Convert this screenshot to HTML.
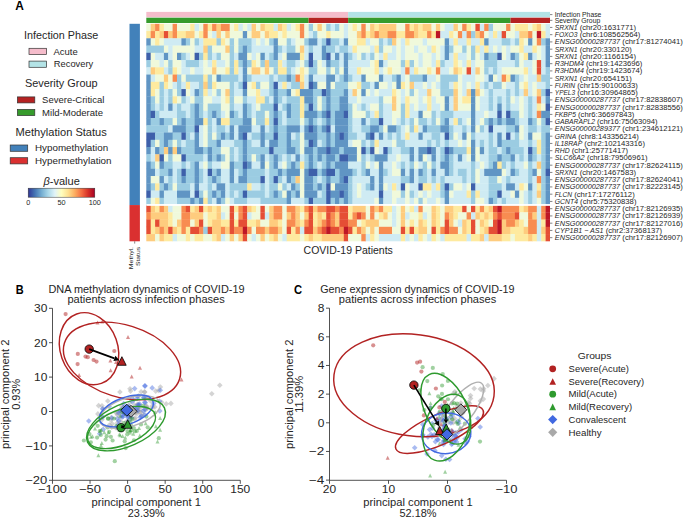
<!DOCTYPE html>
<html><head><meta charset="utf-8"><style>
html,body{margin:0;padding:0;background:#fff;}
svg{display:block;}
text{font-family:"Liberation Sans", sans-serif;}
</style></head><body>
<svg width="685" height="518" viewBox="0 0 685 518" font-family='"Liberation Sans", sans-serif'>
<rect width="685" height="518" fill="#fff"/>
<rect x="146.3" y="23.80" width="4.7" height="7.55" fill="#f0f9db"/>
<rect x="150.7" y="23.80" width="4.7" height="7.55" fill="#fecc7e"/>
<rect x="155.1" y="23.80" width="4.7" height="7.55" fill="#f88c51"/>
<rect x="159.5" y="23.80" width="4.7" height="7.55" fill="#feea9f"/>
<rect x="163.9" y="23.80" width="9.1" height="7.55" fill="#f0f9db"/>
<rect x="172.6" y="23.80" width="4.7" height="7.55" fill="#f88c51"/>
<rect x="177.0" y="23.80" width="13.5" height="7.55" fill="#f0f9db"/>
<rect x="190.2" y="23.80" width="4.7" height="7.55" fill="#feea9f"/>
<rect x="194.6" y="23.80" width="4.7" height="7.55" fill="#cfebf3"/>
<rect x="199.0" y="23.80" width="4.7" height="7.55" fill="#f0f9db"/>
<rect x="203.3" y="23.80" width="4.7" height="7.55" fill="#f88c51"/>
<rect x="207.7" y="23.80" width="4.7" height="7.55" fill="#feea9f"/>
<rect x="212.1" y="23.80" width="4.7" height="7.55" fill="#f88c51"/>
<rect x="216.5" y="23.80" width="4.7" height="7.55" fill="#fecc7e"/>
<rect x="220.9" y="23.80" width="9.1" height="7.55" fill="#f88c51"/>
<rect x="229.7" y="23.80" width="4.7" height="7.55" fill="#f0f9db"/>
<rect x="234.1" y="23.80" width="4.7" height="7.55" fill="#feea9f"/>
<rect x="238.4" y="23.80" width="4.7" height="7.55" fill="#cfebf3"/>
<rect x="242.8" y="23.80" width="4.7" height="7.55" fill="#f0f9db"/>
<rect x="247.2" y="23.80" width="4.7" height="7.55" fill="#cfebf3"/>
<rect x="251.6" y="23.80" width="4.7" height="7.55" fill="#fecc7e"/>
<rect x="256.0" y="23.80" width="4.7" height="7.55" fill="#f0f9db"/>
<rect x="260.4" y="23.80" width="4.7" height="7.55" fill="#fecc7e"/>
<rect x="264.8" y="23.80" width="9.1" height="7.55" fill="#feea9f"/>
<rect x="273.6" y="23.80" width="4.7" height="7.55" fill="#cfebf3"/>
<rect x="277.9" y="23.80" width="4.7" height="7.55" fill="#fecc7e"/>
<rect x="282.3" y="23.80" width="4.7" height="7.55" fill="#feea9f"/>
<rect x="286.7" y="23.80" width="4.7" height="7.55" fill="#cfebf3"/>
<rect x="291.1" y="23.80" width="4.7" height="7.55" fill="#f0f9db"/>
<rect x="295.5" y="23.80" width="4.7" height="7.55" fill="#feea9f"/>
<rect x="299.9" y="23.80" width="4.7" height="7.55" fill="#f88c51"/>
<rect x="304.3" y="23.80" width="4.7" height="7.55" fill="#f0f9db"/>
<rect x="308.7" y="23.80" width="4.7" height="7.55" fill="#9bcce2"/>
<rect x="313.0" y="23.80" width="4.7" height="7.55" fill="#f0f9db"/>
<rect x="317.4" y="23.80" width="4.7" height="7.55" fill="#fecc7e"/>
<rect x="321.8" y="23.80" width="4.7" height="7.55" fill="#f0f9db"/>
<rect x="326.2" y="23.80" width="4.7" height="7.55" fill="#9bcce2"/>
<rect x="330.6" y="23.80" width="4.7" height="7.55" fill="#cfebf3"/>
<rect x="335.0" y="23.80" width="4.7" height="7.55" fill="#9bcce2"/>
<rect x="339.4" y="23.80" width="4.7" height="7.55" fill="#f0f9db"/>
<rect x="343.8" y="23.80" width="4.7" height="7.55" fill="#cfebf3"/>
<rect x="348.1" y="23.80" width="4.7" height="7.55" fill="#f0f9db"/>
<rect x="352.5" y="23.80" width="4.7" height="7.55" fill="#feea9f"/>
<rect x="356.9" y="23.80" width="4.7" height="7.55" fill="#f0f9db"/>
<rect x="361.3" y="23.80" width="4.7" height="7.55" fill="#f88c51"/>
<rect x="365.7" y="23.80" width="4.7" height="7.55" fill="#f0f9db"/>
<rect x="370.1" y="23.80" width="4.7" height="7.55" fill="#fecc7e"/>
<rect x="374.5" y="23.80" width="4.7" height="7.55" fill="#feea9f"/>
<rect x="378.9" y="23.80" width="17.9" height="7.55" fill="#fecc7e"/>
<rect x="396.4" y="23.80" width="9.1" height="7.55" fill="#f0f9db"/>
<rect x="405.2" y="23.80" width="4.7" height="7.55" fill="#f88c51"/>
<rect x="409.6" y="23.80" width="4.7" height="7.55" fill="#feea9f"/>
<rect x="414.0" y="23.80" width="4.7" height="7.55" fill="#fecc7e"/>
<rect x="418.4" y="23.80" width="4.7" height="7.55" fill="#feea9f"/>
<rect x="422.7" y="23.80" width="9.1" height="7.55" fill="#fecc7e"/>
<rect x="431.5" y="23.80" width="4.7" height="7.55" fill="#f0f9db"/>
<rect x="435.9" y="23.80" width="4.7" height="7.55" fill="#fecc7e"/>
<rect x="440.3" y="23.80" width="4.7" height="7.55" fill="#f0f9db"/>
<rect x="444.7" y="23.80" width="9.1" height="7.55" fill="#cfebf3"/>
<rect x="453.5" y="23.80" width="4.7" height="7.55" fill="#fecc7e"/>
<rect x="457.9" y="23.80" width="4.7" height="7.55" fill="#f0f9db"/>
<rect x="462.2" y="23.80" width="4.7" height="7.55" fill="#f88c51"/>
<rect x="466.6" y="23.80" width="4.7" height="7.55" fill="#feea9f"/>
<rect x="471.0" y="23.80" width="4.7" height="7.55" fill="#f0f9db"/>
<rect x="475.4" y="23.80" width="4.7" height="7.55" fill="#e54e35"/>
<rect x="479.8" y="23.80" width="4.7" height="7.55" fill="#cfebf3"/>
<rect x="484.2" y="23.80" width="4.7" height="7.55" fill="#f88c51"/>
<rect x="488.6" y="23.80" width="4.7" height="7.55" fill="#9bcce2"/>
<rect x="493.0" y="23.80" width="13.5" height="7.55" fill="#f0f9db"/>
<rect x="506.1" y="23.80" width="4.7" height="7.55" fill="#f88c51"/>
<rect x="510.5" y="23.80" width="4.7" height="7.55" fill="#f0f9db"/>
<rect x="514.9" y="23.80" width="13.5" height="7.55" fill="#feea9f"/>
<rect x="528.1" y="23.80" width="4.7" height="7.55" fill="#f0f9db"/>
<rect x="532.4" y="23.80" width="4.7" height="7.55" fill="#feea9f"/>
<rect x="536.8" y="23.80" width="4.7" height="7.55" fill="#fecc7e"/>
<rect x="541.2" y="23.80" width="4.7" height="7.55" fill="#f0f9db"/>
<rect x="545.6" y="23.80" width="4.4" height="7.55" fill="#cfebf3"/>
<rect x="146.3" y="31.05" width="4.7" height="7.55" fill="#feea9f"/>
<rect x="150.7" y="31.05" width="4.7" height="7.55" fill="#f88c51"/>
<rect x="155.1" y="31.05" width="4.7" height="7.55" fill="#feea9f"/>
<rect x="159.5" y="31.05" width="4.7" height="7.55" fill="#fecc7e"/>
<rect x="163.9" y="31.05" width="4.7" height="7.55" fill="#e54e35"/>
<rect x="168.2" y="31.05" width="4.7" height="7.55" fill="#fecc7e"/>
<rect x="172.6" y="31.05" width="4.7" height="7.55" fill="#f88c51"/>
<rect x="177.0" y="31.05" width="9.1" height="7.55" fill="#feea9f"/>
<rect x="185.8" y="31.05" width="9.1" height="7.55" fill="#fecc7e"/>
<rect x="194.6" y="31.05" width="4.7" height="7.55" fill="#f0f9db"/>
<rect x="199.0" y="31.05" width="4.7" height="7.55" fill="#feea9f"/>
<rect x="203.3" y="31.05" width="4.7" height="7.55" fill="#f88c51"/>
<rect x="207.7" y="31.05" width="4.7" height="7.55" fill="#f0f9db"/>
<rect x="212.1" y="31.05" width="4.7" height="7.55" fill="#cfebf3"/>
<rect x="216.5" y="31.05" width="4.7" height="7.55" fill="#fecc7e"/>
<rect x="220.9" y="31.05" width="4.7" height="7.55" fill="#f0f9db"/>
<rect x="225.3" y="31.05" width="4.7" height="7.55" fill="#fecc7e"/>
<rect x="229.7" y="31.05" width="13.5" height="7.55" fill="#f0f9db"/>
<rect x="242.8" y="31.05" width="4.7" height="7.55" fill="#6095c4"/>
<rect x="247.2" y="31.05" width="4.7" height="7.55" fill="#f0f9db"/>
<rect x="251.6" y="31.05" width="9.1" height="7.55" fill="#fecc7e"/>
<rect x="260.4" y="31.05" width="4.7" height="7.55" fill="#f0f9db"/>
<rect x="264.8" y="31.05" width="4.7" height="7.55" fill="#fecc7e"/>
<rect x="269.2" y="31.05" width="9.1" height="7.55" fill="#feea9f"/>
<rect x="277.9" y="31.05" width="4.7" height="7.55" fill="#f0f9db"/>
<rect x="282.3" y="31.05" width="4.7" height="7.55" fill="#feea9f"/>
<rect x="286.7" y="31.05" width="13.5" height="7.55" fill="#f0f9db"/>
<rect x="299.9" y="31.05" width="4.7" height="7.55" fill="#f88c51"/>
<rect x="304.3" y="31.05" width="4.7" height="7.55" fill="#f0f9db"/>
<rect x="308.7" y="31.05" width="4.7" height="7.55" fill="#cfebf3"/>
<rect x="313.0" y="31.05" width="4.7" height="7.55" fill="#9bcce2"/>
<rect x="317.4" y="31.05" width="9.1" height="7.55" fill="#f0f9db"/>
<rect x="326.2" y="31.05" width="4.7" height="7.55" fill="#feea9f"/>
<rect x="330.6" y="31.05" width="13.5" height="7.55" fill="#f0f9db"/>
<rect x="343.8" y="31.05" width="4.7" height="7.55" fill="#cfebf3"/>
<rect x="348.1" y="31.05" width="9.1" height="7.55" fill="#f0f9db"/>
<rect x="356.9" y="31.05" width="4.7" height="7.55" fill="#fecc7e"/>
<rect x="361.3" y="31.05" width="4.7" height="7.55" fill="#f88c51"/>
<rect x="365.7" y="31.05" width="4.7" height="7.55" fill="#feea9f"/>
<rect x="370.1" y="31.05" width="4.7" height="7.55" fill="#fecc7e"/>
<rect x="374.5" y="31.05" width="4.7" height="7.55" fill="#f88c51"/>
<rect x="378.9" y="31.05" width="9.1" height="7.55" fill="#fecc7e"/>
<rect x="387.6" y="31.05" width="9.1" height="7.55" fill="#f88c51"/>
<rect x="396.4" y="31.05" width="9.1" height="7.55" fill="#feea9f"/>
<rect x="405.2" y="31.05" width="9.1" height="7.55" fill="#f88c51"/>
<rect x="414.0" y="31.05" width="4.7" height="7.55" fill="#fecc7e"/>
<rect x="418.4" y="31.05" width="9.1" height="7.55" fill="#feea9f"/>
<rect x="427.1" y="31.05" width="4.7" height="7.55" fill="#f88c51"/>
<rect x="431.5" y="31.05" width="4.7" height="7.55" fill="#feea9f"/>
<rect x="435.9" y="31.05" width="4.7" height="7.55" fill="#bd1726"/>
<rect x="440.3" y="31.05" width="9.1" height="7.55" fill="#cfebf3"/>
<rect x="449.1" y="31.05" width="4.7" height="7.55" fill="#feea9f"/>
<rect x="453.5" y="31.05" width="4.7" height="7.55" fill="#f0f9db"/>
<rect x="457.9" y="31.05" width="4.7" height="7.55" fill="#f88c51"/>
<rect x="462.2" y="31.05" width="4.7" height="7.55" fill="#cfebf3"/>
<rect x="466.6" y="31.05" width="4.7" height="7.55" fill="#f88c51"/>
<rect x="471.0" y="31.05" width="4.7" height="7.55" fill="#9bcce2"/>
<rect x="475.4" y="31.05" width="4.7" height="7.55" fill="#fecc7e"/>
<rect x="479.8" y="31.05" width="4.7" height="7.55" fill="#f88c51"/>
<rect x="484.2" y="31.05" width="4.7" height="7.55" fill="#f0f9db"/>
<rect x="488.6" y="31.05" width="4.7" height="7.55" fill="#cfebf3"/>
<rect x="493.0" y="31.05" width="4.7" height="7.55" fill="#feea9f"/>
<rect x="497.3" y="31.05" width="4.7" height="7.55" fill="#cfebf3"/>
<rect x="501.7" y="31.05" width="4.7" height="7.55" fill="#e54e35"/>
<rect x="506.1" y="31.05" width="9.1" height="7.55" fill="#f0f9db"/>
<rect x="514.9" y="31.05" width="4.7" height="7.55" fill="#cfebf3"/>
<rect x="519.3" y="31.05" width="9.1" height="7.55" fill="#fecc7e"/>
<rect x="528.1" y="31.05" width="4.7" height="7.55" fill="#f88c51"/>
<rect x="532.4" y="31.05" width="4.7" height="7.55" fill="#f0f9db"/>
<rect x="536.8" y="31.05" width="4.7" height="7.55" fill="#bd1726"/>
<rect x="541.2" y="31.05" width="4.7" height="7.55" fill="#feea9f"/>
<rect x="545.6" y="31.05" width="4.4" height="7.55" fill="#cfebf3"/>
<rect x="146.3" y="38.30" width="4.7" height="7.55" fill="#6095c4"/>
<rect x="150.7" y="38.30" width="4.7" height="7.55" fill="#f0f9db"/>
<rect x="155.1" y="38.30" width="4.7" height="7.55" fill="#feea9f"/>
<rect x="159.5" y="38.30" width="4.7" height="7.55" fill="#f0f9db"/>
<rect x="163.9" y="38.30" width="17.9" height="7.55" fill="#cfebf3"/>
<rect x="181.4" y="38.30" width="4.7" height="7.55" fill="#6095c4"/>
<rect x="185.8" y="38.30" width="4.7" height="7.55" fill="#9bcce2"/>
<rect x="190.2" y="38.30" width="4.7" height="7.55" fill="#f0f9db"/>
<rect x="194.6" y="38.30" width="4.7" height="7.55" fill="#9bcce2"/>
<rect x="199.0" y="38.30" width="4.7" height="7.55" fill="#cfebf3"/>
<rect x="203.3" y="38.30" width="13.5" height="7.55" fill="#feea9f"/>
<rect x="216.5" y="38.30" width="4.7" height="7.55" fill="#9bcce2"/>
<rect x="220.9" y="38.30" width="4.7" height="7.55" fill="#feea9f"/>
<rect x="225.3" y="38.30" width="4.7" height="7.55" fill="#f0f9db"/>
<rect x="229.7" y="38.30" width="4.7" height="7.55" fill="#9bcce2"/>
<rect x="234.1" y="38.30" width="4.7" height="7.55" fill="#f0f9db"/>
<rect x="238.4" y="38.30" width="13.5" height="7.55" fill="#9bcce2"/>
<rect x="251.6" y="38.30" width="4.7" height="7.55" fill="#cfebf3"/>
<rect x="256.0" y="38.30" width="4.7" height="7.55" fill="#f0f9db"/>
<rect x="260.4" y="38.30" width="4.7" height="7.55" fill="#cfebf3"/>
<rect x="264.8" y="38.30" width="4.7" height="7.55" fill="#f0f9db"/>
<rect x="269.2" y="38.30" width="4.7" height="7.55" fill="#9bcce2"/>
<rect x="273.6" y="38.30" width="4.7" height="7.55" fill="#6095c4"/>
<rect x="277.9" y="38.30" width="9.1" height="7.55" fill="#f0f9db"/>
<rect x="286.7" y="38.30" width="4.7" height="7.55" fill="#9bcce2"/>
<rect x="291.1" y="38.30" width="4.7" height="7.55" fill="#cfebf3"/>
<rect x="295.5" y="38.30" width="9.1" height="7.55" fill="#f0f9db"/>
<rect x="304.3" y="38.30" width="4.7" height="7.55" fill="#9bcce2"/>
<rect x="308.7" y="38.30" width="9.1" height="7.55" fill="#6095c4"/>
<rect x="317.4" y="38.30" width="4.7" height="7.55" fill="#cfebf3"/>
<rect x="321.8" y="38.30" width="4.7" height="7.55" fill="#9bcce2"/>
<rect x="326.2" y="38.30" width="4.7" height="7.55" fill="#3e60aa"/>
<rect x="330.6" y="38.30" width="9.1" height="7.55" fill="#9bcce2"/>
<rect x="339.4" y="38.30" width="4.7" height="7.55" fill="#cfebf3"/>
<rect x="343.8" y="38.30" width="4.7" height="7.55" fill="#6095c4"/>
<rect x="348.1" y="38.30" width="9.1" height="7.55" fill="#f0f9db"/>
<rect x="356.9" y="38.30" width="9.1" height="7.55" fill="#feea9f"/>
<rect x="365.7" y="38.30" width="4.7" height="7.55" fill="#cfebf3"/>
<rect x="370.1" y="38.30" width="9.1" height="7.55" fill="#f0f9db"/>
<rect x="378.9" y="38.30" width="4.7" height="7.55" fill="#9bcce2"/>
<rect x="383.3" y="38.30" width="4.7" height="7.55" fill="#cfebf3"/>
<rect x="387.6" y="38.30" width="4.7" height="7.55" fill="#9bcce2"/>
<rect x="392.0" y="38.30" width="4.7" height="7.55" fill="#fecc7e"/>
<rect x="396.4" y="38.30" width="4.7" height="7.55" fill="#f0f9db"/>
<rect x="400.8" y="38.30" width="4.7" height="7.55" fill="#cfebf3"/>
<rect x="405.2" y="38.30" width="4.7" height="7.55" fill="#feea9f"/>
<rect x="409.6" y="38.30" width="13.5" height="7.55" fill="#f0f9db"/>
<rect x="422.7" y="38.30" width="4.7" height="7.55" fill="#cfebf3"/>
<rect x="427.1" y="38.30" width="17.9" height="7.55" fill="#f0f9db"/>
<rect x="444.7" y="38.30" width="4.7" height="7.55" fill="#6095c4"/>
<rect x="449.1" y="38.30" width="4.7" height="7.55" fill="#cfebf3"/>
<rect x="453.5" y="38.30" width="4.7" height="7.55" fill="#feea9f"/>
<rect x="457.9" y="38.30" width="9.1" height="7.55" fill="#cfebf3"/>
<rect x="466.6" y="38.30" width="4.7" height="7.55" fill="#feea9f"/>
<rect x="471.0" y="38.30" width="9.1" height="7.55" fill="#cfebf3"/>
<rect x="479.8" y="38.30" width="4.7" height="7.55" fill="#feea9f"/>
<rect x="484.2" y="38.30" width="4.7" height="7.55" fill="#6095c4"/>
<rect x="488.6" y="38.30" width="13.5" height="7.55" fill="#cfebf3"/>
<rect x="501.7" y="38.30" width="9.1" height="7.55" fill="#9bcce2"/>
<rect x="510.5" y="38.30" width="4.7" height="7.55" fill="#cfebf3"/>
<rect x="514.9" y="38.30" width="4.7" height="7.55" fill="#9bcce2"/>
<rect x="519.3" y="38.30" width="4.7" height="7.55" fill="#feea9f"/>
<rect x="523.7" y="38.30" width="4.7" height="7.55" fill="#f0f9db"/>
<rect x="528.1" y="38.30" width="4.7" height="7.55" fill="#6095c4"/>
<rect x="532.4" y="38.30" width="4.7" height="7.55" fill="#f0f9db"/>
<rect x="536.8" y="38.30" width="4.7" height="7.55" fill="#f88c51"/>
<rect x="541.2" y="38.30" width="4.7" height="7.55" fill="#9bcce2"/>
<rect x="545.6" y="38.30" width="4.4" height="7.55" fill="#6095c4"/>
<rect x="146.3" y="45.55" width="17.9" height="7.55" fill="#9bcce2"/>
<rect x="163.9" y="45.55" width="4.7" height="7.55" fill="#f0f9db"/>
<rect x="168.2" y="45.55" width="4.7" height="7.55" fill="#cfebf3"/>
<rect x="172.6" y="45.55" width="22.2" height="7.55" fill="#f0f9db"/>
<rect x="194.6" y="45.55" width="9.1" height="7.55" fill="#cfebf3"/>
<rect x="203.3" y="45.55" width="4.7" height="7.55" fill="#fecc7e"/>
<rect x="207.7" y="45.55" width="4.7" height="7.55" fill="#9bcce2"/>
<rect x="212.1" y="45.55" width="13.5" height="7.55" fill="#f0f9db"/>
<rect x="225.3" y="45.55" width="4.7" height="7.55" fill="#fecc7e"/>
<rect x="229.7" y="45.55" width="4.7" height="7.55" fill="#9bcce2"/>
<rect x="234.1" y="45.55" width="4.7" height="7.55" fill="#f0f9db"/>
<rect x="238.4" y="45.55" width="4.7" height="7.55" fill="#9bcce2"/>
<rect x="242.8" y="45.55" width="4.7" height="7.55" fill="#6095c4"/>
<rect x="247.2" y="45.55" width="4.7" height="7.55" fill="#9bcce2"/>
<rect x="251.6" y="45.55" width="22.2" height="7.55" fill="#cfebf3"/>
<rect x="273.6" y="45.55" width="4.7" height="7.55" fill="#6095c4"/>
<rect x="277.9" y="45.55" width="4.7" height="7.55" fill="#9bcce2"/>
<rect x="282.3" y="45.55" width="4.7" height="7.55" fill="#cfebf3"/>
<rect x="286.7" y="45.55" width="9.1" height="7.55" fill="#9bcce2"/>
<rect x="295.5" y="45.55" width="4.7" height="7.55" fill="#f0f9db"/>
<rect x="299.9" y="45.55" width="4.7" height="7.55" fill="#fecc7e"/>
<rect x="304.3" y="45.55" width="4.7" height="7.55" fill="#cfebf3"/>
<rect x="308.7" y="45.55" width="4.7" height="7.55" fill="#9bcce2"/>
<rect x="313.0" y="45.55" width="9.1" height="7.55" fill="#cfebf3"/>
<rect x="321.8" y="45.55" width="4.7" height="7.55" fill="#6095c4"/>
<rect x="326.2" y="45.55" width="9.1" height="7.55" fill="#9bcce2"/>
<rect x="335.0" y="45.55" width="4.7" height="7.55" fill="#cfebf3"/>
<rect x="339.4" y="45.55" width="9.1" height="7.55" fill="#9bcce2"/>
<rect x="348.1" y="45.55" width="4.7" height="7.55" fill="#cfebf3"/>
<rect x="352.5" y="45.55" width="4.7" height="7.55" fill="#feea9f"/>
<rect x="356.9" y="45.55" width="13.5" height="7.55" fill="#f0f9db"/>
<rect x="370.1" y="45.55" width="4.7" height="7.55" fill="#cfebf3"/>
<rect x="374.5" y="45.55" width="4.7" height="7.55" fill="#feea9f"/>
<rect x="378.9" y="45.55" width="4.7" height="7.55" fill="#9bcce2"/>
<rect x="383.3" y="45.55" width="9.1" height="7.55" fill="#f0f9db"/>
<rect x="392.0" y="45.55" width="4.7" height="7.55" fill="#cfebf3"/>
<rect x="396.4" y="45.55" width="4.7" height="7.55" fill="#f0f9db"/>
<rect x="400.8" y="45.55" width="4.7" height="7.55" fill="#cfebf3"/>
<rect x="405.2" y="45.55" width="9.1" height="7.55" fill="#f0f9db"/>
<rect x="414.0" y="45.55" width="4.7" height="7.55" fill="#cfebf3"/>
<rect x="418.4" y="45.55" width="9.1" height="7.55" fill="#f0f9db"/>
<rect x="427.1" y="45.55" width="4.7" height="7.55" fill="#cfebf3"/>
<rect x="431.5" y="45.55" width="4.7" height="7.55" fill="#feea9f"/>
<rect x="435.9" y="45.55" width="4.7" height="7.55" fill="#f0f9db"/>
<rect x="440.3" y="45.55" width="4.7" height="7.55" fill="#cfebf3"/>
<rect x="444.7" y="45.55" width="4.7" height="7.55" fill="#6095c4"/>
<rect x="449.1" y="45.55" width="4.7" height="7.55" fill="#9bcce2"/>
<rect x="453.5" y="45.55" width="9.1" height="7.55" fill="#f0f9db"/>
<rect x="462.2" y="45.55" width="4.7" height="7.55" fill="#9bcce2"/>
<rect x="466.6" y="45.55" width="4.7" height="7.55" fill="#f0f9db"/>
<rect x="471.0" y="45.55" width="4.7" height="7.55" fill="#9bcce2"/>
<rect x="475.4" y="45.55" width="4.7" height="7.55" fill="#feea9f"/>
<rect x="479.8" y="45.55" width="4.7" height="7.55" fill="#cfebf3"/>
<rect x="484.2" y="45.55" width="4.7" height="7.55" fill="#feea9f"/>
<rect x="488.6" y="45.55" width="4.7" height="7.55" fill="#cfebf3"/>
<rect x="493.0" y="45.55" width="4.7" height="7.55" fill="#f0f9db"/>
<rect x="497.3" y="45.55" width="4.7" height="7.55" fill="#cfebf3"/>
<rect x="501.7" y="45.55" width="4.7" height="7.55" fill="#f0f9db"/>
<rect x="506.1" y="45.55" width="4.7" height="7.55" fill="#cfebf3"/>
<rect x="510.5" y="45.55" width="9.1" height="7.55" fill="#f0f9db"/>
<rect x="519.3" y="45.55" width="4.7" height="7.55" fill="#feea9f"/>
<rect x="523.7" y="45.55" width="9.1" height="7.55" fill="#cfebf3"/>
<rect x="532.4" y="45.55" width="4.7" height="7.55" fill="#feea9f"/>
<rect x="536.8" y="45.55" width="4.7" height="7.55" fill="#f0f9db"/>
<rect x="541.2" y="45.55" width="4.7" height="7.55" fill="#cfebf3"/>
<rect x="545.6" y="45.55" width="4.4" height="7.55" fill="#6095c4"/>
<rect x="146.3" y="52.80" width="4.7" height="7.55" fill="#3e60aa"/>
<rect x="150.7" y="52.80" width="4.7" height="7.55" fill="#f0f9db"/>
<rect x="155.1" y="52.80" width="9.1" height="7.55" fill="#cfebf3"/>
<rect x="163.9" y="52.80" width="4.7" height="7.55" fill="#6095c4"/>
<rect x="168.2" y="52.80" width="4.7" height="7.55" fill="#cfebf3"/>
<rect x="172.6" y="52.80" width="4.7" height="7.55" fill="#f0f9db"/>
<rect x="177.0" y="52.80" width="4.7" height="7.55" fill="#6095c4"/>
<rect x="181.4" y="52.80" width="4.7" height="7.55" fill="#9bcce2"/>
<rect x="185.8" y="52.80" width="4.7" height="7.55" fill="#cfebf3"/>
<rect x="190.2" y="52.80" width="4.7" height="7.55" fill="#f0f9db"/>
<rect x="194.6" y="52.80" width="4.7" height="7.55" fill="#3e60aa"/>
<rect x="199.0" y="52.80" width="4.7" height="7.55" fill="#9bcce2"/>
<rect x="203.3" y="52.80" width="4.7" height="7.55" fill="#feea9f"/>
<rect x="207.7" y="52.80" width="4.7" height="7.55" fill="#9bcce2"/>
<rect x="212.1" y="52.80" width="4.7" height="7.55" fill="#cfebf3"/>
<rect x="216.5" y="52.80" width="4.7" height="7.55" fill="#9bcce2"/>
<rect x="220.9" y="52.80" width="9.1" height="7.55" fill="#f0f9db"/>
<rect x="229.7" y="52.80" width="4.7" height="7.55" fill="#9bcce2"/>
<rect x="234.1" y="52.80" width="4.7" height="7.55" fill="#cfebf3"/>
<rect x="238.4" y="52.80" width="9.1" height="7.55" fill="#6095c4"/>
<rect x="247.2" y="52.80" width="4.7" height="7.55" fill="#f0f9db"/>
<rect x="251.6" y="52.80" width="4.7" height="7.55" fill="#cfebf3"/>
<rect x="256.0" y="52.80" width="4.7" height="7.55" fill="#f0f9db"/>
<rect x="260.4" y="52.80" width="4.7" height="7.55" fill="#6095c4"/>
<rect x="264.8" y="52.80" width="4.7" height="7.55" fill="#cfebf3"/>
<rect x="269.2" y="52.80" width="4.7" height="7.55" fill="#9bcce2"/>
<rect x="273.6" y="52.80" width="4.7" height="7.55" fill="#6095c4"/>
<rect x="277.9" y="52.80" width="4.7" height="7.55" fill="#cfebf3"/>
<rect x="282.3" y="52.80" width="4.7" height="7.55" fill="#f0f9db"/>
<rect x="286.7" y="52.80" width="13.5" height="7.55" fill="#6095c4"/>
<rect x="299.9" y="52.80" width="4.7" height="7.55" fill="#feea9f"/>
<rect x="304.3" y="52.80" width="4.7" height="7.55" fill="#cfebf3"/>
<rect x="308.7" y="52.80" width="4.7" height="7.55" fill="#3e60aa"/>
<rect x="313.0" y="52.80" width="9.1" height="7.55" fill="#cfebf3"/>
<rect x="321.8" y="52.80" width="4.7" height="7.55" fill="#6095c4"/>
<rect x="326.2" y="52.80" width="4.7" height="7.55" fill="#3e60aa"/>
<rect x="330.6" y="52.80" width="4.7" height="7.55" fill="#cfebf3"/>
<rect x="335.0" y="52.80" width="4.7" height="7.55" fill="#6095c4"/>
<rect x="339.4" y="52.80" width="4.7" height="7.55" fill="#cfebf3"/>
<rect x="343.8" y="52.80" width="4.7" height="7.55" fill="#6095c4"/>
<rect x="348.1" y="52.80" width="4.7" height="7.55" fill="#9bcce2"/>
<rect x="352.5" y="52.80" width="4.7" height="7.55" fill="#cfebf3"/>
<rect x="356.9" y="52.80" width="4.7" height="7.55" fill="#f0f9db"/>
<rect x="361.3" y="52.80" width="4.7" height="7.55" fill="#9bcce2"/>
<rect x="365.7" y="52.80" width="4.7" height="7.55" fill="#cfebf3"/>
<rect x="370.1" y="52.80" width="4.7" height="7.55" fill="#9bcce2"/>
<rect x="374.5" y="52.80" width="4.7" height="7.55" fill="#f0f9db"/>
<rect x="378.9" y="52.80" width="4.7" height="7.55" fill="#cfebf3"/>
<rect x="383.3" y="52.80" width="4.7" height="7.55" fill="#feea9f"/>
<rect x="387.6" y="52.80" width="9.1" height="7.55" fill="#cfebf3"/>
<rect x="396.4" y="52.80" width="4.7" height="7.55" fill="#f0f9db"/>
<rect x="400.8" y="52.80" width="4.7" height="7.55" fill="#cfebf3"/>
<rect x="405.2" y="52.80" width="13.5" height="7.55" fill="#f0f9db"/>
<rect x="418.4" y="52.80" width="4.7" height="7.55" fill="#cfebf3"/>
<rect x="422.7" y="52.80" width="9.1" height="7.55" fill="#f0f9db"/>
<rect x="431.5" y="52.80" width="4.7" height="7.55" fill="#cfebf3"/>
<rect x="435.9" y="52.80" width="4.7" height="7.55" fill="#f0f9db"/>
<rect x="440.3" y="52.80" width="4.7" height="7.55" fill="#cfebf3"/>
<rect x="444.7" y="52.80" width="4.7" height="7.55" fill="#6095c4"/>
<rect x="449.1" y="52.80" width="4.7" height="7.55" fill="#cfebf3"/>
<rect x="453.5" y="52.80" width="4.7" height="7.55" fill="#feea9f"/>
<rect x="457.9" y="52.80" width="9.1" height="7.55" fill="#cfebf3"/>
<rect x="466.6" y="52.80" width="4.7" height="7.55" fill="#f0f9db"/>
<rect x="471.0" y="52.80" width="4.7" height="7.55" fill="#9bcce2"/>
<rect x="475.4" y="52.80" width="4.7" height="7.55" fill="#f0f9db"/>
<rect x="479.8" y="52.80" width="4.7" height="7.55" fill="#cfebf3"/>
<rect x="484.2" y="52.80" width="4.7" height="7.55" fill="#6095c4"/>
<rect x="488.6" y="52.80" width="9.1" height="7.55" fill="#9bcce2"/>
<rect x="497.3" y="52.80" width="4.7" height="7.55" fill="#3e60aa"/>
<rect x="501.7" y="52.80" width="4.7" height="7.55" fill="#f0f9db"/>
<rect x="506.1" y="52.80" width="4.7" height="7.55" fill="#cfebf3"/>
<rect x="510.5" y="52.80" width="4.7" height="7.55" fill="#6095c4"/>
<rect x="514.9" y="52.80" width="4.7" height="7.55" fill="#9bcce2"/>
<rect x="519.3" y="52.80" width="4.7" height="7.55" fill="#f0f9db"/>
<rect x="523.7" y="52.80" width="4.7" height="7.55" fill="#feea9f"/>
<rect x="528.1" y="52.80" width="4.7" height="7.55" fill="#6095c4"/>
<rect x="532.4" y="52.80" width="4.7" height="7.55" fill="#cfebf3"/>
<rect x="536.8" y="52.80" width="4.7" height="7.55" fill="#f0f9db"/>
<rect x="541.2" y="52.80" width="4.7" height="7.55" fill="#cfebf3"/>
<rect x="545.6" y="52.80" width="4.4" height="7.55" fill="#6095c4"/>
<rect x="146.3" y="60.05" width="4.7" height="7.55" fill="#9bcce2"/>
<rect x="150.7" y="60.05" width="9.1" height="7.55" fill="#f0f9db"/>
<rect x="159.5" y="60.05" width="4.7" height="7.55" fill="#cfebf3"/>
<rect x="163.9" y="60.05" width="4.7" height="7.55" fill="#f0f9db"/>
<rect x="168.2" y="60.05" width="4.7" height="7.55" fill="#9bcce2"/>
<rect x="172.6" y="60.05" width="9.1" height="7.55" fill="#f0f9db"/>
<rect x="181.4" y="60.05" width="4.7" height="7.55" fill="#cfebf3"/>
<rect x="185.8" y="60.05" width="13.5" height="7.55" fill="#9bcce2"/>
<rect x="199.0" y="60.05" width="4.7" height="7.55" fill="#cfebf3"/>
<rect x="203.3" y="60.05" width="4.7" height="7.55" fill="#f0f9db"/>
<rect x="207.7" y="60.05" width="4.7" height="7.55" fill="#cfebf3"/>
<rect x="212.1" y="60.05" width="4.7" height="7.55" fill="#feea9f"/>
<rect x="216.5" y="60.05" width="9.1" height="7.55" fill="#cfebf3"/>
<rect x="225.3" y="60.05" width="4.7" height="7.55" fill="#f0f9db"/>
<rect x="229.7" y="60.05" width="4.7" height="7.55" fill="#9bcce2"/>
<rect x="234.1" y="60.05" width="4.7" height="7.55" fill="#feea9f"/>
<rect x="238.4" y="60.05" width="4.7" height="7.55" fill="#9bcce2"/>
<rect x="242.8" y="60.05" width="4.7" height="7.55" fill="#6095c4"/>
<rect x="247.2" y="60.05" width="4.7" height="7.55" fill="#9bcce2"/>
<rect x="251.6" y="60.05" width="4.7" height="7.55" fill="#feea9f"/>
<rect x="256.0" y="60.05" width="4.7" height="7.55" fill="#f0f9db"/>
<rect x="260.4" y="60.05" width="4.7" height="7.55" fill="#9bcce2"/>
<rect x="264.8" y="60.05" width="4.7" height="7.55" fill="#fecc7e"/>
<rect x="269.2" y="60.05" width="9.1" height="7.55" fill="#9bcce2"/>
<rect x="277.9" y="60.05" width="4.7" height="7.55" fill="#feea9f"/>
<rect x="282.3" y="60.05" width="4.7" height="7.55" fill="#cfebf3"/>
<rect x="286.7" y="60.05" width="9.1" height="7.55" fill="#9bcce2"/>
<rect x="295.5" y="60.05" width="4.7" height="7.55" fill="#cfebf3"/>
<rect x="299.9" y="60.05" width="4.7" height="7.55" fill="#f0f9db"/>
<rect x="304.3" y="60.05" width="4.7" height="7.55" fill="#9bcce2"/>
<rect x="308.7" y="60.05" width="4.7" height="7.55" fill="#3e60aa"/>
<rect x="313.0" y="60.05" width="4.7" height="7.55" fill="#9bcce2"/>
<rect x="317.4" y="60.05" width="4.7" height="7.55" fill="#f0f9db"/>
<rect x="321.8" y="60.05" width="4.7" height="7.55" fill="#cfebf3"/>
<rect x="326.2" y="60.05" width="4.7" height="7.55" fill="#6095c4"/>
<rect x="330.6" y="60.05" width="9.1" height="7.55" fill="#9bcce2"/>
<rect x="339.4" y="60.05" width="4.7" height="7.55" fill="#cfebf3"/>
<rect x="343.8" y="60.05" width="4.7" height="7.55" fill="#6095c4"/>
<rect x="348.1" y="60.05" width="22.2" height="7.55" fill="#cfebf3"/>
<rect x="370.1" y="60.05" width="4.7" height="7.55" fill="#f0f9db"/>
<rect x="374.5" y="60.05" width="4.7" height="7.55" fill="#feea9f"/>
<rect x="378.9" y="60.05" width="4.7" height="7.55" fill="#6095c4"/>
<rect x="383.3" y="60.05" width="4.7" height="7.55" fill="#cfebf3"/>
<rect x="387.6" y="60.05" width="13.5" height="7.55" fill="#f0f9db"/>
<rect x="400.8" y="60.05" width="4.7" height="7.55" fill="#9bcce2"/>
<rect x="405.2" y="60.05" width="4.7" height="7.55" fill="#feea9f"/>
<rect x="409.6" y="60.05" width="4.7" height="7.55" fill="#9bcce2"/>
<rect x="414.0" y="60.05" width="4.7" height="7.55" fill="#f0f9db"/>
<rect x="418.4" y="60.05" width="4.7" height="7.55" fill="#cfebf3"/>
<rect x="422.7" y="60.05" width="9.1" height="7.55" fill="#f0f9db"/>
<rect x="431.5" y="60.05" width="4.7" height="7.55" fill="#cfebf3"/>
<rect x="435.9" y="60.05" width="4.7" height="7.55" fill="#feea9f"/>
<rect x="440.3" y="60.05" width="4.7" height="7.55" fill="#9bcce2"/>
<rect x="444.7" y="60.05" width="9.1" height="7.55" fill="#cfebf3"/>
<rect x="453.5" y="60.05" width="4.7" height="7.55" fill="#feea9f"/>
<rect x="457.9" y="60.05" width="4.7" height="7.55" fill="#f0f9db"/>
<rect x="462.2" y="60.05" width="4.7" height="7.55" fill="#cfebf3"/>
<rect x="466.6" y="60.05" width="4.7" height="7.55" fill="#feea9f"/>
<rect x="471.0" y="60.05" width="4.7" height="7.55" fill="#cfebf3"/>
<rect x="475.4" y="60.05" width="9.1" height="7.55" fill="#f0f9db"/>
<rect x="484.2" y="60.05" width="13.5" height="7.55" fill="#9bcce2"/>
<rect x="497.3" y="60.05" width="17.9" height="7.55" fill="#cfebf3"/>
<rect x="514.9" y="60.05" width="4.7" height="7.55" fill="#9bcce2"/>
<rect x="519.3" y="60.05" width="4.7" height="7.55" fill="#f0f9db"/>
<rect x="523.7" y="60.05" width="9.1" height="7.55" fill="#cfebf3"/>
<rect x="532.4" y="60.05" width="4.7" height="7.55" fill="#f0f9db"/>
<rect x="536.8" y="60.05" width="4.7" height="7.55" fill="#e54e35"/>
<rect x="541.2" y="60.05" width="4.7" height="7.55" fill="#cfebf3"/>
<rect x="545.6" y="60.05" width="4.4" height="7.55" fill="#6095c4"/>
<rect x="146.3" y="67.30" width="4.7" height="7.55" fill="#cfebf3"/>
<rect x="150.7" y="67.30" width="4.7" height="7.55" fill="#fecc7e"/>
<rect x="155.1" y="67.30" width="9.1" height="7.55" fill="#feea9f"/>
<rect x="163.9" y="67.30" width="4.7" height="7.55" fill="#cfebf3"/>
<rect x="168.2" y="67.30" width="4.7" height="7.55" fill="#9bcce2"/>
<rect x="172.6" y="67.30" width="4.7" height="7.55" fill="#feea9f"/>
<rect x="177.0" y="67.30" width="4.7" height="7.55" fill="#f0f9db"/>
<rect x="181.4" y="67.30" width="9.1" height="7.55" fill="#cfebf3"/>
<rect x="190.2" y="67.30" width="4.7" height="7.55" fill="#f0f9db"/>
<rect x="194.6" y="67.30" width="9.1" height="7.55" fill="#cfebf3"/>
<rect x="203.3" y="67.30" width="9.1" height="7.55" fill="#f0f9db"/>
<rect x="212.1" y="67.30" width="4.7" height="7.55" fill="#fecc7e"/>
<rect x="216.5" y="67.30" width="9.1" height="7.55" fill="#f0f9db"/>
<rect x="225.3" y="67.30" width="4.7" height="7.55" fill="#feea9f"/>
<rect x="229.7" y="67.30" width="4.7" height="7.55" fill="#9bcce2"/>
<rect x="234.1" y="67.30" width="4.7" height="7.55" fill="#feea9f"/>
<rect x="238.4" y="67.30" width="4.7" height="7.55" fill="#cfebf3"/>
<rect x="242.8" y="67.30" width="4.7" height="7.55" fill="#6095c4"/>
<rect x="247.2" y="67.30" width="4.7" height="7.55" fill="#f0f9db"/>
<rect x="251.6" y="67.30" width="9.1" height="7.55" fill="#fecc7e"/>
<rect x="260.4" y="67.30" width="4.7" height="7.55" fill="#f0f9db"/>
<rect x="264.8" y="67.30" width="4.7" height="7.55" fill="#fecc7e"/>
<rect x="269.2" y="67.30" width="4.7" height="7.55" fill="#f0f9db"/>
<rect x="273.6" y="67.30" width="4.7" height="7.55" fill="#9bcce2"/>
<rect x="277.9" y="67.30" width="9.1" height="7.55" fill="#feea9f"/>
<rect x="286.7" y="67.30" width="4.7" height="7.55" fill="#9bcce2"/>
<rect x="291.1" y="67.30" width="4.7" height="7.55" fill="#cfebf3"/>
<rect x="295.5" y="67.30" width="4.7" height="7.55" fill="#f0f9db"/>
<rect x="299.9" y="67.30" width="4.7" height="7.55" fill="#feea9f"/>
<rect x="304.3" y="67.30" width="4.7" height="7.55" fill="#f0f9db"/>
<rect x="308.7" y="67.30" width="9.1" height="7.55" fill="#9bcce2"/>
<rect x="317.4" y="67.30" width="9.1" height="7.55" fill="#f0f9db"/>
<rect x="326.2" y="67.30" width="4.7" height="7.55" fill="#9bcce2"/>
<rect x="330.6" y="67.30" width="4.7" height="7.55" fill="#f0f9db"/>
<rect x="335.0" y="67.30" width="4.7" height="7.55" fill="#9bcce2"/>
<rect x="339.4" y="67.30" width="4.7" height="7.55" fill="#f0f9db"/>
<rect x="343.8" y="67.30" width="4.7" height="7.55" fill="#6095c4"/>
<rect x="348.1" y="67.30" width="9.1" height="7.55" fill="#cfebf3"/>
<rect x="356.9" y="67.30" width="4.7" height="7.55" fill="#feea9f"/>
<rect x="361.3" y="67.30" width="13.5" height="7.55" fill="#f0f9db"/>
<rect x="374.5" y="67.30" width="4.7" height="7.55" fill="#feea9f"/>
<rect x="378.9" y="67.30" width="4.7" height="7.55" fill="#cfebf3"/>
<rect x="383.3" y="67.30" width="4.7" height="7.55" fill="#f0f9db"/>
<rect x="387.6" y="67.30" width="4.7" height="7.55" fill="#feea9f"/>
<rect x="392.0" y="67.30" width="9.1" height="7.55" fill="#f0f9db"/>
<rect x="400.8" y="67.30" width="4.7" height="7.55" fill="#cfebf3"/>
<rect x="405.2" y="67.30" width="4.7" height="7.55" fill="#f88c51"/>
<rect x="409.6" y="67.30" width="4.7" height="7.55" fill="#cfebf3"/>
<rect x="414.0" y="67.30" width="4.7" height="7.55" fill="#feea9f"/>
<rect x="418.4" y="67.30" width="9.1" height="7.55" fill="#f0f9db"/>
<rect x="427.1" y="67.30" width="4.7" height="7.55" fill="#feea9f"/>
<rect x="431.5" y="67.30" width="4.7" height="7.55" fill="#f0f9db"/>
<rect x="435.9" y="67.30" width="4.7" height="7.55" fill="#f88c51"/>
<rect x="440.3" y="67.30" width="9.1" height="7.55" fill="#cfebf3"/>
<rect x="449.1" y="67.30" width="4.7" height="7.55" fill="#f0f9db"/>
<rect x="453.5" y="67.30" width="4.7" height="7.55" fill="#fecc7e"/>
<rect x="457.9" y="67.30" width="4.7" height="7.55" fill="#feea9f"/>
<rect x="462.2" y="67.30" width="4.7" height="7.55" fill="#f0f9db"/>
<rect x="466.6" y="67.30" width="4.7" height="7.55" fill="#e54e35"/>
<rect x="471.0" y="67.30" width="4.7" height="7.55" fill="#cfebf3"/>
<rect x="475.4" y="67.30" width="4.7" height="7.55" fill="#fecc7e"/>
<rect x="479.8" y="67.30" width="4.7" height="7.55" fill="#f0f9db"/>
<rect x="484.2" y="67.30" width="4.7" height="7.55" fill="#9bcce2"/>
<rect x="488.6" y="67.30" width="4.7" height="7.55" fill="#cfebf3"/>
<rect x="493.0" y="67.30" width="4.7" height="7.55" fill="#9bcce2"/>
<rect x="497.3" y="67.30" width="4.7" height="7.55" fill="#cfebf3"/>
<rect x="501.7" y="67.30" width="22.2" height="7.55" fill="#f0f9db"/>
<rect x="523.7" y="67.30" width="4.7" height="7.55" fill="#feea9f"/>
<rect x="528.1" y="67.30" width="4.7" height="7.55" fill="#cfebf3"/>
<rect x="532.4" y="67.30" width="4.7" height="7.55" fill="#f0f9db"/>
<rect x="536.8" y="67.30" width="4.7" height="7.55" fill="#e54e35"/>
<rect x="541.2" y="67.30" width="4.7" height="7.55" fill="#cfebf3"/>
<rect x="545.6" y="67.30" width="4.4" height="7.55" fill="#9bcce2"/>
<rect x="146.3" y="74.55" width="4.7" height="7.55" fill="#6095c4"/>
<rect x="150.7" y="74.55" width="4.7" height="7.55" fill="#cfebf3"/>
<rect x="155.1" y="74.55" width="9.1" height="7.55" fill="#f0f9db"/>
<rect x="163.9" y="74.55" width="4.7" height="7.55" fill="#fecc7e"/>
<rect x="168.2" y="74.55" width="4.7" height="7.55" fill="#f0f9db"/>
<rect x="172.6" y="74.55" width="4.7" height="7.55" fill="#f88c51"/>
<rect x="177.0" y="74.55" width="4.7" height="7.55" fill="#9bcce2"/>
<rect x="181.4" y="74.55" width="4.7" height="7.55" fill="#f0f9db"/>
<rect x="185.8" y="74.55" width="17.9" height="7.55" fill="#9bcce2"/>
<rect x="203.3" y="74.55" width="4.7" height="7.55" fill="#feea9f"/>
<rect x="207.7" y="74.55" width="4.7" height="7.55" fill="#9bcce2"/>
<rect x="212.1" y="74.55" width="4.7" height="7.55" fill="#f0f9db"/>
<rect x="216.5" y="74.55" width="4.7" height="7.55" fill="#6095c4"/>
<rect x="220.9" y="74.55" width="17.9" height="7.55" fill="#9bcce2"/>
<rect x="238.4" y="74.55" width="4.7" height="7.55" fill="#cfebf3"/>
<rect x="242.8" y="74.55" width="4.7" height="7.55" fill="#6095c4"/>
<rect x="247.2" y="74.55" width="4.7" height="7.55" fill="#9bcce2"/>
<rect x="251.6" y="74.55" width="17.9" height="7.55" fill="#cfebf3"/>
<rect x="269.2" y="74.55" width="4.7" height="7.55" fill="#9bcce2"/>
<rect x="273.6" y="74.55" width="4.7" height="7.55" fill="#cfebf3"/>
<rect x="277.9" y="74.55" width="9.1" height="7.55" fill="#9bcce2"/>
<rect x="286.7" y="74.55" width="4.7" height="7.55" fill="#6095c4"/>
<rect x="291.1" y="74.55" width="4.7" height="7.55" fill="#9bcce2"/>
<rect x="295.5" y="74.55" width="4.7" height="7.55" fill="#f88c51"/>
<rect x="299.9" y="74.55" width="4.7" height="7.55" fill="#feea9f"/>
<rect x="304.3" y="74.55" width="4.7" height="7.55" fill="#cfebf3"/>
<rect x="308.7" y="74.55" width="4.7" height="7.55" fill="#6095c4"/>
<rect x="313.0" y="74.55" width="13.5" height="7.55" fill="#cfebf3"/>
<rect x="326.2" y="74.55" width="9.1" height="7.55" fill="#6095c4"/>
<rect x="335.0" y="74.55" width="4.7" height="7.55" fill="#cfebf3"/>
<rect x="339.4" y="74.55" width="4.7" height="7.55" fill="#9bcce2"/>
<rect x="343.8" y="74.55" width="4.7" height="7.55" fill="#6095c4"/>
<rect x="348.1" y="74.55" width="4.7" height="7.55" fill="#9bcce2"/>
<rect x="352.5" y="74.55" width="9.1" height="7.55" fill="#cfebf3"/>
<rect x="361.3" y="74.55" width="4.7" height="7.55" fill="#6095c4"/>
<rect x="365.7" y="74.55" width="13.5" height="7.55" fill="#f0f9db"/>
<rect x="378.9" y="74.55" width="4.7" height="7.55" fill="#6095c4"/>
<rect x="383.3" y="74.55" width="9.1" height="7.55" fill="#cfebf3"/>
<rect x="392.0" y="74.55" width="4.7" height="7.55" fill="#9bcce2"/>
<rect x="396.4" y="74.55" width="4.7" height="7.55" fill="#6095c4"/>
<rect x="400.8" y="74.55" width="4.7" height="7.55" fill="#cfebf3"/>
<rect x="405.2" y="74.55" width="4.7" height="7.55" fill="#f0f9db"/>
<rect x="409.6" y="74.55" width="13.5" height="7.55" fill="#9bcce2"/>
<rect x="422.7" y="74.55" width="4.7" height="7.55" fill="#6095c4"/>
<rect x="427.1" y="74.55" width="9.1" height="7.55" fill="#cfebf3"/>
<rect x="435.9" y="74.55" width="4.7" height="7.55" fill="#f0f9db"/>
<rect x="440.3" y="74.55" width="17.9" height="7.55" fill="#9bcce2"/>
<rect x="457.9" y="74.55" width="4.7" height="7.55" fill="#f0f9db"/>
<rect x="462.2" y="74.55" width="13.5" height="7.55" fill="#cfebf3"/>
<rect x="475.4" y="74.55" width="9.1" height="7.55" fill="#f0f9db"/>
<rect x="484.2" y="74.55" width="4.7" height="7.55" fill="#cfebf3"/>
<rect x="488.6" y="74.55" width="4.7" height="7.55" fill="#6095c4"/>
<rect x="493.0" y="74.55" width="4.7" height="7.55" fill="#f0f9db"/>
<rect x="497.3" y="74.55" width="4.7" height="7.55" fill="#cfebf3"/>
<rect x="501.7" y="74.55" width="4.7" height="7.55" fill="#f88c51"/>
<rect x="506.1" y="74.55" width="4.7" height="7.55" fill="#feea9f"/>
<rect x="510.5" y="74.55" width="4.7" height="7.55" fill="#6095c4"/>
<rect x="514.9" y="74.55" width="4.7" height="7.55" fill="#9bcce2"/>
<rect x="519.3" y="74.55" width="4.7" height="7.55" fill="#cfebf3"/>
<rect x="523.7" y="74.55" width="4.7" height="7.55" fill="#f0f9db"/>
<rect x="528.1" y="74.55" width="9.1" height="7.55" fill="#cfebf3"/>
<rect x="536.8" y="74.55" width="4.7" height="7.55" fill="#fecc7e"/>
<rect x="541.2" y="74.55" width="8.8" height="7.55" fill="#9bcce2"/>
<rect x="146.3" y="81.80" width="4.7" height="7.55" fill="#6095c4"/>
<rect x="150.7" y="81.80" width="9.1" height="7.55" fill="#feea9f"/>
<rect x="159.5" y="81.80" width="4.7" height="7.55" fill="#9bcce2"/>
<rect x="163.9" y="81.80" width="4.7" height="7.55" fill="#feea9f"/>
<rect x="168.2" y="81.80" width="4.7" height="7.55" fill="#f0f9db"/>
<rect x="172.6" y="81.80" width="4.7" height="7.55" fill="#cfebf3"/>
<rect x="177.0" y="81.80" width="4.7" height="7.55" fill="#9bcce2"/>
<rect x="181.4" y="81.80" width="4.7" height="7.55" fill="#cfebf3"/>
<rect x="185.8" y="81.80" width="4.7" height="7.55" fill="#feea9f"/>
<rect x="190.2" y="81.80" width="9.1" height="7.55" fill="#cfebf3"/>
<rect x="199.0" y="81.80" width="4.7" height="7.55" fill="#9bcce2"/>
<rect x="203.3" y="81.80" width="4.7" height="7.55" fill="#fecc7e"/>
<rect x="207.7" y="81.80" width="4.7" height="7.55" fill="#9bcce2"/>
<rect x="212.1" y="81.80" width="4.7" height="7.55" fill="#feea9f"/>
<rect x="216.5" y="81.80" width="13.5" height="7.55" fill="#f0f9db"/>
<rect x="229.7" y="81.80" width="4.7" height="7.55" fill="#9bcce2"/>
<rect x="234.1" y="81.80" width="4.7" height="7.55" fill="#cfebf3"/>
<rect x="238.4" y="81.80" width="4.7" height="7.55" fill="#9bcce2"/>
<rect x="242.8" y="81.80" width="4.7" height="7.55" fill="#3e60aa"/>
<rect x="247.2" y="81.80" width="4.7" height="7.55" fill="#f0f9db"/>
<rect x="251.6" y="81.80" width="4.7" height="7.55" fill="#feea9f"/>
<rect x="256.0" y="81.80" width="4.7" height="7.55" fill="#9bcce2"/>
<rect x="260.4" y="81.80" width="9.1" height="7.55" fill="#f0f9db"/>
<rect x="269.2" y="81.80" width="4.7" height="7.55" fill="#9bcce2"/>
<rect x="273.6" y="81.80" width="4.7" height="7.55" fill="#3e60aa"/>
<rect x="277.9" y="81.80" width="4.7" height="7.55" fill="#cfebf3"/>
<rect x="282.3" y="81.80" width="4.7" height="7.55" fill="#feea9f"/>
<rect x="286.7" y="81.80" width="4.7" height="7.55" fill="#cfebf3"/>
<rect x="291.1" y="81.80" width="9.1" height="7.55" fill="#9bcce2"/>
<rect x="299.9" y="81.80" width="4.7" height="7.55" fill="#fecc7e"/>
<rect x="304.3" y="81.80" width="4.7" height="7.55" fill="#cfebf3"/>
<rect x="308.7" y="81.80" width="4.7" height="7.55" fill="#3e60aa"/>
<rect x="313.0" y="81.80" width="4.7" height="7.55" fill="#6095c4"/>
<rect x="317.4" y="81.80" width="9.1" height="7.55" fill="#f0f9db"/>
<rect x="326.2" y="81.80" width="4.7" height="7.55" fill="#6095c4"/>
<rect x="330.6" y="81.80" width="4.7" height="7.55" fill="#f0f9db"/>
<rect x="335.0" y="81.80" width="13.5" height="7.55" fill="#9bcce2"/>
<rect x="348.1" y="81.80" width="9.1" height="7.55" fill="#f0f9db"/>
<rect x="356.9" y="81.80" width="4.7" height="7.55" fill="#feea9f"/>
<rect x="361.3" y="81.80" width="9.1" height="7.55" fill="#9bcce2"/>
<rect x="370.1" y="81.80" width="4.7" height="7.55" fill="#cfebf3"/>
<rect x="374.5" y="81.80" width="4.7" height="7.55" fill="#6095c4"/>
<rect x="378.9" y="81.80" width="9.1" height="7.55" fill="#f0f9db"/>
<rect x="387.6" y="81.80" width="4.7" height="7.55" fill="#cfebf3"/>
<rect x="392.0" y="81.80" width="4.7" height="7.55" fill="#f0f9db"/>
<rect x="396.4" y="81.80" width="4.7" height="7.55" fill="#6095c4"/>
<rect x="400.8" y="81.80" width="4.7" height="7.55" fill="#feea9f"/>
<rect x="405.2" y="81.80" width="4.7" height="7.55" fill="#f0f9db"/>
<rect x="409.6" y="81.80" width="4.7" height="7.55" fill="#fecc7e"/>
<rect x="414.0" y="81.80" width="9.1" height="7.55" fill="#cfebf3"/>
<rect x="422.7" y="81.80" width="4.7" height="7.55" fill="#f0f9db"/>
<rect x="427.1" y="81.80" width="4.7" height="7.55" fill="#cfebf3"/>
<rect x="431.5" y="81.80" width="4.7" height="7.55" fill="#f0f9db"/>
<rect x="435.9" y="81.80" width="4.7" height="7.55" fill="#cfebf3"/>
<rect x="440.3" y="81.80" width="9.1" height="7.55" fill="#9bcce2"/>
<rect x="449.1" y="81.80" width="4.7" height="7.55" fill="#cfebf3"/>
<rect x="453.5" y="81.80" width="4.7" height="7.55" fill="#feea9f"/>
<rect x="457.9" y="81.80" width="4.7" height="7.55" fill="#f0f9db"/>
<rect x="462.2" y="81.80" width="4.7" height="7.55" fill="#cfebf3"/>
<rect x="466.6" y="81.80" width="4.7" height="7.55" fill="#f0f9db"/>
<rect x="471.0" y="81.80" width="4.7" height="7.55" fill="#cfebf3"/>
<rect x="475.4" y="81.80" width="4.7" height="7.55" fill="#feea9f"/>
<rect x="479.8" y="81.80" width="4.7" height="7.55" fill="#cfebf3"/>
<rect x="484.2" y="81.80" width="4.7" height="7.55" fill="#9bcce2"/>
<rect x="488.6" y="81.80" width="4.7" height="7.55" fill="#cfebf3"/>
<rect x="493.0" y="81.80" width="9.1" height="7.55" fill="#9bcce2"/>
<rect x="501.7" y="81.80" width="4.7" height="7.55" fill="#f0f9db"/>
<rect x="506.1" y="81.80" width="9.1" height="7.55" fill="#cfebf3"/>
<rect x="514.9" y="81.80" width="4.7" height="7.55" fill="#9bcce2"/>
<rect x="519.3" y="81.80" width="4.7" height="7.55" fill="#f0f9db"/>
<rect x="523.7" y="81.80" width="4.7" height="7.55" fill="#feea9f"/>
<rect x="528.1" y="81.80" width="4.7" height="7.55" fill="#cfebf3"/>
<rect x="532.4" y="81.80" width="4.7" height="7.55" fill="#f0f9db"/>
<rect x="536.8" y="81.80" width="9.1" height="7.55" fill="#cfebf3"/>
<rect x="545.6" y="81.80" width="4.4" height="7.55" fill="#9bcce2"/>
<rect x="146.3" y="89.05" width="4.7" height="7.55" fill="#6095c4"/>
<rect x="150.7" y="89.05" width="4.7" height="7.55" fill="#feea9f"/>
<rect x="155.1" y="89.05" width="4.7" height="7.55" fill="#f0f9db"/>
<rect x="159.5" y="89.05" width="4.7" height="7.55" fill="#9bcce2"/>
<rect x="163.9" y="89.05" width="4.7" height="7.55" fill="#cfebf3"/>
<rect x="168.2" y="89.05" width="4.7" height="7.55" fill="#9bcce2"/>
<rect x="172.6" y="89.05" width="4.7" height="7.55" fill="#f0f9db"/>
<rect x="177.0" y="89.05" width="4.7" height="7.55" fill="#9bcce2"/>
<rect x="181.4" y="89.05" width="4.7" height="7.55" fill="#3e60aa"/>
<rect x="185.8" y="89.05" width="4.7" height="7.55" fill="#f0f9db"/>
<rect x="190.2" y="89.05" width="4.7" height="7.55" fill="#cfebf3"/>
<rect x="194.6" y="89.05" width="4.7" height="7.55" fill="#6095c4"/>
<rect x="199.0" y="89.05" width="4.7" height="7.55" fill="#9bcce2"/>
<rect x="203.3" y="89.05" width="4.7" height="7.55" fill="#feea9f"/>
<rect x="207.7" y="89.05" width="4.7" height="7.55" fill="#cfebf3"/>
<rect x="212.1" y="89.05" width="4.7" height="7.55" fill="#f0f9db"/>
<rect x="216.5" y="89.05" width="4.7" height="7.55" fill="#9bcce2"/>
<rect x="220.9" y="89.05" width="4.7" height="7.55" fill="#f0f9db"/>
<rect x="225.3" y="89.05" width="4.7" height="7.55" fill="#fecc7e"/>
<rect x="229.7" y="89.05" width="4.7" height="7.55" fill="#9bcce2"/>
<rect x="234.1" y="89.05" width="9.1" height="7.55" fill="#cfebf3"/>
<rect x="242.8" y="89.05" width="4.7" height="7.55" fill="#6095c4"/>
<rect x="247.2" y="89.05" width="9.1" height="7.55" fill="#f0f9db"/>
<rect x="256.0" y="89.05" width="4.7" height="7.55" fill="#feea9f"/>
<rect x="260.4" y="89.05" width="9.1" height="7.55" fill="#cfebf3"/>
<rect x="269.2" y="89.05" width="4.7" height="7.55" fill="#9bcce2"/>
<rect x="273.6" y="89.05" width="4.7" height="7.55" fill="#6095c4"/>
<rect x="277.9" y="89.05" width="9.1" height="7.55" fill="#9bcce2"/>
<rect x="286.7" y="89.05" width="4.7" height="7.55" fill="#6095c4"/>
<rect x="291.1" y="89.05" width="4.7" height="7.55" fill="#f0f9db"/>
<rect x="295.5" y="89.05" width="4.7" height="7.55" fill="#feea9f"/>
<rect x="299.9" y="89.05" width="13.5" height="7.55" fill="#6095c4"/>
<rect x="313.0" y="89.05" width="9.1" height="7.55" fill="#9bcce2"/>
<rect x="321.8" y="89.05" width="4.7" height="7.55" fill="#3e60aa"/>
<rect x="326.2" y="89.05" width="4.7" height="7.55" fill="#6095c4"/>
<rect x="330.6" y="89.05" width="13.5" height="7.55" fill="#9bcce2"/>
<rect x="343.8" y="89.05" width="4.7" height="7.55" fill="#6095c4"/>
<rect x="348.1" y="89.05" width="4.7" height="7.55" fill="#cfebf3"/>
<rect x="352.5" y="89.05" width="4.7" height="7.55" fill="#fecc7e"/>
<rect x="356.9" y="89.05" width="4.7" height="7.55" fill="#f0f9db"/>
<rect x="361.3" y="89.05" width="4.7" height="7.55" fill="#6095c4"/>
<rect x="365.7" y="89.05" width="4.7" height="7.55" fill="#f0f9db"/>
<rect x="370.1" y="89.05" width="4.7" height="7.55" fill="#cfebf3"/>
<rect x="374.5" y="89.05" width="4.7" height="7.55" fill="#f0f9db"/>
<rect x="378.9" y="89.05" width="13.5" height="7.55" fill="#cfebf3"/>
<rect x="392.0" y="89.05" width="4.7" height="7.55" fill="#feea9f"/>
<rect x="396.4" y="89.05" width="4.7" height="7.55" fill="#f0f9db"/>
<rect x="400.8" y="89.05" width="4.7" height="7.55" fill="#cfebf3"/>
<rect x="405.2" y="89.05" width="4.7" height="7.55" fill="#f0f9db"/>
<rect x="409.6" y="89.05" width="4.7" height="7.55" fill="#9bcce2"/>
<rect x="414.0" y="89.05" width="4.7" height="7.55" fill="#f0f9db"/>
<rect x="418.4" y="89.05" width="9.1" height="7.55" fill="#cfebf3"/>
<rect x="427.1" y="89.05" width="4.7" height="7.55" fill="#fecc7e"/>
<rect x="431.5" y="89.05" width="9.1" height="7.55" fill="#f0f9db"/>
<rect x="440.3" y="89.05" width="13.5" height="7.55" fill="#9bcce2"/>
<rect x="453.5" y="89.05" width="4.7" height="7.55" fill="#fecc7e"/>
<rect x="457.9" y="89.05" width="4.7" height="7.55" fill="#f0f9db"/>
<rect x="462.2" y="89.05" width="4.7" height="7.55" fill="#cfebf3"/>
<rect x="466.6" y="89.05" width="4.7" height="7.55" fill="#fecc7e"/>
<rect x="471.0" y="89.05" width="4.7" height="7.55" fill="#6095c4"/>
<rect x="475.4" y="89.05" width="4.7" height="7.55" fill="#fecc7e"/>
<rect x="479.8" y="89.05" width="4.7" height="7.55" fill="#f0f9db"/>
<rect x="484.2" y="89.05" width="4.7" height="7.55" fill="#cfebf3"/>
<rect x="488.6" y="89.05" width="4.7" height="7.55" fill="#9bcce2"/>
<rect x="493.0" y="89.05" width="13.5" height="7.55" fill="#cfebf3"/>
<rect x="506.1" y="89.05" width="4.7" height="7.55" fill="#9bcce2"/>
<rect x="510.5" y="89.05" width="4.7" height="7.55" fill="#cfebf3"/>
<rect x="514.9" y="89.05" width="4.7" height="7.55" fill="#9bcce2"/>
<rect x="519.3" y="89.05" width="4.7" height="7.55" fill="#cfebf3"/>
<rect x="523.7" y="89.05" width="4.7" height="7.55" fill="#fecc7e"/>
<rect x="528.1" y="89.05" width="4.7" height="7.55" fill="#cfebf3"/>
<rect x="532.4" y="89.05" width="4.7" height="7.55" fill="#f0f9db"/>
<rect x="536.8" y="89.05" width="4.7" height="7.55" fill="#fecc7e"/>
<rect x="541.2" y="89.05" width="4.7" height="7.55" fill="#9bcce2"/>
<rect x="545.6" y="89.05" width="4.4" height="7.55" fill="#3e60aa"/>
<rect x="146.3" y="96.30" width="4.7" height="7.55" fill="#6095c4"/>
<rect x="150.7" y="96.30" width="4.7" height="7.55" fill="#9bcce2"/>
<rect x="155.1" y="96.30" width="4.7" height="7.55" fill="#f0f9db"/>
<rect x="159.5" y="96.30" width="4.7" height="7.55" fill="#9bcce2"/>
<rect x="163.9" y="96.30" width="4.7" height="7.55" fill="#cfebf3"/>
<rect x="168.2" y="96.30" width="4.7" height="7.55" fill="#9bcce2"/>
<rect x="172.6" y="96.30" width="4.7" height="7.55" fill="#feea9f"/>
<rect x="177.0" y="96.30" width="4.7" height="7.55" fill="#f0f9db"/>
<rect x="181.4" y="96.30" width="4.7" height="7.55" fill="#9bcce2"/>
<rect x="185.8" y="96.30" width="4.7" height="7.55" fill="#cfebf3"/>
<rect x="190.2" y="96.30" width="4.7" height="7.55" fill="#f0f9db"/>
<rect x="194.6" y="96.30" width="9.1" height="7.55" fill="#9bcce2"/>
<rect x="203.3" y="96.30" width="9.1" height="7.55" fill="#f0f9db"/>
<rect x="212.1" y="96.30" width="9.1" height="7.55" fill="#cfebf3"/>
<rect x="220.9" y="96.30" width="4.7" height="7.55" fill="#f0f9db"/>
<rect x="225.3" y="96.30" width="4.7" height="7.55" fill="#feea9f"/>
<rect x="229.7" y="96.30" width="4.7" height="7.55" fill="#9bcce2"/>
<rect x="234.1" y="96.30" width="9.1" height="7.55" fill="#f0f9db"/>
<rect x="242.8" y="96.30" width="4.7" height="7.55" fill="#9bcce2"/>
<rect x="247.2" y="96.30" width="9.1" height="7.55" fill="#cfebf3"/>
<rect x="256.0" y="96.30" width="9.1" height="7.55" fill="#feea9f"/>
<rect x="264.8" y="96.30" width="4.7" height="7.55" fill="#9bcce2"/>
<rect x="269.2" y="96.30" width="4.7" height="7.55" fill="#cfebf3"/>
<rect x="273.6" y="96.30" width="4.7" height="7.55" fill="#6095c4"/>
<rect x="277.9" y="96.30" width="4.7" height="7.55" fill="#9bcce2"/>
<rect x="282.3" y="96.30" width="4.7" height="7.55" fill="#cfebf3"/>
<rect x="286.7" y="96.30" width="13.5" height="7.55" fill="#9bcce2"/>
<rect x="299.9" y="96.30" width="4.7" height="7.55" fill="#feea9f"/>
<rect x="304.3" y="96.30" width="9.1" height="7.55" fill="#6095c4"/>
<rect x="313.0" y="96.30" width="4.7" height="7.55" fill="#9bcce2"/>
<rect x="317.4" y="96.30" width="4.7" height="7.55" fill="#f0f9db"/>
<rect x="321.8" y="96.30" width="4.7" height="7.55" fill="#9bcce2"/>
<rect x="326.2" y="96.30" width="4.7" height="7.55" fill="#6095c4"/>
<rect x="330.6" y="96.30" width="9.1" height="7.55" fill="#9bcce2"/>
<rect x="339.4" y="96.30" width="9.1" height="7.55" fill="#6095c4"/>
<rect x="348.1" y="96.30" width="9.1" height="7.55" fill="#cfebf3"/>
<rect x="356.9" y="96.30" width="4.7" height="7.55" fill="#f0f9db"/>
<rect x="361.3" y="96.30" width="17.9" height="7.55" fill="#cfebf3"/>
<rect x="378.9" y="96.30" width="4.7" height="7.55" fill="#9bcce2"/>
<rect x="383.3" y="96.30" width="9.1" height="7.55" fill="#f0f9db"/>
<rect x="392.0" y="96.30" width="4.7" height="7.55" fill="#fecc7e"/>
<rect x="396.4" y="96.30" width="4.7" height="7.55" fill="#f0f9db"/>
<rect x="400.8" y="96.30" width="4.7" height="7.55" fill="#cfebf3"/>
<rect x="405.2" y="96.30" width="4.7" height="7.55" fill="#feea9f"/>
<rect x="409.6" y="96.30" width="9.1" height="7.55" fill="#f0f9db"/>
<rect x="418.4" y="96.30" width="4.7" height="7.55" fill="#cfebf3"/>
<rect x="422.7" y="96.30" width="4.7" height="7.55" fill="#f0f9db"/>
<rect x="427.1" y="96.30" width="4.7" height="7.55" fill="#feea9f"/>
<rect x="431.5" y="96.30" width="4.7" height="7.55" fill="#cfebf3"/>
<rect x="435.9" y="96.30" width="9.1" height="7.55" fill="#f0f9db"/>
<rect x="444.7" y="96.30" width="4.7" height="7.55" fill="#6095c4"/>
<rect x="449.1" y="96.30" width="4.7" height="7.55" fill="#cfebf3"/>
<rect x="453.5" y="96.30" width="4.7" height="7.55" fill="#fecc7e"/>
<rect x="457.9" y="96.30" width="4.7" height="7.55" fill="#f0f9db"/>
<rect x="462.2" y="96.30" width="9.1" height="7.55" fill="#feea9f"/>
<rect x="471.0" y="96.30" width="4.7" height="7.55" fill="#6095c4"/>
<rect x="475.4" y="96.30" width="4.7" height="7.55" fill="#f0f9db"/>
<rect x="479.8" y="96.30" width="9.1" height="7.55" fill="#cfebf3"/>
<rect x="488.6" y="96.30" width="4.7" height="7.55" fill="#9bcce2"/>
<rect x="493.0" y="96.30" width="4.7" height="7.55" fill="#cfebf3"/>
<rect x="497.3" y="96.30" width="4.7" height="7.55" fill="#9bcce2"/>
<rect x="501.7" y="96.30" width="4.7" height="7.55" fill="#cfebf3"/>
<rect x="506.1" y="96.30" width="4.7" height="7.55" fill="#9bcce2"/>
<rect x="510.5" y="96.30" width="4.7" height="7.55" fill="#f0f9db"/>
<rect x="514.9" y="96.30" width="4.7" height="7.55" fill="#cfebf3"/>
<rect x="519.3" y="96.30" width="4.7" height="7.55" fill="#f0f9db"/>
<rect x="523.7" y="96.30" width="4.7" height="7.55" fill="#cfebf3"/>
<rect x="528.1" y="96.30" width="4.7" height="7.55" fill="#9bcce2"/>
<rect x="532.4" y="96.30" width="4.7" height="7.55" fill="#cfebf3"/>
<rect x="536.8" y="96.30" width="4.7" height="7.55" fill="#f88c51"/>
<rect x="541.2" y="96.30" width="4.7" height="7.55" fill="#cfebf3"/>
<rect x="545.6" y="96.30" width="4.4" height="7.55" fill="#6095c4"/>
<rect x="146.3" y="103.55" width="4.7" height="7.55" fill="#6095c4"/>
<rect x="150.7" y="103.55" width="4.7" height="7.55" fill="#9bcce2"/>
<rect x="155.1" y="103.55" width="4.7" height="7.55" fill="#cfebf3"/>
<rect x="159.5" y="103.55" width="4.7" height="7.55" fill="#9bcce2"/>
<rect x="163.9" y="103.55" width="4.7" height="7.55" fill="#cfebf3"/>
<rect x="168.2" y="103.55" width="4.7" height="7.55" fill="#6095c4"/>
<rect x="172.6" y="103.55" width="4.7" height="7.55" fill="#cfebf3"/>
<rect x="177.0" y="103.55" width="4.7" height="7.55" fill="#9bcce2"/>
<rect x="181.4" y="103.55" width="9.1" height="7.55" fill="#cfebf3"/>
<rect x="190.2" y="103.55" width="4.7" height="7.55" fill="#9bcce2"/>
<rect x="194.6" y="103.55" width="4.7" height="7.55" fill="#6095c4"/>
<rect x="199.0" y="103.55" width="4.7" height="7.55" fill="#9bcce2"/>
<rect x="203.3" y="103.55" width="4.7" height="7.55" fill="#f0f9db"/>
<rect x="207.7" y="103.55" width="13.5" height="7.55" fill="#9bcce2"/>
<rect x="220.9" y="103.55" width="9.1" height="7.55" fill="#f0f9db"/>
<rect x="229.7" y="103.55" width="4.7" height="7.55" fill="#9bcce2"/>
<rect x="234.1" y="103.55" width="9.1" height="7.55" fill="#cfebf3"/>
<rect x="242.8" y="103.55" width="4.7" height="7.55" fill="#6095c4"/>
<rect x="247.2" y="103.55" width="4.7" height="7.55" fill="#9bcce2"/>
<rect x="251.6" y="103.55" width="4.7" height="7.55" fill="#cfebf3"/>
<rect x="256.0" y="103.55" width="4.7" height="7.55" fill="#f0f9db"/>
<rect x="260.4" y="103.55" width="13.5" height="7.55" fill="#9bcce2"/>
<rect x="273.6" y="103.55" width="4.7" height="7.55" fill="#3e60aa"/>
<rect x="277.9" y="103.55" width="4.7" height="7.55" fill="#cfebf3"/>
<rect x="282.3" y="103.55" width="4.7" height="7.55" fill="#9bcce2"/>
<rect x="286.7" y="103.55" width="4.7" height="7.55" fill="#6095c4"/>
<rect x="291.1" y="103.55" width="9.1" height="7.55" fill="#9bcce2"/>
<rect x="299.9" y="103.55" width="4.7" height="7.55" fill="#feea9f"/>
<rect x="304.3" y="103.55" width="4.7" height="7.55" fill="#9bcce2"/>
<rect x="308.7" y="103.55" width="4.7" height="7.55" fill="#3e60aa"/>
<rect x="313.0" y="103.55" width="4.7" height="7.55" fill="#9bcce2"/>
<rect x="317.4" y="103.55" width="4.7" height="7.55" fill="#f0f9db"/>
<rect x="321.8" y="103.55" width="4.7" height="7.55" fill="#9bcce2"/>
<rect x="326.2" y="103.55" width="4.7" height="7.55" fill="#6095c4"/>
<rect x="330.6" y="103.55" width="9.1" height="7.55" fill="#9bcce2"/>
<rect x="339.4" y="103.55" width="9.1" height="7.55" fill="#6095c4"/>
<rect x="348.1" y="103.55" width="4.7" height="7.55" fill="#9bcce2"/>
<rect x="352.5" y="103.55" width="4.7" height="7.55" fill="#f0f9db"/>
<rect x="356.9" y="103.55" width="4.7" height="7.55" fill="#cfebf3"/>
<rect x="361.3" y="103.55" width="4.7" height="7.55" fill="#9bcce2"/>
<rect x="365.7" y="103.55" width="4.7" height="7.55" fill="#cfebf3"/>
<rect x="370.1" y="103.55" width="9.1" height="7.55" fill="#f0f9db"/>
<rect x="378.9" y="103.55" width="4.7" height="7.55" fill="#9bcce2"/>
<rect x="383.3" y="103.55" width="9.1" height="7.55" fill="#cfebf3"/>
<rect x="392.0" y="103.55" width="4.7" height="7.55" fill="#fecc7e"/>
<rect x="396.4" y="103.55" width="4.7" height="7.55" fill="#f0f9db"/>
<rect x="400.8" y="103.55" width="4.7" height="7.55" fill="#9bcce2"/>
<rect x="405.2" y="103.55" width="4.7" height="7.55" fill="#feea9f"/>
<rect x="409.6" y="103.55" width="4.7" height="7.55" fill="#cfebf3"/>
<rect x="414.0" y="103.55" width="4.7" height="7.55" fill="#f0f9db"/>
<rect x="418.4" y="103.55" width="9.1" height="7.55" fill="#cfebf3"/>
<rect x="427.1" y="103.55" width="4.7" height="7.55" fill="#feea9f"/>
<rect x="431.5" y="103.55" width="9.1" height="7.55" fill="#cfebf3"/>
<rect x="440.3" y="103.55" width="4.7" height="7.55" fill="#f0f9db"/>
<rect x="444.7" y="103.55" width="4.7" height="7.55" fill="#6095c4"/>
<rect x="449.1" y="103.55" width="4.7" height="7.55" fill="#cfebf3"/>
<rect x="453.5" y="103.55" width="4.7" height="7.55" fill="#fecc7e"/>
<rect x="457.9" y="103.55" width="13.5" height="7.55" fill="#f0f9db"/>
<rect x="471.0" y="103.55" width="4.7" height="7.55" fill="#6095c4"/>
<rect x="475.4" y="103.55" width="4.7" height="7.55" fill="#f0f9db"/>
<rect x="479.8" y="103.55" width="9.1" height="7.55" fill="#cfebf3"/>
<rect x="488.6" y="103.55" width="4.7" height="7.55" fill="#9bcce2"/>
<rect x="493.0" y="103.55" width="4.7" height="7.55" fill="#cfebf3"/>
<rect x="497.3" y="103.55" width="4.7" height="7.55" fill="#6095c4"/>
<rect x="501.7" y="103.55" width="4.7" height="7.55" fill="#cfebf3"/>
<rect x="506.1" y="103.55" width="4.7" height="7.55" fill="#9bcce2"/>
<rect x="510.5" y="103.55" width="9.1" height="7.55" fill="#cfebf3"/>
<rect x="519.3" y="103.55" width="4.7" height="7.55" fill="#f0f9db"/>
<rect x="523.7" y="103.55" width="4.7" height="7.55" fill="#cfebf3"/>
<rect x="528.1" y="103.55" width="4.7" height="7.55" fill="#9bcce2"/>
<rect x="532.4" y="103.55" width="4.7" height="7.55" fill="#cfebf3"/>
<rect x="536.8" y="103.55" width="4.7" height="7.55" fill="#feea9f"/>
<rect x="541.2" y="103.55" width="4.7" height="7.55" fill="#f0f9db"/>
<rect x="545.6" y="103.55" width="4.4" height="7.55" fill="#3e60aa"/>
<rect x="146.3" y="110.80" width="4.7" height="7.55" fill="#6095c4"/>
<rect x="150.7" y="110.80" width="4.7" height="7.55" fill="#3e60aa"/>
<rect x="155.1" y="110.80" width="4.7" height="7.55" fill="#9bcce2"/>
<rect x="159.5" y="110.80" width="17.9" height="7.55" fill="#cfebf3"/>
<rect x="177.0" y="110.80" width="9.1" height="7.55" fill="#9bcce2"/>
<rect x="185.8" y="110.80" width="4.7" height="7.55" fill="#cfebf3"/>
<rect x="190.2" y="110.80" width="4.7" height="7.55" fill="#9bcce2"/>
<rect x="194.6" y="110.80" width="4.7" height="7.55" fill="#6095c4"/>
<rect x="199.0" y="110.80" width="4.7" height="7.55" fill="#9bcce2"/>
<rect x="203.3" y="110.80" width="4.7" height="7.55" fill="#cfebf3"/>
<rect x="207.7" y="110.80" width="4.7" height="7.55" fill="#9bcce2"/>
<rect x="212.1" y="110.80" width="4.7" height="7.55" fill="#6095c4"/>
<rect x="216.5" y="110.80" width="4.7" height="7.55" fill="#9bcce2"/>
<rect x="220.9" y="110.80" width="4.7" height="7.55" fill="#cfebf3"/>
<rect x="225.3" y="110.80" width="4.7" height="7.55" fill="#f0f9db"/>
<rect x="229.7" y="110.80" width="4.7" height="7.55" fill="#6095c4"/>
<rect x="234.1" y="110.80" width="4.7" height="7.55" fill="#9bcce2"/>
<rect x="238.4" y="110.80" width="4.7" height="7.55" fill="#cfebf3"/>
<rect x="242.8" y="110.80" width="4.7" height="7.55" fill="#6095c4"/>
<rect x="247.2" y="110.80" width="4.7" height="7.55" fill="#9bcce2"/>
<rect x="251.6" y="110.80" width="4.7" height="7.55" fill="#cfebf3"/>
<rect x="256.0" y="110.80" width="9.1" height="7.55" fill="#9bcce2"/>
<rect x="264.8" y="110.80" width="4.7" height="7.55" fill="#f0f9db"/>
<rect x="269.2" y="110.80" width="4.7" height="7.55" fill="#9bcce2"/>
<rect x="273.6" y="110.80" width="4.7" height="7.55" fill="#6095c4"/>
<rect x="277.9" y="110.80" width="4.7" height="7.55" fill="#9bcce2"/>
<rect x="282.3" y="110.80" width="4.7" height="7.55" fill="#cfebf3"/>
<rect x="286.7" y="110.80" width="4.7" height="7.55" fill="#6095c4"/>
<rect x="291.1" y="110.80" width="9.1" height="7.55" fill="#9bcce2"/>
<rect x="299.9" y="110.80" width="4.7" height="7.55" fill="#feea9f"/>
<rect x="304.3" y="110.80" width="13.5" height="7.55" fill="#6095c4"/>
<rect x="317.4" y="110.80" width="4.7" height="7.55" fill="#9bcce2"/>
<rect x="321.8" y="110.80" width="4.7" height="7.55" fill="#6095c4"/>
<rect x="326.2" y="110.80" width="4.7" height="7.55" fill="#3e60aa"/>
<rect x="330.6" y="110.80" width="4.7" height="7.55" fill="#9bcce2"/>
<rect x="335.0" y="110.80" width="9.1" height="7.55" fill="#6095c4"/>
<rect x="343.8" y="110.80" width="4.7" height="7.55" fill="#3e60aa"/>
<rect x="348.1" y="110.80" width="4.7" height="7.55" fill="#9bcce2"/>
<rect x="352.5" y="110.80" width="13.5" height="7.55" fill="#f0f9db"/>
<rect x="365.7" y="110.80" width="4.7" height="7.55" fill="#9bcce2"/>
<rect x="370.1" y="110.80" width="4.7" height="7.55" fill="#cfebf3"/>
<rect x="374.5" y="110.80" width="4.7" height="7.55" fill="#feea9f"/>
<rect x="378.9" y="110.80" width="4.7" height="7.55" fill="#9bcce2"/>
<rect x="383.3" y="110.80" width="9.1" height="7.55" fill="#cfebf3"/>
<rect x="392.0" y="110.80" width="9.1" height="7.55" fill="#f0f9db"/>
<rect x="400.8" y="110.80" width="4.7" height="7.55" fill="#9bcce2"/>
<rect x="405.2" y="110.80" width="4.7" height="7.55" fill="#feea9f"/>
<rect x="409.6" y="110.80" width="9.1" height="7.55" fill="#cfebf3"/>
<rect x="418.4" y="110.80" width="4.7" height="7.55" fill="#6095c4"/>
<rect x="422.7" y="110.80" width="9.1" height="7.55" fill="#f0f9db"/>
<rect x="431.5" y="110.80" width="4.7" height="7.55" fill="#9bcce2"/>
<rect x="435.9" y="110.80" width="4.7" height="7.55" fill="#cfebf3"/>
<rect x="440.3" y="110.80" width="13.5" height="7.55" fill="#9bcce2"/>
<rect x="453.5" y="110.80" width="17.9" height="7.55" fill="#cfebf3"/>
<rect x="471.0" y="110.80" width="4.7" height="7.55" fill="#6095c4"/>
<rect x="475.4" y="110.80" width="9.1" height="7.55" fill="#cfebf3"/>
<rect x="484.2" y="110.80" width="4.7" height="7.55" fill="#f0f9db"/>
<rect x="488.6" y="110.80" width="9.1" height="7.55" fill="#cfebf3"/>
<rect x="497.3" y="110.80" width="4.7" height="7.55" fill="#3e60aa"/>
<rect x="501.7" y="110.80" width="4.7" height="7.55" fill="#cfebf3"/>
<rect x="506.1" y="110.80" width="4.7" height="7.55" fill="#3e60aa"/>
<rect x="510.5" y="110.80" width="9.1" height="7.55" fill="#9bcce2"/>
<rect x="519.3" y="110.80" width="4.7" height="7.55" fill="#f0f9db"/>
<rect x="523.7" y="110.80" width="4.7" height="7.55" fill="#cfebf3"/>
<rect x="528.1" y="110.80" width="4.7" height="7.55" fill="#9bcce2"/>
<rect x="532.4" y="110.80" width="4.7" height="7.55" fill="#cfebf3"/>
<rect x="536.8" y="110.80" width="4.7" height="7.55" fill="#f88c51"/>
<rect x="541.2" y="110.80" width="8.8" height="7.55" fill="#6095c4"/>
<rect x="146.3" y="118.05" width="4.7" height="7.55" fill="#6095c4"/>
<rect x="150.7" y="118.05" width="9.1" height="7.55" fill="#9bcce2"/>
<rect x="159.5" y="118.05" width="4.7" height="7.55" fill="#6095c4"/>
<rect x="163.9" y="118.05" width="9.1" height="7.55" fill="#9bcce2"/>
<rect x="172.6" y="118.05" width="4.7" height="7.55" fill="#f0f9db"/>
<rect x="177.0" y="118.05" width="4.7" height="7.55" fill="#9bcce2"/>
<rect x="181.4" y="118.05" width="4.7" height="7.55" fill="#6095c4"/>
<rect x="185.8" y="118.05" width="9.1" height="7.55" fill="#9bcce2"/>
<rect x="194.6" y="118.05" width="9.1" height="7.55" fill="#6095c4"/>
<rect x="203.3" y="118.05" width="4.7" height="7.55" fill="#feea9f"/>
<rect x="207.7" y="118.05" width="4.7" height="7.55" fill="#9bcce2"/>
<rect x="212.1" y="118.05" width="4.7" height="7.55" fill="#cfebf3"/>
<rect x="216.5" y="118.05" width="4.7" height="7.55" fill="#6095c4"/>
<rect x="220.9" y="118.05" width="9.1" height="7.55" fill="#feea9f"/>
<rect x="229.7" y="118.05" width="13.5" height="7.55" fill="#9bcce2"/>
<rect x="242.8" y="118.05" width="9.1" height="7.55" fill="#6095c4"/>
<rect x="251.6" y="118.05" width="4.7" height="7.55" fill="#f0f9db"/>
<rect x="256.0" y="118.05" width="9.1" height="7.55" fill="#9bcce2"/>
<rect x="264.8" y="118.05" width="4.7" height="7.55" fill="#feea9f"/>
<rect x="269.2" y="118.05" width="4.7" height="7.55" fill="#9bcce2"/>
<rect x="273.6" y="118.05" width="4.7" height="7.55" fill="#3e60aa"/>
<rect x="277.9" y="118.05" width="4.7" height="7.55" fill="#9bcce2"/>
<rect x="282.3" y="118.05" width="4.7" height="7.55" fill="#cfebf3"/>
<rect x="286.7" y="118.05" width="13.5" height="7.55" fill="#9bcce2"/>
<rect x="299.9" y="118.05" width="4.7" height="7.55" fill="#f0f9db"/>
<rect x="304.3" y="118.05" width="4.7" height="7.55" fill="#9bcce2"/>
<rect x="308.7" y="118.05" width="4.7" height="7.55" fill="#6095c4"/>
<rect x="313.0" y="118.05" width="4.7" height="7.55" fill="#9bcce2"/>
<rect x="317.4" y="118.05" width="4.7" height="7.55" fill="#cfebf3"/>
<rect x="321.8" y="118.05" width="4.7" height="7.55" fill="#9bcce2"/>
<rect x="326.2" y="118.05" width="4.7" height="7.55" fill="#6095c4"/>
<rect x="330.6" y="118.05" width="4.7" height="7.55" fill="#9bcce2"/>
<rect x="335.0" y="118.05" width="13.5" height="7.55" fill="#6095c4"/>
<rect x="348.1" y="118.05" width="4.7" height="7.55" fill="#9bcce2"/>
<rect x="352.5" y="118.05" width="9.1" height="7.55" fill="#cfebf3"/>
<rect x="361.3" y="118.05" width="4.7" height="7.55" fill="#6095c4"/>
<rect x="365.7" y="118.05" width="4.7" height="7.55" fill="#cfebf3"/>
<rect x="370.1" y="118.05" width="9.1" height="7.55" fill="#9bcce2"/>
<rect x="378.9" y="118.05" width="4.7" height="7.55" fill="#3e60aa"/>
<rect x="383.3" y="118.05" width="9.1" height="7.55" fill="#cfebf3"/>
<rect x="392.0" y="118.05" width="4.7" height="7.55" fill="#f0f9db"/>
<rect x="396.4" y="118.05" width="4.7" height="7.55" fill="#cfebf3"/>
<rect x="400.8" y="118.05" width="4.7" height="7.55" fill="#9bcce2"/>
<rect x="405.2" y="118.05" width="4.7" height="7.55" fill="#cfebf3"/>
<rect x="409.6" y="118.05" width="4.7" height="7.55" fill="#9bcce2"/>
<rect x="414.0" y="118.05" width="4.7" height="7.55" fill="#f0f9db"/>
<rect x="418.4" y="118.05" width="9.1" height="7.55" fill="#9bcce2"/>
<rect x="427.1" y="118.05" width="4.7" height="7.55" fill="#cfebf3"/>
<rect x="431.5" y="118.05" width="4.7" height="7.55" fill="#9bcce2"/>
<rect x="435.9" y="118.05" width="4.7" height="7.55" fill="#f0f9db"/>
<rect x="440.3" y="118.05" width="4.7" height="7.55" fill="#9bcce2"/>
<rect x="444.7" y="118.05" width="4.7" height="7.55" fill="#6095c4"/>
<rect x="449.1" y="118.05" width="4.7" height="7.55" fill="#cfebf3"/>
<rect x="453.5" y="118.05" width="4.7" height="7.55" fill="#feea9f"/>
<rect x="457.9" y="118.05" width="4.7" height="7.55" fill="#9bcce2"/>
<rect x="462.2" y="118.05" width="4.7" height="7.55" fill="#cfebf3"/>
<rect x="466.6" y="118.05" width="4.7" height="7.55" fill="#f0f9db"/>
<rect x="471.0" y="118.05" width="4.7" height="7.55" fill="#6095c4"/>
<rect x="475.4" y="118.05" width="4.7" height="7.55" fill="#cfebf3"/>
<rect x="479.8" y="118.05" width="4.7" height="7.55" fill="#f0f9db"/>
<rect x="484.2" y="118.05" width="4.7" height="7.55" fill="#9bcce2"/>
<rect x="488.6" y="118.05" width="4.7" height="7.55" fill="#6095c4"/>
<rect x="493.0" y="118.05" width="4.7" height="7.55" fill="#9bcce2"/>
<rect x="497.3" y="118.05" width="4.7" height="7.55" fill="#6095c4"/>
<rect x="501.7" y="118.05" width="4.7" height="7.55" fill="#9bcce2"/>
<rect x="506.1" y="118.05" width="9.1" height="7.55" fill="#6095c4"/>
<rect x="514.9" y="118.05" width="4.7" height="7.55" fill="#9bcce2"/>
<rect x="519.3" y="118.05" width="9.1" height="7.55" fill="#cfebf3"/>
<rect x="528.1" y="118.05" width="4.7" height="7.55" fill="#6095c4"/>
<rect x="532.4" y="118.05" width="4.7" height="7.55" fill="#9bcce2"/>
<rect x="536.8" y="118.05" width="4.7" height="7.55" fill="#f0f9db"/>
<rect x="541.2" y="118.05" width="4.7" height="7.55" fill="#9bcce2"/>
<rect x="545.6" y="118.05" width="4.4" height="7.55" fill="#3e60aa"/>
<rect x="146.3" y="125.30" width="22.2" height="7.55" fill="#9bcce2"/>
<rect x="168.2" y="125.30" width="4.7" height="7.55" fill="#cfebf3"/>
<rect x="172.6" y="125.30" width="13.5" height="7.55" fill="#6095c4"/>
<rect x="185.8" y="125.30" width="9.1" height="7.55" fill="#9bcce2"/>
<rect x="194.6" y="125.30" width="4.7" height="7.55" fill="#3e60aa"/>
<rect x="199.0" y="125.30" width="4.7" height="7.55" fill="#cfebf3"/>
<rect x="203.3" y="125.30" width="4.7" height="7.55" fill="#f0f9db"/>
<rect x="207.7" y="125.30" width="4.7" height="7.55" fill="#9bcce2"/>
<rect x="212.1" y="125.30" width="4.7" height="7.55" fill="#cfebf3"/>
<rect x="216.5" y="125.30" width="9.1" height="7.55" fill="#9bcce2"/>
<rect x="225.3" y="125.30" width="4.7" height="7.55" fill="#cfebf3"/>
<rect x="229.7" y="125.30" width="4.7" height="7.55" fill="#6095c4"/>
<rect x="234.1" y="125.30" width="4.7" height="7.55" fill="#cfebf3"/>
<rect x="238.4" y="125.30" width="13.5" height="7.55" fill="#6095c4"/>
<rect x="251.6" y="125.30" width="9.1" height="7.55" fill="#cfebf3"/>
<rect x="260.4" y="125.30" width="4.7" height="7.55" fill="#6095c4"/>
<rect x="264.8" y="125.30" width="4.7" height="7.55" fill="#cfebf3"/>
<rect x="269.2" y="125.30" width="4.7" height="7.55" fill="#9bcce2"/>
<rect x="273.6" y="125.30" width="4.7" height="7.55" fill="#6095c4"/>
<rect x="277.9" y="125.30" width="9.1" height="7.55" fill="#9bcce2"/>
<rect x="286.7" y="125.30" width="13.5" height="7.55" fill="#6095c4"/>
<rect x="299.9" y="125.30" width="4.7" height="7.55" fill="#cfebf3"/>
<rect x="304.3" y="125.30" width="4.7" height="7.55" fill="#6095c4"/>
<rect x="308.7" y="125.30" width="4.7" height="7.55" fill="#3e60aa"/>
<rect x="313.0" y="125.30" width="4.7" height="7.55" fill="#6095c4"/>
<rect x="317.4" y="125.30" width="4.7" height="7.55" fill="#9bcce2"/>
<rect x="321.8" y="125.30" width="4.7" height="7.55" fill="#6095c4"/>
<rect x="326.2" y="125.30" width="4.7" height="7.55" fill="#3e60aa"/>
<rect x="330.6" y="125.30" width="4.7" height="7.55" fill="#cfebf3"/>
<rect x="335.0" y="125.30" width="13.5" height="7.55" fill="#6095c4"/>
<rect x="348.1" y="125.30" width="4.7" height="7.55" fill="#9bcce2"/>
<rect x="352.5" y="125.30" width="9.1" height="7.55" fill="#cfebf3"/>
<rect x="361.3" y="125.30" width="9.1" height="7.55" fill="#9bcce2"/>
<rect x="370.1" y="125.30" width="9.1" height="7.55" fill="#6095c4"/>
<rect x="378.9" y="125.30" width="4.7" height="7.55" fill="#9bcce2"/>
<rect x="383.3" y="125.30" width="4.7" height="7.55" fill="#f0f9db"/>
<rect x="387.6" y="125.30" width="9.1" height="7.55" fill="#6095c4"/>
<rect x="396.4" y="125.30" width="4.7" height="7.55" fill="#9bcce2"/>
<rect x="400.8" y="125.30" width="4.7" height="7.55" fill="#cfebf3"/>
<rect x="405.2" y="125.30" width="4.7" height="7.55" fill="#f0f9db"/>
<rect x="409.6" y="125.30" width="4.7" height="7.55" fill="#9bcce2"/>
<rect x="414.0" y="125.30" width="4.7" height="7.55" fill="#feea9f"/>
<rect x="418.4" y="125.30" width="4.7" height="7.55" fill="#cfebf3"/>
<rect x="422.7" y="125.30" width="4.7" height="7.55" fill="#6095c4"/>
<rect x="427.1" y="125.30" width="13.5" height="7.55" fill="#9bcce2"/>
<rect x="440.3" y="125.30" width="9.1" height="7.55" fill="#6095c4"/>
<rect x="449.1" y="125.30" width="4.7" height="7.55" fill="#9bcce2"/>
<rect x="453.5" y="125.30" width="9.1" height="7.55" fill="#cfebf3"/>
<rect x="462.2" y="125.30" width="4.7" height="7.55" fill="#9bcce2"/>
<rect x="466.6" y="125.30" width="4.7" height="7.55" fill="#cfebf3"/>
<rect x="471.0" y="125.30" width="4.7" height="7.55" fill="#6095c4"/>
<rect x="475.4" y="125.30" width="4.7" height="7.55" fill="#f0f9db"/>
<rect x="479.8" y="125.30" width="4.7" height="7.55" fill="#9bcce2"/>
<rect x="484.2" y="125.30" width="4.7" height="7.55" fill="#cfebf3"/>
<rect x="488.6" y="125.30" width="4.7" height="7.55" fill="#3e60aa"/>
<rect x="493.0" y="125.30" width="13.5" height="7.55" fill="#cfebf3"/>
<rect x="506.1" y="125.30" width="9.1" height="7.55" fill="#9bcce2"/>
<rect x="514.9" y="125.30" width="4.7" height="7.55" fill="#6095c4"/>
<rect x="519.3" y="125.30" width="4.7" height="7.55" fill="#f0f9db"/>
<rect x="523.7" y="125.30" width="4.7" height="7.55" fill="#cfebf3"/>
<rect x="528.1" y="125.30" width="9.1" height="7.55" fill="#9bcce2"/>
<rect x="536.8" y="125.30" width="4.7" height="7.55" fill="#cfebf3"/>
<rect x="541.2" y="125.30" width="8.8" height="7.55" fill="#9bcce2"/>
<rect x="146.3" y="132.55" width="9.1" height="7.55" fill="#3e60aa"/>
<rect x="155.1" y="132.55" width="9.1" height="7.55" fill="#9bcce2"/>
<rect x="163.9" y="132.55" width="9.1" height="7.55" fill="#6095c4"/>
<rect x="172.6" y="132.55" width="9.1" height="7.55" fill="#9bcce2"/>
<rect x="181.4" y="132.55" width="4.7" height="7.55" fill="#3e60aa"/>
<rect x="185.8" y="132.55" width="4.7" height="7.55" fill="#9bcce2"/>
<rect x="190.2" y="132.55" width="4.7" height="7.55" fill="#cfebf3"/>
<rect x="194.6" y="132.55" width="4.7" height="7.55" fill="#6095c4"/>
<rect x="199.0" y="132.55" width="4.7" height="7.55" fill="#cfebf3"/>
<rect x="203.3" y="132.55" width="4.7" height="7.55" fill="#f0f9db"/>
<rect x="207.7" y="132.55" width="4.7" height="7.55" fill="#9bcce2"/>
<rect x="212.1" y="132.55" width="4.7" height="7.55" fill="#f0f9db"/>
<rect x="216.5" y="132.55" width="4.7" height="7.55" fill="#9bcce2"/>
<rect x="220.9" y="132.55" width="4.7" height="7.55" fill="#6095c4"/>
<rect x="225.3" y="132.55" width="4.7" height="7.55" fill="#9bcce2"/>
<rect x="229.7" y="132.55" width="4.7" height="7.55" fill="#6095c4"/>
<rect x="234.1" y="132.55" width="4.7" height="7.55" fill="#cfebf3"/>
<rect x="238.4" y="132.55" width="4.7" height="7.55" fill="#6095c4"/>
<rect x="242.8" y="132.55" width="4.7" height="7.55" fill="#3e60aa"/>
<rect x="247.2" y="132.55" width="4.7" height="7.55" fill="#cfebf3"/>
<rect x="251.6" y="132.55" width="9.1" height="7.55" fill="#9bcce2"/>
<rect x="260.4" y="132.55" width="4.7" height="7.55" fill="#6095c4"/>
<rect x="264.8" y="132.55" width="9.1" height="7.55" fill="#9bcce2"/>
<rect x="273.6" y="132.55" width="4.7" height="7.55" fill="#3e60aa"/>
<rect x="277.9" y="132.55" width="9.1" height="7.55" fill="#9bcce2"/>
<rect x="286.7" y="132.55" width="4.7" height="7.55" fill="#6095c4"/>
<rect x="291.1" y="132.55" width="4.7" height="7.55" fill="#cfebf3"/>
<rect x="295.5" y="132.55" width="4.7" height="7.55" fill="#9bcce2"/>
<rect x="299.9" y="132.55" width="4.7" height="7.55" fill="#f0f9db"/>
<rect x="304.3" y="132.55" width="13.5" height="7.55" fill="#6095c4"/>
<rect x="317.4" y="132.55" width="9.1" height="7.55" fill="#9bcce2"/>
<rect x="326.2" y="132.55" width="4.7" height="7.55" fill="#6095c4"/>
<rect x="330.6" y="132.55" width="4.7" height="7.55" fill="#9bcce2"/>
<rect x="335.0" y="132.55" width="4.7" height="7.55" fill="#6095c4"/>
<rect x="339.4" y="132.55" width="4.7" height="7.55" fill="#3e60aa"/>
<rect x="343.8" y="132.55" width="4.7" height="7.55" fill="#6095c4"/>
<rect x="348.1" y="132.55" width="9.1" height="7.55" fill="#9bcce2"/>
<rect x="356.9" y="132.55" width="9.1" height="7.55" fill="#cfebf3"/>
<rect x="365.7" y="132.55" width="4.7" height="7.55" fill="#6095c4"/>
<rect x="370.1" y="132.55" width="4.7" height="7.55" fill="#3e60aa"/>
<rect x="374.5" y="132.55" width="4.7" height="7.55" fill="#cfebf3"/>
<rect x="378.9" y="132.55" width="4.7" height="7.55" fill="#6095c4"/>
<rect x="383.3" y="132.55" width="4.7" height="7.55" fill="#cfebf3"/>
<rect x="387.6" y="132.55" width="4.7" height="7.55" fill="#9bcce2"/>
<rect x="392.0" y="132.55" width="4.7" height="7.55" fill="#cfebf3"/>
<rect x="396.4" y="132.55" width="4.7" height="7.55" fill="#9bcce2"/>
<rect x="400.8" y="132.55" width="4.7" height="7.55" fill="#cfebf3"/>
<rect x="405.2" y="132.55" width="4.7" height="7.55" fill="#feea9f"/>
<rect x="409.6" y="132.55" width="9.1" height="7.55" fill="#cfebf3"/>
<rect x="418.4" y="132.55" width="4.7" height="7.55" fill="#6095c4"/>
<rect x="422.7" y="132.55" width="9.1" height="7.55" fill="#cfebf3"/>
<rect x="431.5" y="132.55" width="9.1" height="7.55" fill="#9bcce2"/>
<rect x="440.3" y="132.55" width="4.7" height="7.55" fill="#cfebf3"/>
<rect x="444.7" y="132.55" width="4.7" height="7.55" fill="#3e60aa"/>
<rect x="449.1" y="132.55" width="4.7" height="7.55" fill="#9bcce2"/>
<rect x="453.5" y="132.55" width="4.7" height="7.55" fill="#f0f9db"/>
<rect x="457.9" y="132.55" width="4.7" height="7.55" fill="#cfebf3"/>
<rect x="462.2" y="132.55" width="4.7" height="7.55" fill="#6095c4"/>
<rect x="466.6" y="132.55" width="4.7" height="7.55" fill="#f0f9db"/>
<rect x="471.0" y="132.55" width="4.7" height="7.55" fill="#9bcce2"/>
<rect x="475.4" y="132.55" width="13.5" height="7.55" fill="#cfebf3"/>
<rect x="488.6" y="132.55" width="4.7" height="7.55" fill="#9bcce2"/>
<rect x="493.0" y="132.55" width="4.7" height="7.55" fill="#cfebf3"/>
<rect x="497.3" y="132.55" width="4.7" height="7.55" fill="#6095c4"/>
<rect x="501.7" y="132.55" width="4.7" height="7.55" fill="#cfebf3"/>
<rect x="506.1" y="132.55" width="4.7" height="7.55" fill="#3e60aa"/>
<rect x="510.5" y="132.55" width="4.7" height="7.55" fill="#cfebf3"/>
<rect x="514.9" y="132.55" width="4.7" height="7.55" fill="#9bcce2"/>
<rect x="519.3" y="132.55" width="4.7" height="7.55" fill="#f0f9db"/>
<rect x="523.7" y="132.55" width="4.7" height="7.55" fill="#cfebf3"/>
<rect x="528.1" y="132.55" width="4.7" height="7.55" fill="#6095c4"/>
<rect x="532.4" y="132.55" width="9.1" height="7.55" fill="#f0f9db"/>
<rect x="541.2" y="132.55" width="4.7" height="7.55" fill="#9bcce2"/>
<rect x="545.6" y="132.55" width="4.4" height="7.55" fill="#6095c4"/>
<rect x="146.3" y="139.80" width="4.7" height="7.55" fill="#3e60aa"/>
<rect x="150.7" y="139.80" width="4.7" height="7.55" fill="#9bcce2"/>
<rect x="155.1" y="139.80" width="4.7" height="7.55" fill="#f0f9db"/>
<rect x="159.5" y="139.80" width="4.7" height="7.55" fill="#9bcce2"/>
<rect x="163.9" y="139.80" width="4.7" height="7.55" fill="#6095c4"/>
<rect x="168.2" y="139.80" width="4.7" height="7.55" fill="#9bcce2"/>
<rect x="172.6" y="139.80" width="4.7" height="7.55" fill="#f0f9db"/>
<rect x="177.0" y="139.80" width="4.7" height="7.55" fill="#9bcce2"/>
<rect x="181.4" y="139.80" width="4.7" height="7.55" fill="#cfebf3"/>
<rect x="185.8" y="139.80" width="9.1" height="7.55" fill="#9bcce2"/>
<rect x="194.6" y="139.80" width="4.7" height="7.55" fill="#6095c4"/>
<rect x="199.0" y="139.80" width="4.7" height="7.55" fill="#cfebf3"/>
<rect x="203.3" y="139.80" width="4.7" height="7.55" fill="#f0f9db"/>
<rect x="207.7" y="139.80" width="9.1" height="7.55" fill="#9bcce2"/>
<rect x="216.5" y="139.80" width="4.7" height="7.55" fill="#6095c4"/>
<rect x="220.9" y="139.80" width="13.5" height="7.55" fill="#cfebf3"/>
<rect x="234.1" y="139.80" width="9.1" height="7.55" fill="#9bcce2"/>
<rect x="242.8" y="139.80" width="4.7" height="7.55" fill="#6095c4"/>
<rect x="247.2" y="139.80" width="4.7" height="7.55" fill="#9bcce2"/>
<rect x="251.6" y="139.80" width="9.1" height="7.55" fill="#cfebf3"/>
<rect x="260.4" y="139.80" width="4.7" height="7.55" fill="#6095c4"/>
<rect x="264.8" y="139.80" width="4.7" height="7.55" fill="#cfebf3"/>
<rect x="269.2" y="139.80" width="9.1" height="7.55" fill="#6095c4"/>
<rect x="277.9" y="139.80" width="9.1" height="7.55" fill="#9bcce2"/>
<rect x="286.7" y="139.80" width="4.7" height="7.55" fill="#6095c4"/>
<rect x="291.1" y="139.80" width="9.1" height="7.55" fill="#9bcce2"/>
<rect x="299.9" y="139.80" width="4.7" height="7.55" fill="#f0f9db"/>
<rect x="304.3" y="139.80" width="4.7" height="7.55" fill="#9bcce2"/>
<rect x="308.7" y="139.80" width="4.7" height="7.55" fill="#3e60aa"/>
<rect x="313.0" y="139.80" width="4.7" height="7.55" fill="#6095c4"/>
<rect x="317.4" y="139.80" width="4.7" height="7.55" fill="#cfebf3"/>
<rect x="321.8" y="139.80" width="4.7" height="7.55" fill="#9bcce2"/>
<rect x="326.2" y="139.80" width="4.7" height="7.55" fill="#6095c4"/>
<rect x="330.6" y="139.80" width="4.7" height="7.55" fill="#9bcce2"/>
<rect x="335.0" y="139.80" width="13.5" height="7.55" fill="#6095c4"/>
<rect x="348.1" y="139.80" width="4.7" height="7.55" fill="#cfebf3"/>
<rect x="352.5" y="139.80" width="9.1" height="7.55" fill="#f0f9db"/>
<rect x="361.3" y="139.80" width="4.7" height="7.55" fill="#9bcce2"/>
<rect x="365.7" y="139.80" width="4.7" height="7.55" fill="#cfebf3"/>
<rect x="370.1" y="139.80" width="4.7" height="7.55" fill="#9bcce2"/>
<rect x="374.5" y="139.80" width="4.7" height="7.55" fill="#feea9f"/>
<rect x="378.9" y="139.80" width="13.5" height="7.55" fill="#cfebf3"/>
<rect x="392.0" y="139.80" width="4.7" height="7.55" fill="#f0f9db"/>
<rect x="396.4" y="139.80" width="9.1" height="7.55" fill="#9bcce2"/>
<rect x="405.2" y="139.80" width="22.2" height="7.55" fill="#cfebf3"/>
<rect x="427.1" y="139.80" width="4.7" height="7.55" fill="#9bcce2"/>
<rect x="431.5" y="139.80" width="4.7" height="7.55" fill="#cfebf3"/>
<rect x="435.9" y="139.80" width="4.7" height="7.55" fill="#9bcce2"/>
<rect x="440.3" y="139.80" width="4.7" height="7.55" fill="#cfebf3"/>
<rect x="444.7" y="139.80" width="4.7" height="7.55" fill="#9bcce2"/>
<rect x="449.1" y="139.80" width="9.1" height="7.55" fill="#cfebf3"/>
<rect x="457.9" y="139.80" width="4.7" height="7.55" fill="#f0f9db"/>
<rect x="462.2" y="139.80" width="4.7" height="7.55" fill="#cfebf3"/>
<rect x="466.6" y="139.80" width="4.7" height="7.55" fill="#f0f9db"/>
<rect x="471.0" y="139.80" width="4.7" height="7.55" fill="#6095c4"/>
<rect x="475.4" y="139.80" width="4.7" height="7.55" fill="#cfebf3"/>
<rect x="479.8" y="139.80" width="4.7" height="7.55" fill="#9bcce2"/>
<rect x="484.2" y="139.80" width="4.7" height="7.55" fill="#cfebf3"/>
<rect x="488.6" y="139.80" width="4.7" height="7.55" fill="#9bcce2"/>
<rect x="493.0" y="139.80" width="4.7" height="7.55" fill="#cfebf3"/>
<rect x="497.3" y="139.80" width="4.7" height="7.55" fill="#6095c4"/>
<rect x="501.7" y="139.80" width="17.9" height="7.55" fill="#9bcce2"/>
<rect x="519.3" y="139.80" width="9.1" height="7.55" fill="#cfebf3"/>
<rect x="528.1" y="139.80" width="4.7" height="7.55" fill="#9bcce2"/>
<rect x="532.4" y="139.80" width="4.7" height="7.55" fill="#cfebf3"/>
<rect x="536.8" y="139.80" width="4.7" height="7.55" fill="#feea9f"/>
<rect x="541.2" y="139.80" width="4.7" height="7.55" fill="#9bcce2"/>
<rect x="545.6" y="139.80" width="4.4" height="7.55" fill="#6095c4"/>
<rect x="146.3" y="147.05" width="4.7" height="7.55" fill="#6095c4"/>
<rect x="150.7" y="147.05" width="4.7" height="7.55" fill="#cfebf3"/>
<rect x="155.1" y="147.05" width="4.7" height="7.55" fill="#6095c4"/>
<rect x="159.5" y="147.05" width="4.7" height="7.55" fill="#9bcce2"/>
<rect x="163.9" y="147.05" width="4.7" height="7.55" fill="#fecc7e"/>
<rect x="168.2" y="147.05" width="4.7" height="7.55" fill="#6095c4"/>
<rect x="172.6" y="147.05" width="4.7" height="7.55" fill="#fecc7e"/>
<rect x="177.0" y="147.05" width="4.7" height="7.55" fill="#6095c4"/>
<rect x="181.4" y="147.05" width="13.5" height="7.55" fill="#9bcce2"/>
<rect x="194.6" y="147.05" width="9.1" height="7.55" fill="#6095c4"/>
<rect x="203.3" y="147.05" width="4.7" height="7.55" fill="#9bcce2"/>
<rect x="207.7" y="147.05" width="4.7" height="7.55" fill="#6095c4"/>
<rect x="212.1" y="147.05" width="9.1" height="7.55" fill="#9bcce2"/>
<rect x="220.9" y="147.05" width="9.1" height="7.55" fill="#f0f9db"/>
<rect x="229.7" y="147.05" width="4.7" height="7.55" fill="#9bcce2"/>
<rect x="234.1" y="147.05" width="4.7" height="7.55" fill="#cfebf3"/>
<rect x="238.4" y="147.05" width="4.7" height="7.55" fill="#9bcce2"/>
<rect x="242.8" y="147.05" width="4.7" height="7.55" fill="#6095c4"/>
<rect x="247.2" y="147.05" width="22.2" height="7.55" fill="#9bcce2"/>
<rect x="269.2" y="147.05" width="4.7" height="7.55" fill="#3e60aa"/>
<rect x="273.6" y="147.05" width="13.5" height="7.55" fill="#9bcce2"/>
<rect x="286.7" y="147.05" width="9.1" height="7.55" fill="#6095c4"/>
<rect x="295.5" y="147.05" width="4.7" height="7.55" fill="#9bcce2"/>
<rect x="299.9" y="147.05" width="4.7" height="7.55" fill="#f0f9db"/>
<rect x="304.3" y="147.05" width="9.1" height="7.55" fill="#6095c4"/>
<rect x="313.0" y="147.05" width="4.7" height="7.55" fill="#9bcce2"/>
<rect x="317.4" y="147.05" width="9.1" height="7.55" fill="#6095c4"/>
<rect x="326.2" y="147.05" width="4.7" height="7.55" fill="#3e60aa"/>
<rect x="330.6" y="147.05" width="9.1" height="7.55" fill="#6095c4"/>
<rect x="339.4" y="147.05" width="4.7" height="7.55" fill="#9bcce2"/>
<rect x="343.8" y="147.05" width="13.5" height="7.55" fill="#6095c4"/>
<rect x="356.9" y="147.05" width="4.7" height="7.55" fill="#f0f9db"/>
<rect x="361.3" y="147.05" width="4.7" height="7.55" fill="#3e60aa"/>
<rect x="365.7" y="147.05" width="4.7" height="7.55" fill="#9bcce2"/>
<rect x="370.1" y="147.05" width="4.7" height="7.55" fill="#3e60aa"/>
<rect x="374.5" y="147.05" width="4.7" height="7.55" fill="#f0f9db"/>
<rect x="378.9" y="147.05" width="4.7" height="7.55" fill="#cfebf3"/>
<rect x="383.3" y="147.05" width="4.7" height="7.55" fill="#3e60aa"/>
<rect x="387.6" y="147.05" width="4.7" height="7.55" fill="#9bcce2"/>
<rect x="392.0" y="147.05" width="9.1" height="7.55" fill="#cfebf3"/>
<rect x="400.8" y="147.05" width="9.1" height="7.55" fill="#9bcce2"/>
<rect x="409.6" y="147.05" width="4.7" height="7.55" fill="#6095c4"/>
<rect x="414.0" y="147.05" width="4.7" height="7.55" fill="#cfebf3"/>
<rect x="418.4" y="147.05" width="9.1" height="7.55" fill="#6095c4"/>
<rect x="427.1" y="147.05" width="4.7" height="7.55" fill="#3e60aa"/>
<rect x="431.5" y="147.05" width="4.7" height="7.55" fill="#6095c4"/>
<rect x="435.9" y="147.05" width="4.7" height="7.55" fill="#cfebf3"/>
<rect x="440.3" y="147.05" width="4.7" height="7.55" fill="#9bcce2"/>
<rect x="444.7" y="147.05" width="4.7" height="7.55" fill="#3e60aa"/>
<rect x="449.1" y="147.05" width="4.7" height="7.55" fill="#6095c4"/>
<rect x="453.5" y="147.05" width="13.5" height="7.55" fill="#9bcce2"/>
<rect x="466.6" y="147.05" width="4.7" height="7.55" fill="#feea9f"/>
<rect x="471.0" y="147.05" width="4.7" height="7.55" fill="#6095c4"/>
<rect x="475.4" y="147.05" width="4.7" height="7.55" fill="#f0f9db"/>
<rect x="479.8" y="147.05" width="4.7" height="7.55" fill="#6095c4"/>
<rect x="484.2" y="147.05" width="4.7" height="7.55" fill="#cfebf3"/>
<rect x="488.6" y="147.05" width="9.1" height="7.55" fill="#9bcce2"/>
<rect x="497.3" y="147.05" width="4.7" height="7.55" fill="#cfebf3"/>
<rect x="501.7" y="147.05" width="4.7" height="7.55" fill="#9bcce2"/>
<rect x="506.1" y="147.05" width="4.7" height="7.55" fill="#6095c4"/>
<rect x="510.5" y="147.05" width="13.5" height="7.55" fill="#9bcce2"/>
<rect x="523.7" y="147.05" width="4.7" height="7.55" fill="#cfebf3"/>
<rect x="528.1" y="147.05" width="4.7" height="7.55" fill="#3e60aa"/>
<rect x="532.4" y="147.05" width="4.7" height="7.55" fill="#9bcce2"/>
<rect x="536.8" y="147.05" width="4.7" height="7.55" fill="#feea9f"/>
<rect x="541.2" y="147.05" width="4.7" height="7.55" fill="#9bcce2"/>
<rect x="545.6" y="147.05" width="4.4" height="7.55" fill="#6095c4"/>
<rect x="146.3" y="154.30" width="4.7" height="7.55" fill="#9bcce2"/>
<rect x="150.7" y="154.30" width="4.7" height="7.55" fill="#cfebf3"/>
<rect x="155.1" y="154.30" width="4.7" height="7.55" fill="#fecc7e"/>
<rect x="159.5" y="154.30" width="4.7" height="7.55" fill="#3e60aa"/>
<rect x="163.9" y="154.30" width="4.7" height="7.55" fill="#f0f9db"/>
<rect x="168.2" y="154.30" width="4.7" height="7.55" fill="#9bcce2"/>
<rect x="172.6" y="154.30" width="9.1" height="7.55" fill="#f0f9db"/>
<rect x="181.4" y="154.30" width="4.7" height="7.55" fill="#3e60aa"/>
<rect x="185.8" y="154.30" width="17.9" height="7.55" fill="#9bcce2"/>
<rect x="203.3" y="154.30" width="4.7" height="7.55" fill="#cfebf3"/>
<rect x="207.7" y="154.30" width="4.7" height="7.55" fill="#6095c4"/>
<rect x="212.1" y="154.30" width="4.7" height="7.55" fill="#9bcce2"/>
<rect x="216.5" y="154.30" width="4.7" height="7.55" fill="#6095c4"/>
<rect x="220.9" y="154.30" width="4.7" height="7.55" fill="#9bcce2"/>
<rect x="225.3" y="154.30" width="4.7" height="7.55" fill="#f0f9db"/>
<rect x="229.7" y="154.30" width="4.7" height="7.55" fill="#9bcce2"/>
<rect x="234.1" y="154.30" width="4.7" height="7.55" fill="#cfebf3"/>
<rect x="238.4" y="154.30" width="4.7" height="7.55" fill="#9bcce2"/>
<rect x="242.8" y="154.30" width="4.7" height="7.55" fill="#6095c4"/>
<rect x="247.2" y="154.30" width="4.7" height="7.55" fill="#9bcce2"/>
<rect x="251.6" y="154.30" width="4.7" height="7.55" fill="#f0f9db"/>
<rect x="256.0" y="154.30" width="4.7" height="7.55" fill="#9bcce2"/>
<rect x="260.4" y="154.30" width="4.7" height="7.55" fill="#6095c4"/>
<rect x="264.8" y="154.30" width="4.7" height="7.55" fill="#cfebf3"/>
<rect x="269.2" y="154.30" width="4.7" height="7.55" fill="#9bcce2"/>
<rect x="273.6" y="154.30" width="4.7" height="7.55" fill="#6095c4"/>
<rect x="277.9" y="154.30" width="4.7" height="7.55" fill="#9bcce2"/>
<rect x="282.3" y="154.30" width="4.7" height="7.55" fill="#cfebf3"/>
<rect x="286.7" y="154.30" width="4.7" height="7.55" fill="#9bcce2"/>
<rect x="291.1" y="154.30" width="4.7" height="7.55" fill="#cfebf3"/>
<rect x="295.5" y="154.30" width="4.7" height="7.55" fill="#6095c4"/>
<rect x="299.9" y="154.30" width="4.7" height="7.55" fill="#cfebf3"/>
<rect x="304.3" y="154.30" width="4.7" height="7.55" fill="#9bcce2"/>
<rect x="308.7" y="154.30" width="4.7" height="7.55" fill="#6095c4"/>
<rect x="313.0" y="154.30" width="4.7" height="7.55" fill="#9bcce2"/>
<rect x="317.4" y="154.30" width="4.7" height="7.55" fill="#6095c4"/>
<rect x="321.8" y="154.30" width="4.7" height="7.55" fill="#9bcce2"/>
<rect x="326.2" y="154.30" width="9.1" height="7.55" fill="#6095c4"/>
<rect x="335.0" y="154.30" width="4.7" height="7.55" fill="#9bcce2"/>
<rect x="339.4" y="154.30" width="9.1" height="7.55" fill="#3e60aa"/>
<rect x="348.1" y="154.30" width="9.1" height="7.55" fill="#6095c4"/>
<rect x="356.9" y="154.30" width="4.7" height="7.55" fill="#f0f9db"/>
<rect x="361.3" y="154.30" width="4.7" height="7.55" fill="#9bcce2"/>
<rect x="365.7" y="154.30" width="4.7" height="7.55" fill="#cfebf3"/>
<rect x="370.1" y="154.30" width="4.7" height="7.55" fill="#9bcce2"/>
<rect x="374.5" y="154.30" width="13.5" height="7.55" fill="#6095c4"/>
<rect x="387.6" y="154.30" width="9.1" height="7.55" fill="#cfebf3"/>
<rect x="396.4" y="154.30" width="4.7" height="7.55" fill="#f0f9db"/>
<rect x="400.8" y="154.30" width="9.1" height="7.55" fill="#cfebf3"/>
<rect x="409.6" y="154.30" width="4.7" height="7.55" fill="#6095c4"/>
<rect x="414.0" y="154.30" width="4.7" height="7.55" fill="#cfebf3"/>
<rect x="418.4" y="154.30" width="4.7" height="7.55" fill="#6095c4"/>
<rect x="422.7" y="154.30" width="4.7" height="7.55" fill="#f0f9db"/>
<rect x="427.1" y="154.30" width="4.7" height="7.55" fill="#cfebf3"/>
<rect x="431.5" y="154.30" width="4.7" height="7.55" fill="#6095c4"/>
<rect x="435.9" y="154.30" width="4.7" height="7.55" fill="#cfebf3"/>
<rect x="440.3" y="154.30" width="4.7" height="7.55" fill="#9bcce2"/>
<rect x="444.7" y="154.30" width="4.7" height="7.55" fill="#6095c4"/>
<rect x="449.1" y="154.30" width="4.7" height="7.55" fill="#9bcce2"/>
<rect x="453.5" y="154.30" width="4.7" height="7.55" fill="#cfebf3"/>
<rect x="457.9" y="154.30" width="4.7" height="7.55" fill="#6095c4"/>
<rect x="462.2" y="154.30" width="4.7" height="7.55" fill="#cfebf3"/>
<rect x="466.6" y="154.30" width="4.7" height="7.55" fill="#f0f9db"/>
<rect x="471.0" y="154.30" width="4.7" height="7.55" fill="#6095c4"/>
<rect x="475.4" y="154.30" width="4.7" height="7.55" fill="#f0f9db"/>
<rect x="479.8" y="154.30" width="9.1" height="7.55" fill="#cfebf3"/>
<rect x="488.6" y="154.30" width="9.1" height="7.55" fill="#9bcce2"/>
<rect x="497.3" y="154.30" width="4.7" height="7.55" fill="#6095c4"/>
<rect x="501.7" y="154.30" width="9.1" height="7.55" fill="#9bcce2"/>
<rect x="510.5" y="154.30" width="4.7" height="7.55" fill="#6095c4"/>
<rect x="514.9" y="154.30" width="4.7" height="7.55" fill="#cfebf3"/>
<rect x="519.3" y="154.30" width="4.7" height="7.55" fill="#9bcce2"/>
<rect x="523.7" y="154.30" width="4.7" height="7.55" fill="#cfebf3"/>
<rect x="528.1" y="154.30" width="4.7" height="7.55" fill="#6095c4"/>
<rect x="532.4" y="154.30" width="4.7" height="7.55" fill="#9bcce2"/>
<rect x="536.8" y="154.30" width="4.7" height="7.55" fill="#cfebf3"/>
<rect x="541.2" y="154.30" width="4.7" height="7.55" fill="#9bcce2"/>
<rect x="545.6" y="154.30" width="4.4" height="7.55" fill="#6095c4"/>
<rect x="146.3" y="161.55" width="4.7" height="7.55" fill="#6095c4"/>
<rect x="150.7" y="161.55" width="4.7" height="7.55" fill="#9bcce2"/>
<rect x="155.1" y="161.55" width="4.7" height="7.55" fill="#f0f9db"/>
<rect x="159.5" y="161.55" width="4.7" height="7.55" fill="#6095c4"/>
<rect x="163.9" y="161.55" width="9.1" height="7.55" fill="#9bcce2"/>
<rect x="172.6" y="161.55" width="9.1" height="7.55" fill="#cfebf3"/>
<rect x="181.4" y="161.55" width="4.7" height="7.55" fill="#9bcce2"/>
<rect x="185.8" y="161.55" width="4.7" height="7.55" fill="#cfebf3"/>
<rect x="190.2" y="161.55" width="4.7" height="7.55" fill="#9bcce2"/>
<rect x="194.6" y="161.55" width="4.7" height="7.55" fill="#6095c4"/>
<rect x="199.0" y="161.55" width="4.7" height="7.55" fill="#cfebf3"/>
<rect x="203.3" y="161.55" width="4.7" height="7.55" fill="#f0f9db"/>
<rect x="207.7" y="161.55" width="4.7" height="7.55" fill="#9bcce2"/>
<rect x="212.1" y="161.55" width="9.1" height="7.55" fill="#cfebf3"/>
<rect x="220.9" y="161.55" width="9.1" height="7.55" fill="#f0f9db"/>
<rect x="229.7" y="161.55" width="4.7" height="7.55" fill="#6095c4"/>
<rect x="234.1" y="161.55" width="9.1" height="7.55" fill="#9bcce2"/>
<rect x="242.8" y="161.55" width="4.7" height="7.55" fill="#3e60aa"/>
<rect x="247.2" y="161.55" width="4.7" height="7.55" fill="#6095c4"/>
<rect x="251.6" y="161.55" width="9.1" height="7.55" fill="#cfebf3"/>
<rect x="260.4" y="161.55" width="4.7" height="7.55" fill="#6095c4"/>
<rect x="264.8" y="161.55" width="4.7" height="7.55" fill="#f0f9db"/>
<rect x="269.2" y="161.55" width="4.7" height="7.55" fill="#9bcce2"/>
<rect x="273.6" y="161.55" width="4.7" height="7.55" fill="#6095c4"/>
<rect x="277.9" y="161.55" width="4.7" height="7.55" fill="#cfebf3"/>
<rect x="282.3" y="161.55" width="4.7" height="7.55" fill="#f0f9db"/>
<rect x="286.7" y="161.55" width="4.7" height="7.55" fill="#9bcce2"/>
<rect x="291.1" y="161.55" width="4.7" height="7.55" fill="#6095c4"/>
<rect x="295.5" y="161.55" width="4.7" height="7.55" fill="#9bcce2"/>
<rect x="299.9" y="161.55" width="4.7" height="7.55" fill="#feea9f"/>
<rect x="304.3" y="161.55" width="4.7" height="7.55" fill="#9bcce2"/>
<rect x="308.7" y="161.55" width="4.7" height="7.55" fill="#6095c4"/>
<rect x="313.0" y="161.55" width="4.7" height="7.55" fill="#9bcce2"/>
<rect x="317.4" y="161.55" width="4.7" height="7.55" fill="#cfebf3"/>
<rect x="321.8" y="161.55" width="4.7" height="7.55" fill="#9bcce2"/>
<rect x="326.2" y="161.55" width="4.7" height="7.55" fill="#6095c4"/>
<rect x="330.6" y="161.55" width="4.7" height="7.55" fill="#9bcce2"/>
<rect x="335.0" y="161.55" width="13.5" height="7.55" fill="#6095c4"/>
<rect x="348.1" y="161.55" width="13.5" height="7.55" fill="#cfebf3"/>
<rect x="361.3" y="161.55" width="4.7" height="7.55" fill="#9bcce2"/>
<rect x="365.7" y="161.55" width="4.7" height="7.55" fill="#f0f9db"/>
<rect x="370.1" y="161.55" width="4.7" height="7.55" fill="#cfebf3"/>
<rect x="374.5" y="161.55" width="4.7" height="7.55" fill="#f0f9db"/>
<rect x="378.9" y="161.55" width="4.7" height="7.55" fill="#6095c4"/>
<rect x="383.3" y="161.55" width="9.1" height="7.55" fill="#cfebf3"/>
<rect x="392.0" y="161.55" width="4.7" height="7.55" fill="#f0f9db"/>
<rect x="396.4" y="161.55" width="4.7" height="7.55" fill="#cfebf3"/>
<rect x="400.8" y="161.55" width="4.7" height="7.55" fill="#9bcce2"/>
<rect x="405.2" y="161.55" width="4.7" height="7.55" fill="#cfebf3"/>
<rect x="409.6" y="161.55" width="4.7" height="7.55" fill="#9bcce2"/>
<rect x="414.0" y="161.55" width="4.7" height="7.55" fill="#f0f9db"/>
<rect x="418.4" y="161.55" width="4.7" height="7.55" fill="#cfebf3"/>
<rect x="422.7" y="161.55" width="4.7" height="7.55" fill="#9bcce2"/>
<rect x="427.1" y="161.55" width="4.7" height="7.55" fill="#f0f9db"/>
<rect x="431.5" y="161.55" width="4.7" height="7.55" fill="#9bcce2"/>
<rect x="435.9" y="161.55" width="4.7" height="7.55" fill="#cfebf3"/>
<rect x="440.3" y="161.55" width="9.1" height="7.55" fill="#6095c4"/>
<rect x="449.1" y="161.55" width="4.7" height="7.55" fill="#9bcce2"/>
<rect x="453.5" y="161.55" width="17.9" height="7.55" fill="#cfebf3"/>
<rect x="471.0" y="161.55" width="4.7" height="7.55" fill="#9bcce2"/>
<rect x="475.4" y="161.55" width="4.7" height="7.55" fill="#cfebf3"/>
<rect x="479.8" y="161.55" width="4.7" height="7.55" fill="#f0f9db"/>
<rect x="484.2" y="161.55" width="4.7" height="7.55" fill="#cfebf3"/>
<rect x="488.6" y="161.55" width="4.7" height="7.55" fill="#9bcce2"/>
<rect x="493.0" y="161.55" width="4.7" height="7.55" fill="#6095c4"/>
<rect x="497.3" y="161.55" width="4.7" height="7.55" fill="#feea9f"/>
<rect x="501.7" y="161.55" width="4.7" height="7.55" fill="#9bcce2"/>
<rect x="506.1" y="161.55" width="4.7" height="7.55" fill="#cfebf3"/>
<rect x="510.5" y="161.55" width="4.7" height="7.55" fill="#9bcce2"/>
<rect x="514.9" y="161.55" width="9.1" height="7.55" fill="#cfebf3"/>
<rect x="523.7" y="161.55" width="4.7" height="7.55" fill="#f0f9db"/>
<rect x="528.1" y="161.55" width="4.7" height="7.55" fill="#9bcce2"/>
<rect x="532.4" y="161.55" width="4.7" height="7.55" fill="#cfebf3"/>
<rect x="536.8" y="161.55" width="4.7" height="7.55" fill="#fecc7e"/>
<rect x="541.2" y="161.55" width="4.7" height="7.55" fill="#9bcce2"/>
<rect x="545.6" y="161.55" width="4.4" height="7.55" fill="#6095c4"/>
<rect x="146.3" y="168.80" width="9.1" height="7.55" fill="#6095c4"/>
<rect x="155.1" y="168.80" width="4.7" height="7.55" fill="#cfebf3"/>
<rect x="159.5" y="168.80" width="9.1" height="7.55" fill="#9bcce2"/>
<rect x="168.2" y="168.80" width="4.7" height="7.55" fill="#6095c4"/>
<rect x="172.6" y="168.80" width="4.7" height="7.55" fill="#cfebf3"/>
<rect x="177.0" y="168.80" width="4.7" height="7.55" fill="#9bcce2"/>
<rect x="181.4" y="168.80" width="4.7" height="7.55" fill="#3e60aa"/>
<rect x="185.8" y="168.80" width="9.1" height="7.55" fill="#9bcce2"/>
<rect x="194.6" y="168.80" width="4.7" height="7.55" fill="#6095c4"/>
<rect x="199.0" y="168.80" width="4.7" height="7.55" fill="#9bcce2"/>
<rect x="203.3" y="168.80" width="4.7" height="7.55" fill="#cfebf3"/>
<rect x="207.7" y="168.80" width="4.7" height="7.55" fill="#3e60aa"/>
<rect x="212.1" y="168.80" width="4.7" height="7.55" fill="#9bcce2"/>
<rect x="216.5" y="168.80" width="4.7" height="7.55" fill="#6095c4"/>
<rect x="220.9" y="168.80" width="9.1" height="7.55" fill="#cfebf3"/>
<rect x="229.7" y="168.80" width="4.7" height="7.55" fill="#6095c4"/>
<rect x="234.1" y="168.80" width="4.7" height="7.55" fill="#cfebf3"/>
<rect x="238.4" y="168.80" width="4.7" height="7.55" fill="#9bcce2"/>
<rect x="242.8" y="168.80" width="4.7" height="7.55" fill="#6095c4"/>
<rect x="247.2" y="168.80" width="17.9" height="7.55" fill="#9bcce2"/>
<rect x="264.8" y="168.80" width="4.7" height="7.55" fill="#cfebf3"/>
<rect x="269.2" y="168.80" width="9.1" height="7.55" fill="#9bcce2"/>
<rect x="277.9" y="168.80" width="4.7" height="7.55" fill="#6095c4"/>
<rect x="282.3" y="168.80" width="4.7" height="7.55" fill="#9bcce2"/>
<rect x="286.7" y="168.80" width="13.5" height="7.55" fill="#6095c4"/>
<rect x="299.9" y="168.80" width="4.7" height="7.55" fill="#f0f9db"/>
<rect x="304.3" y="168.80" width="4.7" height="7.55" fill="#6095c4"/>
<rect x="308.7" y="168.80" width="9.1" height="7.55" fill="#3e60aa"/>
<rect x="317.4" y="168.80" width="4.7" height="7.55" fill="#9bcce2"/>
<rect x="321.8" y="168.80" width="4.7" height="7.55" fill="#6095c4"/>
<rect x="326.2" y="168.80" width="9.1" height="7.55" fill="#3e60aa"/>
<rect x="335.0" y="168.80" width="4.7" height="7.55" fill="#9bcce2"/>
<rect x="339.4" y="168.80" width="13.5" height="7.55" fill="#6095c4"/>
<rect x="352.5" y="168.80" width="4.7" height="7.55" fill="#9bcce2"/>
<rect x="356.9" y="168.80" width="4.7" height="7.55" fill="#cfebf3"/>
<rect x="361.3" y="168.80" width="4.7" height="7.55" fill="#9bcce2"/>
<rect x="365.7" y="168.80" width="4.7" height="7.55" fill="#6095c4"/>
<rect x="370.1" y="168.80" width="9.1" height="7.55" fill="#cfebf3"/>
<rect x="378.9" y="168.80" width="4.7" height="7.55" fill="#6095c4"/>
<rect x="383.3" y="168.80" width="4.7" height="7.55" fill="#9bcce2"/>
<rect x="387.6" y="168.80" width="4.7" height="7.55" fill="#cfebf3"/>
<rect x="392.0" y="168.80" width="9.1" height="7.55" fill="#f0f9db"/>
<rect x="400.8" y="168.80" width="4.7" height="7.55" fill="#6095c4"/>
<rect x="405.2" y="168.80" width="4.7" height="7.55" fill="#cfebf3"/>
<rect x="409.6" y="168.80" width="4.7" height="7.55" fill="#6095c4"/>
<rect x="414.0" y="168.80" width="4.7" height="7.55" fill="#cfebf3"/>
<rect x="418.4" y="168.80" width="4.7" height="7.55" fill="#6095c4"/>
<rect x="422.7" y="168.80" width="4.7" height="7.55" fill="#9bcce2"/>
<rect x="427.1" y="168.80" width="4.7" height="7.55" fill="#cfebf3"/>
<rect x="431.5" y="168.80" width="4.7" height="7.55" fill="#6095c4"/>
<rect x="435.9" y="168.80" width="9.1" height="7.55" fill="#cfebf3"/>
<rect x="444.7" y="168.80" width="4.7" height="7.55" fill="#6095c4"/>
<rect x="449.1" y="168.80" width="4.7" height="7.55" fill="#9bcce2"/>
<rect x="453.5" y="168.80" width="4.7" height="7.55" fill="#cfebf3"/>
<rect x="457.9" y="168.80" width="9.1" height="7.55" fill="#9bcce2"/>
<rect x="466.6" y="168.80" width="4.7" height="7.55" fill="#cfebf3"/>
<rect x="471.0" y="168.80" width="4.7" height="7.55" fill="#9bcce2"/>
<rect x="475.4" y="168.80" width="4.7" height="7.55" fill="#f0f9db"/>
<rect x="479.8" y="168.80" width="4.7" height="7.55" fill="#cfebf3"/>
<rect x="484.2" y="168.80" width="17.9" height="7.55" fill="#6095c4"/>
<rect x="501.7" y="168.80" width="4.7" height="7.55" fill="#f0f9db"/>
<rect x="506.1" y="168.80" width="4.7" height="7.55" fill="#cfebf3"/>
<rect x="510.5" y="168.80" width="4.7" height="7.55" fill="#6095c4"/>
<rect x="514.9" y="168.80" width="4.7" height="7.55" fill="#9bcce2"/>
<rect x="519.3" y="168.80" width="9.1" height="7.55" fill="#cfebf3"/>
<rect x="528.1" y="168.80" width="4.7" height="7.55" fill="#9bcce2"/>
<rect x="532.4" y="168.80" width="4.7" height="7.55" fill="#6095c4"/>
<rect x="536.8" y="168.80" width="4.7" height="7.55" fill="#f0f9db"/>
<rect x="541.2" y="168.80" width="4.7" height="7.55" fill="#9bcce2"/>
<rect x="545.6" y="168.80" width="4.4" height="7.55" fill="#3e60aa"/>
<rect x="146.3" y="176.05" width="4.7" height="7.55" fill="#6095c4"/>
<rect x="150.7" y="176.05" width="9.1" height="7.55" fill="#f0f9db"/>
<rect x="159.5" y="176.05" width="4.7" height="7.55" fill="#6095c4"/>
<rect x="163.9" y="176.05" width="4.7" height="7.55" fill="#cfebf3"/>
<rect x="168.2" y="176.05" width="4.7" height="7.55" fill="#9bcce2"/>
<rect x="172.6" y="176.05" width="4.7" height="7.55" fill="#cfebf3"/>
<rect x="177.0" y="176.05" width="4.7" height="7.55" fill="#9bcce2"/>
<rect x="181.4" y="176.05" width="4.7" height="7.55" fill="#6095c4"/>
<rect x="185.8" y="176.05" width="9.1" height="7.55" fill="#9bcce2"/>
<rect x="194.6" y="176.05" width="4.7" height="7.55" fill="#6095c4"/>
<rect x="199.0" y="176.05" width="4.7" height="7.55" fill="#9bcce2"/>
<rect x="203.3" y="176.05" width="4.7" height="7.55" fill="#cfebf3"/>
<rect x="207.7" y="176.05" width="4.7" height="7.55" fill="#9bcce2"/>
<rect x="212.1" y="176.05" width="4.7" height="7.55" fill="#6095c4"/>
<rect x="216.5" y="176.05" width="4.7" height="7.55" fill="#9bcce2"/>
<rect x="220.9" y="176.05" width="9.1" height="7.55" fill="#cfebf3"/>
<rect x="229.7" y="176.05" width="4.7" height="7.55" fill="#6095c4"/>
<rect x="234.1" y="176.05" width="4.7" height="7.55" fill="#cfebf3"/>
<rect x="238.4" y="176.05" width="9.1" height="7.55" fill="#6095c4"/>
<rect x="247.2" y="176.05" width="13.5" height="7.55" fill="#9bcce2"/>
<rect x="260.4" y="176.05" width="4.7" height="7.55" fill="#3e60aa"/>
<rect x="264.8" y="176.05" width="4.7" height="7.55" fill="#cfebf3"/>
<rect x="269.2" y="176.05" width="4.7" height="7.55" fill="#9bcce2"/>
<rect x="273.6" y="176.05" width="4.7" height="7.55" fill="#3e60aa"/>
<rect x="277.9" y="176.05" width="4.7" height="7.55" fill="#9bcce2"/>
<rect x="282.3" y="176.05" width="4.7" height="7.55" fill="#cfebf3"/>
<rect x="286.7" y="176.05" width="4.7" height="7.55" fill="#6095c4"/>
<rect x="291.1" y="176.05" width="4.7" height="7.55" fill="#9bcce2"/>
<rect x="295.5" y="176.05" width="4.7" height="7.55" fill="#fecc7e"/>
<rect x="299.9" y="176.05" width="4.7" height="7.55" fill="#f0f9db"/>
<rect x="304.3" y="176.05" width="9.1" height="7.55" fill="#6095c4"/>
<rect x="313.0" y="176.05" width="4.7" height="7.55" fill="#9bcce2"/>
<rect x="317.4" y="176.05" width="4.7" height="7.55" fill="#cfebf3"/>
<rect x="321.8" y="176.05" width="4.7" height="7.55" fill="#9bcce2"/>
<rect x="326.2" y="176.05" width="4.7" height="7.55" fill="#6095c4"/>
<rect x="330.6" y="176.05" width="9.1" height="7.55" fill="#9bcce2"/>
<rect x="339.4" y="176.05" width="4.7" height="7.55" fill="#6095c4"/>
<rect x="343.8" y="176.05" width="4.7" height="7.55" fill="#3e60aa"/>
<rect x="348.1" y="176.05" width="4.7" height="7.55" fill="#9bcce2"/>
<rect x="352.5" y="176.05" width="17.9" height="7.55" fill="#cfebf3"/>
<rect x="370.1" y="176.05" width="4.7" height="7.55" fill="#6095c4"/>
<rect x="374.5" y="176.05" width="4.7" height="7.55" fill="#cfebf3"/>
<rect x="378.9" y="176.05" width="4.7" height="7.55" fill="#6095c4"/>
<rect x="383.3" y="176.05" width="17.9" height="7.55" fill="#cfebf3"/>
<rect x="400.8" y="176.05" width="9.1" height="7.55" fill="#9bcce2"/>
<rect x="409.6" y="176.05" width="4.7" height="7.55" fill="#6095c4"/>
<rect x="414.0" y="176.05" width="4.7" height="7.55" fill="#cfebf3"/>
<rect x="418.4" y="176.05" width="9.1" height="7.55" fill="#9bcce2"/>
<rect x="427.1" y="176.05" width="4.7" height="7.55" fill="#cfebf3"/>
<rect x="431.5" y="176.05" width="4.7" height="7.55" fill="#9bcce2"/>
<rect x="435.9" y="176.05" width="4.7" height="7.55" fill="#cfebf3"/>
<rect x="440.3" y="176.05" width="4.7" height="7.55" fill="#9bcce2"/>
<rect x="444.7" y="176.05" width="17.9" height="7.55" fill="#cfebf3"/>
<rect x="462.2" y="176.05" width="4.7" height="7.55" fill="#9bcce2"/>
<rect x="466.6" y="176.05" width="4.7" height="7.55" fill="#cfebf3"/>
<rect x="471.0" y="176.05" width="4.7" height="7.55" fill="#9bcce2"/>
<rect x="475.4" y="176.05" width="4.7" height="7.55" fill="#f0f9db"/>
<rect x="479.8" y="176.05" width="9.1" height="7.55" fill="#cfebf3"/>
<rect x="488.6" y="176.05" width="9.1" height="7.55" fill="#9bcce2"/>
<rect x="497.3" y="176.05" width="4.7" height="7.55" fill="#f0f9db"/>
<rect x="501.7" y="176.05" width="4.7" height="7.55" fill="#cfebf3"/>
<rect x="506.1" y="176.05" width="4.7" height="7.55" fill="#9bcce2"/>
<rect x="510.5" y="176.05" width="17.9" height="7.55" fill="#cfebf3"/>
<rect x="528.1" y="176.05" width="4.7" height="7.55" fill="#9bcce2"/>
<rect x="532.4" y="176.05" width="4.7" height="7.55" fill="#cfebf3"/>
<rect x="536.8" y="176.05" width="4.7" height="7.55" fill="#f88c51"/>
<rect x="541.2" y="176.05" width="4.7" height="7.55" fill="#9bcce2"/>
<rect x="545.6" y="176.05" width="4.4" height="7.55" fill="#6095c4"/>
<rect x="146.3" y="183.30" width="4.7" height="7.55" fill="#6095c4"/>
<rect x="150.7" y="183.30" width="4.7" height="7.55" fill="#9bcce2"/>
<rect x="155.1" y="183.30" width="4.7" height="7.55" fill="#feea9f"/>
<rect x="159.5" y="183.30" width="4.7" height="7.55" fill="#9bcce2"/>
<rect x="163.9" y="183.30" width="4.7" height="7.55" fill="#6095c4"/>
<rect x="168.2" y="183.30" width="4.7" height="7.55" fill="#9bcce2"/>
<rect x="172.6" y="183.30" width="4.7" height="7.55" fill="#f0f9db"/>
<rect x="177.0" y="183.30" width="13.5" height="7.55" fill="#9bcce2"/>
<rect x="190.2" y="183.30" width="4.7" height="7.55" fill="#cfebf3"/>
<rect x="194.6" y="183.30" width="4.7" height="7.55" fill="#6095c4"/>
<rect x="199.0" y="183.30" width="9.1" height="7.55" fill="#cfebf3"/>
<rect x="207.7" y="183.30" width="4.7" height="7.55" fill="#9bcce2"/>
<rect x="212.1" y="183.30" width="4.7" height="7.55" fill="#cfebf3"/>
<rect x="216.5" y="183.30" width="9.1" height="7.55" fill="#6095c4"/>
<rect x="225.3" y="183.30" width="4.7" height="7.55" fill="#cfebf3"/>
<rect x="229.7" y="183.30" width="17.9" height="7.55" fill="#9bcce2"/>
<rect x="247.2" y="183.30" width="4.7" height="7.55" fill="#feea9f"/>
<rect x="251.6" y="183.30" width="9.1" height="7.55" fill="#cfebf3"/>
<rect x="260.4" y="183.30" width="4.7" height="7.55" fill="#9bcce2"/>
<rect x="264.8" y="183.30" width="4.7" height="7.55" fill="#cfebf3"/>
<rect x="269.2" y="183.30" width="9.1" height="7.55" fill="#9bcce2"/>
<rect x="277.9" y="183.30" width="4.7" height="7.55" fill="#f0f9db"/>
<rect x="282.3" y="183.30" width="4.7" height="7.55" fill="#9bcce2"/>
<rect x="286.7" y="183.30" width="4.7" height="7.55" fill="#cfebf3"/>
<rect x="291.1" y="183.30" width="4.7" height="7.55" fill="#6095c4"/>
<rect x="295.5" y="183.30" width="4.7" height="7.55" fill="#9bcce2"/>
<rect x="299.9" y="183.30" width="4.7" height="7.55" fill="#f0f9db"/>
<rect x="304.3" y="183.30" width="9.1" height="7.55" fill="#6095c4"/>
<rect x="313.0" y="183.30" width="4.7" height="7.55" fill="#9bcce2"/>
<rect x="317.4" y="183.30" width="4.7" height="7.55" fill="#6095c4"/>
<rect x="321.8" y="183.30" width="4.7" height="7.55" fill="#9bcce2"/>
<rect x="326.2" y="183.30" width="4.7" height="7.55" fill="#3e60aa"/>
<rect x="330.6" y="183.30" width="4.7" height="7.55" fill="#f0f9db"/>
<rect x="335.0" y="183.30" width="13.5" height="7.55" fill="#6095c4"/>
<rect x="348.1" y="183.30" width="4.7" height="7.55" fill="#9bcce2"/>
<rect x="352.5" y="183.30" width="4.7" height="7.55" fill="#cfebf3"/>
<rect x="356.9" y="183.30" width="4.7" height="7.55" fill="#f0f9db"/>
<rect x="361.3" y="183.30" width="4.7" height="7.55" fill="#cfebf3"/>
<rect x="365.7" y="183.30" width="4.7" height="7.55" fill="#9bcce2"/>
<rect x="370.1" y="183.30" width="4.7" height="7.55" fill="#6095c4"/>
<rect x="374.5" y="183.30" width="4.7" height="7.55" fill="#cfebf3"/>
<rect x="378.9" y="183.30" width="4.7" height="7.55" fill="#6095c4"/>
<rect x="383.3" y="183.30" width="4.7" height="7.55" fill="#f0f9db"/>
<rect x="387.6" y="183.30" width="4.7" height="7.55" fill="#cfebf3"/>
<rect x="392.0" y="183.30" width="4.7" height="7.55" fill="#feea9f"/>
<rect x="396.4" y="183.30" width="4.7" height="7.55" fill="#cfebf3"/>
<rect x="400.8" y="183.30" width="4.7" height="7.55" fill="#3e60aa"/>
<rect x="405.2" y="183.30" width="4.7" height="7.55" fill="#f0f9db"/>
<rect x="409.6" y="183.30" width="9.1" height="7.55" fill="#cfebf3"/>
<rect x="418.4" y="183.30" width="4.7" height="7.55" fill="#3e60aa"/>
<rect x="422.7" y="183.30" width="9.1" height="7.55" fill="#feea9f"/>
<rect x="431.5" y="183.30" width="4.7" height="7.55" fill="#cfebf3"/>
<rect x="435.9" y="183.30" width="4.7" height="7.55" fill="#feea9f"/>
<rect x="440.3" y="183.30" width="4.7" height="7.55" fill="#9bcce2"/>
<rect x="444.7" y="183.30" width="4.7" height="7.55" fill="#3e60aa"/>
<rect x="449.1" y="183.30" width="4.7" height="7.55" fill="#9bcce2"/>
<rect x="453.5" y="183.30" width="9.1" height="7.55" fill="#f0f9db"/>
<rect x="462.2" y="183.30" width="4.7" height="7.55" fill="#cfebf3"/>
<rect x="466.6" y="183.30" width="4.7" height="7.55" fill="#f0f9db"/>
<rect x="471.0" y="183.30" width="4.7" height="7.55" fill="#3e60aa"/>
<rect x="475.4" y="183.30" width="13.5" height="7.55" fill="#cfebf3"/>
<rect x="488.6" y="183.30" width="13.5" height="7.55" fill="#9bcce2"/>
<rect x="501.7" y="183.30" width="4.7" height="7.55" fill="#cfebf3"/>
<rect x="506.1" y="183.30" width="9.1" height="7.55" fill="#6095c4"/>
<rect x="514.9" y="183.30" width="4.7" height="7.55" fill="#cfebf3"/>
<rect x="519.3" y="183.30" width="4.7" height="7.55" fill="#feea9f"/>
<rect x="523.7" y="183.30" width="4.7" height="7.55" fill="#f0f9db"/>
<rect x="528.1" y="183.30" width="4.7" height="7.55" fill="#6095c4"/>
<rect x="532.4" y="183.30" width="4.7" height="7.55" fill="#cfebf3"/>
<rect x="536.8" y="183.30" width="4.7" height="7.55" fill="#feea9f"/>
<rect x="541.2" y="183.30" width="4.7" height="7.55" fill="#9bcce2"/>
<rect x="545.6" y="183.30" width="4.4" height="7.55" fill="#6095c4"/>
<rect x="146.3" y="190.55" width="4.7" height="7.55" fill="#3e60aa"/>
<rect x="150.7" y="190.55" width="9.1" height="7.55" fill="#cfebf3"/>
<rect x="159.5" y="190.55" width="4.7" height="7.55" fill="#6095c4"/>
<rect x="163.9" y="190.55" width="13.5" height="7.55" fill="#cfebf3"/>
<rect x="177.0" y="190.55" width="13.5" height="7.55" fill="#6095c4"/>
<rect x="190.2" y="190.55" width="4.7" height="7.55" fill="#cfebf3"/>
<rect x="194.6" y="190.55" width="4.7" height="7.55" fill="#3e60aa"/>
<rect x="199.0" y="190.55" width="4.7" height="7.55" fill="#9bcce2"/>
<rect x="203.3" y="190.55" width="4.7" height="7.55" fill="#f0f9db"/>
<rect x="207.7" y="190.55" width="4.7" height="7.55" fill="#9bcce2"/>
<rect x="212.1" y="190.55" width="4.7" height="7.55" fill="#6095c4"/>
<rect x="216.5" y="190.55" width="4.7" height="7.55" fill="#9bcce2"/>
<rect x="220.9" y="190.55" width="4.7" height="7.55" fill="#6095c4"/>
<rect x="225.3" y="190.55" width="4.7" height="7.55" fill="#cfebf3"/>
<rect x="229.7" y="190.55" width="4.7" height="7.55" fill="#9bcce2"/>
<rect x="234.1" y="190.55" width="4.7" height="7.55" fill="#cfebf3"/>
<rect x="238.4" y="190.55" width="4.7" height="7.55" fill="#9bcce2"/>
<rect x="242.8" y="190.55" width="4.7" height="7.55" fill="#3e60aa"/>
<rect x="247.2" y="190.55" width="17.9" height="7.55" fill="#9bcce2"/>
<rect x="264.8" y="190.55" width="4.7" height="7.55" fill="#cfebf3"/>
<rect x="269.2" y="190.55" width="4.7" height="7.55" fill="#9bcce2"/>
<rect x="273.6" y="190.55" width="4.7" height="7.55" fill="#6095c4"/>
<rect x="277.9" y="190.55" width="4.7" height="7.55" fill="#9bcce2"/>
<rect x="282.3" y="190.55" width="4.7" height="7.55" fill="#f0f9db"/>
<rect x="286.7" y="190.55" width="4.7" height="7.55" fill="#6095c4"/>
<rect x="291.1" y="190.55" width="4.7" height="7.55" fill="#9bcce2"/>
<rect x="295.5" y="190.55" width="4.7" height="7.55" fill="#6095c4"/>
<rect x="299.9" y="190.55" width="4.7" height="7.55" fill="#f0f9db"/>
<rect x="304.3" y="190.55" width="13.5" height="7.55" fill="#6095c4"/>
<rect x="317.4" y="190.55" width="4.7" height="7.55" fill="#cfebf3"/>
<rect x="321.8" y="190.55" width="4.7" height="7.55" fill="#9bcce2"/>
<rect x="326.2" y="190.55" width="4.7" height="7.55" fill="#3e60aa"/>
<rect x="330.6" y="190.55" width="9.1" height="7.55" fill="#6095c4"/>
<rect x="339.4" y="190.55" width="4.7" height="7.55" fill="#3e60aa"/>
<rect x="343.8" y="190.55" width="4.7" height="7.55" fill="#6095c4"/>
<rect x="348.1" y="190.55" width="4.7" height="7.55" fill="#9bcce2"/>
<rect x="352.5" y="190.55" width="4.7" height="7.55" fill="#cfebf3"/>
<rect x="356.9" y="190.55" width="4.7" height="7.55" fill="#f0f9db"/>
<rect x="361.3" y="190.55" width="17.9" height="7.55" fill="#cfebf3"/>
<rect x="378.9" y="190.55" width="4.7" height="7.55" fill="#3e60aa"/>
<rect x="383.3" y="190.55" width="9.1" height="7.55" fill="#cfebf3"/>
<rect x="392.0" y="190.55" width="9.1" height="7.55" fill="#f0f9db"/>
<rect x="400.8" y="190.55" width="4.7" height="7.55" fill="#9bcce2"/>
<rect x="405.2" y="190.55" width="4.7" height="7.55" fill="#f0f9db"/>
<rect x="409.6" y="190.55" width="4.7" height="7.55" fill="#9bcce2"/>
<rect x="414.0" y="190.55" width="4.7" height="7.55" fill="#cfebf3"/>
<rect x="418.4" y="190.55" width="4.7" height="7.55" fill="#f0f9db"/>
<rect x="422.7" y="190.55" width="4.7" height="7.55" fill="#cfebf3"/>
<rect x="427.1" y="190.55" width="4.7" height="7.55" fill="#f0f9db"/>
<rect x="431.5" y="190.55" width="9.1" height="7.55" fill="#cfebf3"/>
<rect x="440.3" y="190.55" width="4.7" height="7.55" fill="#9bcce2"/>
<rect x="444.7" y="190.55" width="4.7" height="7.55" fill="#6095c4"/>
<rect x="449.1" y="190.55" width="4.7" height="7.55" fill="#f0f9db"/>
<rect x="453.5" y="190.55" width="13.5" height="7.55" fill="#cfebf3"/>
<rect x="466.6" y="190.55" width="4.7" height="7.55" fill="#feea9f"/>
<rect x="471.0" y="190.55" width="4.7" height="7.55" fill="#9bcce2"/>
<rect x="475.4" y="190.55" width="4.7" height="7.55" fill="#feea9f"/>
<rect x="479.8" y="190.55" width="9.1" height="7.55" fill="#cfebf3"/>
<rect x="488.6" y="190.55" width="9.1" height="7.55" fill="#9bcce2"/>
<rect x="497.3" y="190.55" width="4.7" height="7.55" fill="#3e60aa"/>
<rect x="501.7" y="190.55" width="9.1" height="7.55" fill="#cfebf3"/>
<rect x="510.5" y="190.55" width="4.7" height="7.55" fill="#f0f9db"/>
<rect x="514.9" y="190.55" width="4.7" height="7.55" fill="#6095c4"/>
<rect x="519.3" y="190.55" width="4.7" height="7.55" fill="#f0f9db"/>
<rect x="523.7" y="190.55" width="4.7" height="7.55" fill="#cfebf3"/>
<rect x="528.1" y="190.55" width="4.7" height="7.55" fill="#9bcce2"/>
<rect x="532.4" y="190.55" width="4.7" height="7.55" fill="#cfebf3"/>
<rect x="536.8" y="190.55" width="4.7" height="7.55" fill="#fecc7e"/>
<rect x="541.2" y="190.55" width="4.7" height="7.55" fill="#9bcce2"/>
<rect x="545.6" y="190.55" width="4.4" height="7.55" fill="#6095c4"/>
<rect x="146.3" y="197.80" width="4.7" height="7.55" fill="#9bcce2"/>
<rect x="150.7" y="197.80" width="4.7" height="7.55" fill="#f0f9db"/>
<rect x="155.1" y="197.80" width="4.7" height="7.55" fill="#feea9f"/>
<rect x="159.5" y="197.80" width="4.7" height="7.55" fill="#9bcce2"/>
<rect x="163.9" y="197.80" width="13.5" height="7.55" fill="#cfebf3"/>
<rect x="177.0" y="197.80" width="13.5" height="7.55" fill="#9bcce2"/>
<rect x="190.2" y="197.80" width="4.7" height="7.55" fill="#6095c4"/>
<rect x="194.6" y="197.80" width="4.7" height="7.55" fill="#9bcce2"/>
<rect x="199.0" y="197.80" width="4.7" height="7.55" fill="#6095c4"/>
<rect x="203.3" y="197.80" width="4.7" height="7.55" fill="#feea9f"/>
<rect x="207.7" y="197.80" width="4.7" height="7.55" fill="#9bcce2"/>
<rect x="212.1" y="197.80" width="4.7" height="7.55" fill="#cfebf3"/>
<rect x="216.5" y="197.80" width="4.7" height="7.55" fill="#6095c4"/>
<rect x="220.9" y="197.80" width="4.7" height="7.55" fill="#9bcce2"/>
<rect x="225.3" y="197.80" width="4.7" height="7.55" fill="#f0f9db"/>
<rect x="229.7" y="197.80" width="4.7" height="7.55" fill="#cfebf3"/>
<rect x="234.1" y="197.80" width="13.5" height="7.55" fill="#9bcce2"/>
<rect x="247.2" y="197.80" width="13.5" height="7.55" fill="#cfebf3"/>
<rect x="260.4" y="197.80" width="26.6" height="7.55" fill="#9bcce2"/>
<rect x="286.7" y="197.80" width="4.7" height="7.55" fill="#6095c4"/>
<rect x="291.1" y="197.80" width="13.5" height="7.55" fill="#cfebf3"/>
<rect x="304.3" y="197.80" width="4.7" height="7.55" fill="#9bcce2"/>
<rect x="308.7" y="197.80" width="4.7" height="7.55" fill="#3e60aa"/>
<rect x="313.0" y="197.80" width="13.5" height="7.55" fill="#9bcce2"/>
<rect x="326.2" y="197.80" width="4.7" height="7.55" fill="#3e60aa"/>
<rect x="330.6" y="197.80" width="4.7" height="7.55" fill="#9bcce2"/>
<rect x="335.0" y="197.80" width="4.7" height="7.55" fill="#6095c4"/>
<rect x="339.4" y="197.80" width="4.7" height="7.55" fill="#9bcce2"/>
<rect x="343.8" y="197.80" width="4.7" height="7.55" fill="#6095c4"/>
<rect x="348.1" y="197.80" width="4.7" height="7.55" fill="#9bcce2"/>
<rect x="352.5" y="197.80" width="22.2" height="7.55" fill="#cfebf3"/>
<rect x="374.5" y="197.80" width="4.7" height="7.55" fill="#f0f9db"/>
<rect x="378.9" y="197.80" width="4.7" height="7.55" fill="#6095c4"/>
<rect x="383.3" y="197.80" width="9.1" height="7.55" fill="#cfebf3"/>
<rect x="392.0" y="197.80" width="4.7" height="7.55" fill="#f0f9db"/>
<rect x="396.4" y="197.80" width="9.1" height="7.55" fill="#cfebf3"/>
<rect x="405.2" y="197.80" width="4.7" height="7.55" fill="#f0f9db"/>
<rect x="409.6" y="197.80" width="4.7" height="7.55" fill="#cfebf3"/>
<rect x="414.0" y="197.80" width="4.7" height="7.55" fill="#f0f9db"/>
<rect x="418.4" y="197.80" width="4.7" height="7.55" fill="#9bcce2"/>
<rect x="422.7" y="197.80" width="4.7" height="7.55" fill="#f0f9db"/>
<rect x="427.1" y="197.80" width="9.1" height="7.55" fill="#cfebf3"/>
<rect x="435.9" y="197.80" width="4.7" height="7.55" fill="#f0f9db"/>
<rect x="440.3" y="197.80" width="4.7" height="7.55" fill="#cfebf3"/>
<rect x="444.7" y="197.80" width="4.7" height="7.55" fill="#6095c4"/>
<rect x="449.1" y="197.80" width="22.2" height="7.55" fill="#cfebf3"/>
<rect x="471.0" y="197.80" width="4.7" height="7.55" fill="#9bcce2"/>
<rect x="475.4" y="197.80" width="9.1" height="7.55" fill="#f0f9db"/>
<rect x="484.2" y="197.80" width="4.7" height="7.55" fill="#cfebf3"/>
<rect x="488.6" y="197.80" width="4.7" height="7.55" fill="#6095c4"/>
<rect x="493.0" y="197.80" width="4.7" height="7.55" fill="#9bcce2"/>
<rect x="497.3" y="197.80" width="4.7" height="7.55" fill="#cfebf3"/>
<rect x="501.7" y="197.80" width="4.7" height="7.55" fill="#9bcce2"/>
<rect x="506.1" y="197.80" width="13.5" height="7.55" fill="#cfebf3"/>
<rect x="519.3" y="197.80" width="4.7" height="7.55" fill="#f0f9db"/>
<rect x="523.7" y="197.80" width="4.7" height="7.55" fill="#cfebf3"/>
<rect x="528.1" y="197.80" width="4.7" height="7.55" fill="#9bcce2"/>
<rect x="532.4" y="197.80" width="4.7" height="7.55" fill="#cfebf3"/>
<rect x="536.8" y="197.80" width="4.7" height="7.55" fill="#f0f9db"/>
<rect x="541.2" y="197.80" width="4.7" height="7.55" fill="#9bcce2"/>
<rect x="545.6" y="197.80" width="4.4" height="7.55" fill="#6095c4"/>
<rect x="146.3" y="205.05" width="4.7" height="7.55" fill="#e54e35"/>
<rect x="150.7" y="205.05" width="4.7" height="7.55" fill="#fecc7e"/>
<rect x="155.1" y="205.05" width="4.7" height="7.55" fill="#feea9f"/>
<rect x="159.5" y="205.05" width="4.7" height="7.55" fill="#f88c51"/>
<rect x="163.9" y="205.05" width="4.7" height="7.55" fill="#fecc7e"/>
<rect x="168.2" y="205.05" width="4.7" height="7.55" fill="#cfebf3"/>
<rect x="172.6" y="205.05" width="9.1" height="7.55" fill="#f0f9db"/>
<rect x="181.4" y="205.05" width="4.7" height="7.55" fill="#f88c51"/>
<rect x="185.8" y="205.05" width="4.7" height="7.55" fill="#e54e35"/>
<rect x="190.2" y="205.05" width="4.7" height="7.55" fill="#feea9f"/>
<rect x="194.6" y="205.05" width="4.7" height="7.55" fill="#fecc7e"/>
<rect x="199.0" y="205.05" width="4.7" height="7.55" fill="#e54e35"/>
<rect x="203.3" y="205.05" width="4.7" height="7.55" fill="#feea9f"/>
<rect x="207.7" y="205.05" width="4.7" height="7.55" fill="#fecc7e"/>
<rect x="212.1" y="205.05" width="4.7" height="7.55" fill="#feea9f"/>
<rect x="216.5" y="205.05" width="4.7" height="7.55" fill="#fecc7e"/>
<rect x="220.9" y="205.05" width="9.1" height="7.55" fill="#f0f9db"/>
<rect x="229.7" y="205.05" width="4.7" height="7.55" fill="#e54e35"/>
<rect x="234.1" y="205.05" width="4.7" height="7.55" fill="#feea9f"/>
<rect x="238.4" y="205.05" width="4.7" height="7.55" fill="#f88c51"/>
<rect x="242.8" y="205.05" width="4.7" height="7.55" fill="#e54e35"/>
<rect x="247.2" y="205.05" width="4.7" height="7.55" fill="#fecc7e"/>
<rect x="251.6" y="205.05" width="4.7" height="7.55" fill="#feea9f"/>
<rect x="256.0" y="205.05" width="4.7" height="7.55" fill="#f0f9db"/>
<rect x="260.4" y="205.05" width="4.7" height="7.55" fill="#e54e35"/>
<rect x="264.8" y="205.05" width="4.7" height="7.55" fill="#f0f9db"/>
<rect x="269.2" y="205.05" width="4.7" height="7.55" fill="#fecc7e"/>
<rect x="273.6" y="205.05" width="9.1" height="7.55" fill="#f88c51"/>
<rect x="282.3" y="205.05" width="4.7" height="7.55" fill="#f0f9db"/>
<rect x="286.7" y="205.05" width="9.1" height="7.55" fill="#f88c51"/>
<rect x="295.5" y="205.05" width="4.7" height="7.55" fill="#fecc7e"/>
<rect x="299.9" y="205.05" width="4.7" height="7.55" fill="#feea9f"/>
<rect x="304.3" y="205.05" width="4.7" height="7.55" fill="#f88c51"/>
<rect x="308.7" y="205.05" width="4.7" height="7.55" fill="#e54e35"/>
<rect x="313.0" y="205.05" width="4.7" height="7.55" fill="#fecc7e"/>
<rect x="317.4" y="205.05" width="9.1" height="7.55" fill="#f88c51"/>
<rect x="326.2" y="205.05" width="9.1" height="7.55" fill="#e54e35"/>
<rect x="335.0" y="205.05" width="4.7" height="7.55" fill="#f88c51"/>
<rect x="339.4" y="205.05" width="9.1" height="7.55" fill="#e54e35"/>
<rect x="348.1" y="205.05" width="4.7" height="7.55" fill="#feea9f"/>
<rect x="352.5" y="205.05" width="13.5" height="7.55" fill="#fecc7e"/>
<rect x="365.7" y="205.05" width="4.7" height="7.55" fill="#f0f9db"/>
<rect x="370.1" y="205.05" width="4.7" height="7.55" fill="#f88c51"/>
<rect x="374.5" y="205.05" width="4.7" height="7.55" fill="#fecc7e"/>
<rect x="378.9" y="205.05" width="4.7" height="7.55" fill="#f88c51"/>
<rect x="383.3" y="205.05" width="9.1" height="7.55" fill="#feea9f"/>
<rect x="392.0" y="205.05" width="4.7" height="7.55" fill="#cfebf3"/>
<rect x="396.4" y="205.05" width="4.7" height="7.55" fill="#f0f9db"/>
<rect x="400.8" y="205.05" width="4.7" height="7.55" fill="#fecc7e"/>
<rect x="405.2" y="205.05" width="4.7" height="7.55" fill="#f0f9db"/>
<rect x="409.6" y="205.05" width="4.7" height="7.55" fill="#feea9f"/>
<rect x="414.0" y="205.05" width="4.7" height="7.55" fill="#cfebf3"/>
<rect x="418.4" y="205.05" width="4.7" height="7.55" fill="#f88c51"/>
<rect x="422.7" y="205.05" width="9.1" height="7.55" fill="#f0f9db"/>
<rect x="431.5" y="205.05" width="4.7" height="7.55" fill="#fecc7e"/>
<rect x="435.9" y="205.05" width="4.7" height="7.55" fill="#feea9f"/>
<rect x="440.3" y="205.05" width="4.7" height="7.55" fill="#f0f9db"/>
<rect x="444.7" y="205.05" width="9.1" height="7.55" fill="#fecc7e"/>
<rect x="453.5" y="205.05" width="9.1" height="7.55" fill="#feea9f"/>
<rect x="462.2" y="205.05" width="4.7" height="7.55" fill="#e54e35"/>
<rect x="466.6" y="205.05" width="4.7" height="7.55" fill="#f0f9db"/>
<rect x="471.0" y="205.05" width="4.7" height="7.55" fill="#e54e35"/>
<rect x="475.4" y="205.05" width="4.7" height="7.55" fill="#feea9f"/>
<rect x="479.8" y="205.05" width="4.7" height="7.55" fill="#f88c51"/>
<rect x="484.2" y="205.05" width="4.7" height="7.55" fill="#feea9f"/>
<rect x="488.6" y="205.05" width="4.7" height="7.55" fill="#fecc7e"/>
<rect x="493.0" y="205.05" width="4.7" height="7.55" fill="#e54e35"/>
<rect x="497.3" y="205.05" width="4.7" height="7.55" fill="#bd1726"/>
<rect x="501.7" y="205.05" width="17.9" height="7.55" fill="#f88c51"/>
<rect x="519.3" y="205.05" width="4.7" height="7.55" fill="#feea9f"/>
<rect x="523.7" y="205.05" width="4.7" height="7.55" fill="#fecc7e"/>
<rect x="528.1" y="205.05" width="9.1" height="7.55" fill="#f88c51"/>
<rect x="536.8" y="205.05" width="4.7" height="7.55" fill="#cfebf3"/>
<rect x="541.2" y="205.05" width="4.7" height="7.55" fill="#f88c51"/>
<rect x="545.6" y="205.05" width="4.4" height="7.55" fill="#bd1726"/>
<rect x="146.3" y="212.30" width="4.7" height="7.55" fill="#f88c51"/>
<rect x="150.7" y="212.30" width="17.9" height="7.55" fill="#fecc7e"/>
<rect x="168.2" y="212.30" width="4.7" height="7.55" fill="#feea9f"/>
<rect x="172.6" y="212.30" width="9.1" height="7.55" fill="#f0f9db"/>
<rect x="181.4" y="212.30" width="9.1" height="7.55" fill="#f88c51"/>
<rect x="190.2" y="212.30" width="13.5" height="7.55" fill="#fecc7e"/>
<rect x="203.3" y="212.30" width="4.7" height="7.55" fill="#f0f9db"/>
<rect x="207.7" y="212.30" width="9.1" height="7.55" fill="#feea9f"/>
<rect x="216.5" y="212.30" width="4.7" height="7.55" fill="#fecc7e"/>
<rect x="220.9" y="212.30" width="4.7" height="7.55" fill="#cfebf3"/>
<rect x="225.3" y="212.30" width="4.7" height="7.55" fill="#f0f9db"/>
<rect x="229.7" y="212.30" width="4.7" height="7.55" fill="#e54e35"/>
<rect x="234.1" y="212.30" width="4.7" height="7.55" fill="#f0f9db"/>
<rect x="238.4" y="212.30" width="4.7" height="7.55" fill="#f88c51"/>
<rect x="242.8" y="212.30" width="4.7" height="7.55" fill="#e54e35"/>
<rect x="247.2" y="212.30" width="4.7" height="7.55" fill="#cfebf3"/>
<rect x="251.6" y="212.30" width="9.1" height="7.55" fill="#f0f9db"/>
<rect x="260.4" y="212.30" width="4.7" height="7.55" fill="#e54e35"/>
<rect x="264.8" y="212.30" width="4.7" height="7.55" fill="#cfebf3"/>
<rect x="269.2" y="212.30" width="4.7" height="7.55" fill="#fecc7e"/>
<rect x="273.6" y="212.30" width="9.1" height="7.55" fill="#f88c51"/>
<rect x="282.3" y="212.30" width="4.7" height="7.55" fill="#f0f9db"/>
<rect x="286.7" y="212.30" width="4.7" height="7.55" fill="#fecc7e"/>
<rect x="291.1" y="212.30" width="4.7" height="7.55" fill="#f88c51"/>
<rect x="295.5" y="212.30" width="4.7" height="7.55" fill="#fecc7e"/>
<rect x="299.9" y="212.30" width="4.7" height="7.55" fill="#f0f9db"/>
<rect x="304.3" y="212.30" width="4.7" height="7.55" fill="#fecc7e"/>
<rect x="308.7" y="212.30" width="4.7" height="7.55" fill="#e54e35"/>
<rect x="313.0" y="212.30" width="4.7" height="7.55" fill="#feea9f"/>
<rect x="317.4" y="212.30" width="4.7" height="7.55" fill="#fecc7e"/>
<rect x="321.8" y="212.30" width="4.7" height="7.55" fill="#feea9f"/>
<rect x="326.2" y="212.30" width="4.7" height="7.55" fill="#e54e35"/>
<rect x="330.6" y="212.30" width="4.7" height="7.55" fill="#f88c51"/>
<rect x="335.0" y="212.30" width="4.7" height="7.55" fill="#fecc7e"/>
<rect x="339.4" y="212.30" width="9.1" height="7.55" fill="#e54e35"/>
<rect x="348.1" y="212.30" width="4.7" height="7.55" fill="#feea9f"/>
<rect x="352.5" y="212.30" width="4.7" height="7.55" fill="#f88c51"/>
<rect x="356.9" y="212.30" width="4.7" height="7.55" fill="#e54e35"/>
<rect x="361.3" y="212.30" width="4.7" height="7.55" fill="#f88c51"/>
<rect x="365.7" y="212.30" width="4.7" height="7.55" fill="#f0f9db"/>
<rect x="370.1" y="212.30" width="4.7" height="7.55" fill="#f88c51"/>
<rect x="374.5" y="212.30" width="4.7" height="7.55" fill="#f0f9db"/>
<rect x="378.9" y="212.30" width="4.7" height="7.55" fill="#feea9f"/>
<rect x="383.3" y="212.30" width="4.7" height="7.55" fill="#fecc7e"/>
<rect x="387.6" y="212.30" width="4.7" height="7.55" fill="#f0f9db"/>
<rect x="392.0" y="212.30" width="4.7" height="7.55" fill="#cfebf3"/>
<rect x="396.4" y="212.30" width="4.7" height="7.55" fill="#f0f9db"/>
<rect x="400.8" y="212.30" width="4.7" height="7.55" fill="#fecc7e"/>
<rect x="405.2" y="212.30" width="4.7" height="7.55" fill="#cfebf3"/>
<rect x="409.6" y="212.30" width="9.1" height="7.55" fill="#f0f9db"/>
<rect x="418.4" y="212.30" width="4.7" height="7.55" fill="#feea9f"/>
<rect x="422.7" y="212.30" width="4.7" height="7.55" fill="#cfebf3"/>
<rect x="427.1" y="212.30" width="4.7" height="7.55" fill="#f0f9db"/>
<rect x="431.5" y="212.30" width="4.7" height="7.55" fill="#fecc7e"/>
<rect x="435.9" y="212.30" width="4.7" height="7.55" fill="#feea9f"/>
<rect x="440.3" y="212.30" width="4.7" height="7.55" fill="#f0f9db"/>
<rect x="444.7" y="212.30" width="4.7" height="7.55" fill="#f88c51"/>
<rect x="449.1" y="212.30" width="4.7" height="7.55" fill="#fecc7e"/>
<rect x="453.5" y="212.30" width="4.7" height="7.55" fill="#feea9f"/>
<rect x="457.9" y="212.30" width="9.1" height="7.55" fill="#f0f9db"/>
<rect x="466.6" y="212.30" width="4.7" height="7.55" fill="#f88c51"/>
<rect x="471.0" y="212.30" width="4.7" height="7.55" fill="#cfebf3"/>
<rect x="475.4" y="212.30" width="4.7" height="7.55" fill="#fecc7e"/>
<rect x="479.8" y="212.30" width="4.7" height="7.55" fill="#feea9f"/>
<rect x="484.2" y="212.30" width="4.7" height="7.55" fill="#fecc7e"/>
<rect x="488.6" y="212.30" width="4.7" height="7.55" fill="#feea9f"/>
<rect x="493.0" y="212.30" width="4.7" height="7.55" fill="#f88c51"/>
<rect x="497.3" y="212.30" width="4.7" height="7.55" fill="#e54e35"/>
<rect x="501.7" y="212.30" width="13.5" height="7.55" fill="#f88c51"/>
<rect x="514.9" y="212.30" width="4.7" height="7.55" fill="#e54e35"/>
<rect x="519.3" y="212.30" width="9.1" height="7.55" fill="#f0f9db"/>
<rect x="528.1" y="212.30" width="4.7" height="7.55" fill="#f88c51"/>
<rect x="532.4" y="212.30" width="4.7" height="7.55" fill="#fecc7e"/>
<rect x="536.8" y="212.30" width="4.7" height="7.55" fill="#cfebf3"/>
<rect x="541.2" y="212.30" width="4.7" height="7.55" fill="#f88c51"/>
<rect x="545.6" y="212.30" width="4.4" height="7.55" fill="#bd1726"/>
<rect x="146.3" y="219.55" width="4.7" height="7.55" fill="#e54e35"/>
<rect x="150.7" y="219.55" width="4.7" height="7.55" fill="#feea9f"/>
<rect x="155.1" y="219.55" width="4.7" height="7.55" fill="#e54e35"/>
<rect x="159.5" y="219.55" width="9.1" height="7.55" fill="#fecc7e"/>
<rect x="168.2" y="219.55" width="4.7" height="7.55" fill="#feea9f"/>
<rect x="172.6" y="219.55" width="4.7" height="7.55" fill="#f0f9db"/>
<rect x="177.0" y="219.55" width="4.7" height="7.55" fill="#fecc7e"/>
<rect x="181.4" y="219.55" width="9.1" height="7.55" fill="#f88c51"/>
<rect x="190.2" y="219.55" width="4.7" height="7.55" fill="#f0f9db"/>
<rect x="194.6" y="219.55" width="4.7" height="7.55" fill="#fecc7e"/>
<rect x="199.0" y="219.55" width="4.7" height="7.55" fill="#e54e35"/>
<rect x="203.3" y="219.55" width="4.7" height="7.55" fill="#f0f9db"/>
<rect x="207.7" y="219.55" width="4.7" height="7.55" fill="#feea9f"/>
<rect x="212.1" y="219.55" width="9.1" height="7.55" fill="#fecc7e"/>
<rect x="220.9" y="219.55" width="9.1" height="7.55" fill="#feea9f"/>
<rect x="229.7" y="219.55" width="4.7" height="7.55" fill="#e54e35"/>
<rect x="234.1" y="219.55" width="4.7" height="7.55" fill="#feea9f"/>
<rect x="238.4" y="219.55" width="9.1" height="7.55" fill="#e54e35"/>
<rect x="247.2" y="219.55" width="9.1" height="7.55" fill="#feea9f"/>
<rect x="256.0" y="219.55" width="4.7" height="7.55" fill="#fecc7e"/>
<rect x="260.4" y="219.55" width="9.1" height="7.55" fill="#f0f9db"/>
<rect x="269.2" y="219.55" width="9.1" height="7.55" fill="#fecc7e"/>
<rect x="277.9" y="219.55" width="4.7" height="7.55" fill="#feea9f"/>
<rect x="282.3" y="219.55" width="4.7" height="7.55" fill="#f0f9db"/>
<rect x="286.7" y="219.55" width="9.1" height="7.55" fill="#f88c51"/>
<rect x="295.5" y="219.55" width="4.7" height="7.55" fill="#fecc7e"/>
<rect x="299.9" y="219.55" width="4.7" height="7.55" fill="#feea9f"/>
<rect x="304.3" y="219.55" width="4.7" height="7.55" fill="#f88c51"/>
<rect x="308.7" y="219.55" width="4.7" height="7.55" fill="#e54e35"/>
<rect x="313.0" y="219.55" width="4.7" height="7.55" fill="#feea9f"/>
<rect x="317.4" y="219.55" width="4.7" height="7.55" fill="#fecc7e"/>
<rect x="321.8" y="219.55" width="4.7" height="7.55" fill="#f88c51"/>
<rect x="326.2" y="219.55" width="4.7" height="7.55" fill="#e54e35"/>
<rect x="330.6" y="219.55" width="4.7" height="7.55" fill="#f88c51"/>
<rect x="335.0" y="219.55" width="4.7" height="7.55" fill="#fecc7e"/>
<rect x="339.4" y="219.55" width="9.1" height="7.55" fill="#e54e35"/>
<rect x="348.1" y="219.55" width="9.1" height="7.55" fill="#f88c51"/>
<rect x="356.9" y="219.55" width="4.7" height="7.55" fill="#f0f9db"/>
<rect x="361.3" y="219.55" width="4.7" height="7.55" fill="#feea9f"/>
<rect x="365.7" y="219.55" width="13.5" height="7.55" fill="#fecc7e"/>
<rect x="378.9" y="219.55" width="13.5" height="7.55" fill="#f0f9db"/>
<rect x="392.0" y="219.55" width="4.7" height="7.55" fill="#cfebf3"/>
<rect x="396.4" y="219.55" width="4.7" height="7.55" fill="#f0f9db"/>
<rect x="400.8" y="219.55" width="4.7" height="7.55" fill="#fecc7e"/>
<rect x="405.2" y="219.55" width="4.7" height="7.55" fill="#f0f9db"/>
<rect x="409.6" y="219.55" width="4.7" height="7.55" fill="#feea9f"/>
<rect x="414.0" y="219.55" width="4.7" height="7.55" fill="#f0f9db"/>
<rect x="418.4" y="219.55" width="4.7" height="7.55" fill="#fecc7e"/>
<rect x="422.7" y="219.55" width="4.7" height="7.55" fill="#feea9f"/>
<rect x="427.1" y="219.55" width="4.7" height="7.55" fill="#f0f9db"/>
<rect x="431.5" y="219.55" width="4.7" height="7.55" fill="#fecc7e"/>
<rect x="435.9" y="219.55" width="4.7" height="7.55" fill="#feea9f"/>
<rect x="440.3" y="219.55" width="4.7" height="7.55" fill="#f0f9db"/>
<rect x="444.7" y="219.55" width="4.7" height="7.55" fill="#e54e35"/>
<rect x="449.1" y="219.55" width="4.7" height="7.55" fill="#fecc7e"/>
<rect x="453.5" y="219.55" width="4.7" height="7.55" fill="#f0f9db"/>
<rect x="457.9" y="219.55" width="4.7" height="7.55" fill="#cfebf3"/>
<rect x="462.2" y="219.55" width="4.7" height="7.55" fill="#fecc7e"/>
<rect x="466.6" y="219.55" width="4.7" height="7.55" fill="#feea9f"/>
<rect x="471.0" y="219.55" width="4.7" height="7.55" fill="#e54e35"/>
<rect x="475.4" y="219.55" width="4.7" height="7.55" fill="#f0f9db"/>
<rect x="479.8" y="219.55" width="4.7" height="7.55" fill="#fecc7e"/>
<rect x="484.2" y="219.55" width="4.7" height="7.55" fill="#feea9f"/>
<rect x="488.6" y="219.55" width="4.7" height="7.55" fill="#f0f9db"/>
<rect x="493.0" y="219.55" width="4.7" height="7.55" fill="#e54e35"/>
<rect x="497.3" y="219.55" width="4.7" height="7.55" fill="#bd1726"/>
<rect x="501.7" y="219.55" width="4.7" height="7.55" fill="#fecc7e"/>
<rect x="506.1" y="219.55" width="9.1" height="7.55" fill="#f88c51"/>
<rect x="514.9" y="219.55" width="4.7" height="7.55" fill="#fecc7e"/>
<rect x="519.3" y="219.55" width="4.7" height="7.55" fill="#feea9f"/>
<rect x="523.7" y="219.55" width="4.7" height="7.55" fill="#f0f9db"/>
<rect x="528.1" y="219.55" width="9.1" height="7.55" fill="#f88c51"/>
<rect x="536.8" y="219.55" width="4.7" height="7.55" fill="#cfebf3"/>
<rect x="541.2" y="219.55" width="4.7" height="7.55" fill="#feea9f"/>
<rect x="545.6" y="219.55" width="4.4" height="7.55" fill="#bd1726"/>
<rect x="146.3" y="226.80" width="4.7" height="7.55" fill="#e54e35"/>
<rect x="150.7" y="226.80" width="4.7" height="7.55" fill="#feea9f"/>
<rect x="155.1" y="226.80" width="4.7" height="7.55" fill="#fecc7e"/>
<rect x="159.5" y="226.80" width="4.7" height="7.55" fill="#f88c51"/>
<rect x="163.9" y="226.80" width="4.7" height="7.55" fill="#fecc7e"/>
<rect x="168.2" y="226.80" width="4.7" height="7.55" fill="#e54e35"/>
<rect x="172.6" y="226.80" width="4.7" height="7.55" fill="#fecc7e"/>
<rect x="177.0" y="226.80" width="4.7" height="7.55" fill="#feea9f"/>
<rect x="181.4" y="226.80" width="4.7" height="7.55" fill="#f88c51"/>
<rect x="185.8" y="226.80" width="4.7" height="7.55" fill="#feea9f"/>
<rect x="190.2" y="226.80" width="9.1" height="7.55" fill="#e54e35"/>
<rect x="199.0" y="226.80" width="4.7" height="7.55" fill="#f88c51"/>
<rect x="203.3" y="226.80" width="4.7" height="7.55" fill="#9bcce2"/>
<rect x="207.7" y="226.80" width="4.7" height="7.55" fill="#e54e35"/>
<rect x="212.1" y="226.80" width="9.1" height="7.55" fill="#fecc7e"/>
<rect x="220.9" y="226.80" width="4.7" height="7.55" fill="#f88c51"/>
<rect x="225.3" y="226.80" width="4.7" height="7.55" fill="#fecc7e"/>
<rect x="229.7" y="226.80" width="4.7" height="7.55" fill="#e54e35"/>
<rect x="234.1" y="226.80" width="9.1" height="7.55" fill="#f88c51"/>
<rect x="242.8" y="226.80" width="4.7" height="7.55" fill="#bd1726"/>
<rect x="247.2" y="226.80" width="4.7" height="7.55" fill="#f88c51"/>
<rect x="251.6" y="226.80" width="4.7" height="7.55" fill="#f0f9db"/>
<rect x="256.0" y="226.80" width="9.1" height="7.55" fill="#f88c51"/>
<rect x="264.8" y="226.80" width="4.7" height="7.55" fill="#fecc7e"/>
<rect x="269.2" y="226.80" width="9.1" height="7.55" fill="#f88c51"/>
<rect x="277.9" y="226.80" width="4.7" height="7.55" fill="#fecc7e"/>
<rect x="282.3" y="226.80" width="4.7" height="7.55" fill="#f0f9db"/>
<rect x="286.7" y="226.80" width="4.7" height="7.55" fill="#e54e35"/>
<rect x="291.1" y="226.80" width="4.7" height="7.55" fill="#feea9f"/>
<rect x="295.5" y="226.80" width="4.7" height="7.55" fill="#f88c51"/>
<rect x="299.9" y="226.80" width="4.7" height="7.55" fill="#cfebf3"/>
<rect x="304.3" y="226.80" width="9.1" height="7.55" fill="#e54e35"/>
<rect x="313.0" y="226.80" width="4.7" height="7.55" fill="#fecc7e"/>
<rect x="317.4" y="226.80" width="4.7" height="7.55" fill="#f88c51"/>
<rect x="321.8" y="226.80" width="4.7" height="7.55" fill="#e54e35"/>
<rect x="326.2" y="226.80" width="4.7" height="7.55" fill="#bd1726"/>
<rect x="330.6" y="226.80" width="9.1" height="7.55" fill="#e54e35"/>
<rect x="339.4" y="226.80" width="4.7" height="7.55" fill="#f88c51"/>
<rect x="343.8" y="226.80" width="4.7" height="7.55" fill="#bd1726"/>
<rect x="348.1" y="226.80" width="4.7" height="7.55" fill="#e54e35"/>
<rect x="352.5" y="226.80" width="4.7" height="7.55" fill="#feea9f"/>
<rect x="356.9" y="226.80" width="4.7" height="7.55" fill="#f88c51"/>
<rect x="361.3" y="226.80" width="4.7" height="7.55" fill="#fecc7e"/>
<rect x="365.7" y="226.80" width="4.7" height="7.55" fill="#f0f9db"/>
<rect x="370.1" y="226.80" width="4.7" height="7.55" fill="#fecc7e"/>
<rect x="374.5" y="226.80" width="4.7" height="7.55" fill="#f0f9db"/>
<rect x="378.9" y="226.80" width="13.5" height="7.55" fill="#f88c51"/>
<rect x="392.0" y="226.80" width="9.1" height="7.55" fill="#f0f9db"/>
<rect x="400.8" y="226.80" width="4.7" height="7.55" fill="#e54e35"/>
<rect x="405.2" y="226.80" width="4.7" height="7.55" fill="#feea9f"/>
<rect x="409.6" y="226.80" width="4.7" height="7.55" fill="#e54e35"/>
<rect x="414.0" y="226.80" width="4.7" height="7.55" fill="#feea9f"/>
<rect x="418.4" y="226.80" width="9.1" height="7.55" fill="#fecc7e"/>
<rect x="427.1" y="226.80" width="4.7" height="7.55" fill="#f0f9db"/>
<rect x="431.5" y="226.80" width="4.7" height="7.55" fill="#e54e35"/>
<rect x="435.9" y="226.80" width="4.7" height="7.55" fill="#feea9f"/>
<rect x="440.3" y="226.80" width="4.7" height="7.55" fill="#f88c51"/>
<rect x="444.7" y="226.80" width="4.7" height="7.55" fill="#e54e35"/>
<rect x="449.1" y="226.80" width="9.1" height="7.55" fill="#f88c51"/>
<rect x="457.9" y="226.80" width="4.7" height="7.55" fill="#f0f9db"/>
<rect x="462.2" y="226.80" width="4.7" height="7.55" fill="#fecc7e"/>
<rect x="466.6" y="226.80" width="4.7" height="7.55" fill="#feea9f"/>
<rect x="471.0" y="226.80" width="4.7" height="7.55" fill="#e54e35"/>
<rect x="475.4" y="226.80" width="4.7" height="7.55" fill="#f0f9db"/>
<rect x="479.8" y="226.80" width="4.7" height="7.55" fill="#feea9f"/>
<rect x="484.2" y="226.80" width="4.7" height="7.55" fill="#fecc7e"/>
<rect x="488.6" y="226.80" width="9.1" height="7.55" fill="#e54e35"/>
<rect x="497.3" y="226.80" width="4.7" height="7.55" fill="#bd1726"/>
<rect x="501.7" y="226.80" width="9.1" height="7.55" fill="#fecc7e"/>
<rect x="510.5" y="226.80" width="13.5" height="7.55" fill="#feea9f"/>
<rect x="523.7" y="226.80" width="4.7" height="7.55" fill="#fecc7e"/>
<rect x="528.1" y="226.80" width="9.1" height="7.55" fill="#f88c51"/>
<rect x="536.8" y="226.80" width="4.7" height="7.55" fill="#cfebf3"/>
<rect x="541.2" y="226.80" width="4.7" height="7.55" fill="#fecc7e"/>
<rect x="545.6" y="226.80" width="4.4" height="7.55" fill="#e54e35"/>
<rect x="146.3" y="234.05" width="9.1" height="7.25" fill="#fecc7e"/>
<rect x="155.1" y="234.05" width="4.7" height="7.25" fill="#f0f9db"/>
<rect x="159.5" y="234.05" width="4.7" height="7.25" fill="#fecc7e"/>
<rect x="163.9" y="234.05" width="9.1" height="7.25" fill="#feea9f"/>
<rect x="172.6" y="234.05" width="4.7" height="7.25" fill="#cfebf3"/>
<rect x="177.0" y="234.05" width="9.1" height="7.25" fill="#f0f9db"/>
<rect x="185.8" y="234.05" width="4.7" height="7.25" fill="#feea9f"/>
<rect x="190.2" y="234.05" width="4.7" height="7.25" fill="#f0f9db"/>
<rect x="194.6" y="234.05" width="9.1" height="7.25" fill="#feea9f"/>
<rect x="203.3" y="234.05" width="9.1" height="7.25" fill="#f0f9db"/>
<rect x="212.1" y="234.05" width="4.7" height="7.25" fill="#feea9f"/>
<rect x="216.5" y="234.05" width="4.7" height="7.25" fill="#fecc7e"/>
<rect x="220.9" y="234.05" width="4.7" height="7.25" fill="#cfebf3"/>
<rect x="225.3" y="234.05" width="4.7" height="7.25" fill="#f0f9db"/>
<rect x="229.7" y="234.05" width="4.7" height="7.25" fill="#fecc7e"/>
<rect x="234.1" y="234.05" width="4.7" height="7.25" fill="#f0f9db"/>
<rect x="238.4" y="234.05" width="4.7" height="7.25" fill="#fecc7e"/>
<rect x="242.8" y="234.05" width="4.7" height="7.25" fill="#e54e35"/>
<rect x="247.2" y="234.05" width="4.7" height="7.25" fill="#f0f9db"/>
<rect x="251.6" y="234.05" width="4.7" height="7.25" fill="#cfebf3"/>
<rect x="256.0" y="234.05" width="4.7" height="7.25" fill="#f0f9db"/>
<rect x="260.4" y="234.05" width="4.7" height="7.25" fill="#fecc7e"/>
<rect x="264.8" y="234.05" width="4.7" height="7.25" fill="#f0f9db"/>
<rect x="269.2" y="234.05" width="4.7" height="7.25" fill="#feea9f"/>
<rect x="273.6" y="234.05" width="4.7" height="7.25" fill="#fecc7e"/>
<rect x="277.9" y="234.05" width="4.7" height="7.25" fill="#f0f9db"/>
<rect x="282.3" y="234.05" width="4.7" height="7.25" fill="#cfebf3"/>
<rect x="286.7" y="234.05" width="13.5" height="7.25" fill="#feea9f"/>
<rect x="299.9" y="234.05" width="4.7" height="7.25" fill="#f0f9db"/>
<rect x="304.3" y="234.05" width="4.7" height="7.25" fill="#feea9f"/>
<rect x="308.7" y="234.05" width="4.7" height="7.25" fill="#fecc7e"/>
<rect x="313.0" y="234.05" width="9.1" height="7.25" fill="#feea9f"/>
<rect x="321.8" y="234.05" width="22.2" height="7.25" fill="#fecc7e"/>
<rect x="343.8" y="234.05" width="4.7" height="7.25" fill="#e54e35"/>
<rect x="348.1" y="234.05" width="13.5" height="7.25" fill="#f0f9db"/>
<rect x="361.3" y="234.05" width="4.7" height="7.25" fill="#f88c51"/>
<rect x="365.7" y="234.05" width="4.7" height="7.25" fill="#cfebf3"/>
<rect x="370.1" y="234.05" width="4.7" height="7.25" fill="#feea9f"/>
<rect x="374.5" y="234.05" width="4.7" height="7.25" fill="#f0f9db"/>
<rect x="378.9" y="234.05" width="22.2" height="7.25" fill="#cfebf3"/>
<rect x="400.8" y="234.05" width="4.7" height="7.25" fill="#feea9f"/>
<rect x="405.2" y="234.05" width="4.7" height="7.25" fill="#cfebf3"/>
<rect x="409.6" y="234.05" width="4.7" height="7.25" fill="#f0f9db"/>
<rect x="414.0" y="234.05" width="4.7" height="7.25" fill="#cfebf3"/>
<rect x="418.4" y="234.05" width="4.7" height="7.25" fill="#feea9f"/>
<rect x="422.7" y="234.05" width="4.7" height="7.25" fill="#f0f9db"/>
<rect x="427.1" y="234.05" width="4.7" height="7.25" fill="#cfebf3"/>
<rect x="431.5" y="234.05" width="4.7" height="7.25" fill="#feea9f"/>
<rect x="435.9" y="234.05" width="4.7" height="7.25" fill="#f0f9db"/>
<rect x="440.3" y="234.05" width="4.7" height="7.25" fill="#cfebf3"/>
<rect x="444.7" y="234.05" width="22.2" height="7.25" fill="#feea9f"/>
<rect x="466.6" y="234.05" width="4.7" height="7.25" fill="#cfebf3"/>
<rect x="471.0" y="234.05" width="9.1" height="7.25" fill="#feea9f"/>
<rect x="479.8" y="234.05" width="4.7" height="7.25" fill="#fecc7e"/>
<rect x="484.2" y="234.05" width="4.7" height="7.25" fill="#cfebf3"/>
<rect x="488.6" y="234.05" width="13.5" height="7.25" fill="#fecc7e"/>
<rect x="501.7" y="234.05" width="9.1" height="7.25" fill="#feea9f"/>
<rect x="510.5" y="234.05" width="4.7" height="7.25" fill="#f0f9db"/>
<rect x="514.9" y="234.05" width="13.5" height="7.25" fill="#feea9f"/>
<rect x="528.1" y="234.05" width="4.7" height="7.25" fill="#fecc7e"/>
<rect x="532.4" y="234.05" width="4.7" height="7.25" fill="#feea9f"/>
<rect x="536.8" y="234.05" width="4.7" height="7.25" fill="#cfebf3"/>
<rect x="541.2" y="234.05" width="4.7" height="7.25" fill="#feea9f"/>
<rect x="545.6" y="234.05" width="4.4" height="7.25" fill="#e54e35"/>
<rect x="146.30" y="204.05" width="403.70" height="1.8" fill="#fff"/>
<rect x="146.30" y="11.9" width="201.85" height="5.4" fill="#f5bccb"/>
<rect x="348.15" y="11.9" width="201.85" height="5.4" fill="#b3e3e6"/>
<rect x="146.30" y="17.7" width="162.36" height="5.3" fill="#369b2c"/>
<rect x="308.66" y="17.7" width="39.49" height="5.3" fill="#b52222"/>
<rect x="348.15" y="17.7" width="162.36" height="5.3" fill="#369b2c"/>
<rect x="510.51" y="17.7" width="39.49" height="5.3" fill="#b52222"/>
<rect x="129.5" y="23.80" width="10.4" height="181.25" fill="#4281ba"/>
<rect x="129.5" y="205.05" width="10.4" height="36.25" fill="#da3030"/>
<line x1="134.7" y1="241.3" x2="134.7" y2="243.6" stroke="#333" stroke-width="0.6"/>
<text transform="translate(133.3,247) rotate(-90)" text-anchor="end" font-size="6.2" fill="#262626" textLength="22.15" lengthAdjust="spacingAndGlyphs">Methyl.</text>
<text transform="translate(139.8,247) rotate(-90)" text-anchor="end" font-size="6.2" fill="#262626" textLength="19.12" lengthAdjust="spacingAndGlyphs">Status</text>
<line x1="550" y1="27.43" x2="552.4" y2="27.43" stroke="#333" stroke-width="0.6"/>
<text x="554.8" y="29.78" font-size="7.01" fill="#262626"><tspan font-style="italic" textLength="22.71" lengthAdjust="spacingAndGlyphs">SRXN1</tspan><tspan textLength="58.49" lengthAdjust="spacingAndGlyphs"> (chr20:1631771)</tspan></text>
<line x1="550" y1="34.67" x2="552.4" y2="34.67" stroke="#333" stroke-width="0.6"/>
<text x="554.8" y="37.02" font-size="7.01" fill="#262626"><tspan font-style="italic" textLength="22.77" lengthAdjust="spacingAndGlyphs">FOXO3</tspan><tspan textLength="62.74" lengthAdjust="spacingAndGlyphs"> (chr6:108562564)</tspan></text>
<line x1="550" y1="41.92" x2="552.4" y2="41.92" stroke="#333" stroke-width="0.6"/>
<text x="554.8" y="44.27" font-size="7.01" fill="#262626"><tspan font-style="italic" textLength="65.39" lengthAdjust="spacingAndGlyphs">ENSG00000287737</tspan><tspan textLength="62.74" lengthAdjust="spacingAndGlyphs"> (chr17:81274041)</tspan></text>
<line x1="550" y1="49.17" x2="552.4" y2="49.17" stroke="#333" stroke-width="0.6"/>
<text x="554.8" y="51.52" font-size="7.01" fill="#262626"><tspan font-style="italic" textLength="22.71" lengthAdjust="spacingAndGlyphs">SRXN1</tspan><tspan textLength="54.24" lengthAdjust="spacingAndGlyphs"> (chr20:330120)</tspan></text>
<line x1="550" y1="56.42" x2="552.4" y2="56.42" stroke="#333" stroke-width="0.6"/>
<text x="554.8" y="58.77" font-size="7.01" fill="#262626"><tspan font-style="italic" textLength="22.71" lengthAdjust="spacingAndGlyphs">SRXN1</tspan><tspan textLength="58.49" lengthAdjust="spacingAndGlyphs"> (chr20:1166154)</tspan></text>
<line x1="550" y1="63.67" x2="552.4" y2="63.67" stroke="#333" stroke-width="0.6"/>
<text x="554.8" y="66.02" font-size="7.01" fill="#262626"><tspan font-style="italic" textLength="29.07" lengthAdjust="spacingAndGlyphs">R3HDM4</tspan><tspan textLength="58.49" lengthAdjust="spacingAndGlyphs"> (chr19:1423696)</tspan></text>
<line x1="550" y1="70.92" x2="552.4" y2="70.92" stroke="#333" stroke-width="0.6"/>
<text x="554.8" y="73.27" font-size="7.01" fill="#262626"><tspan font-style="italic" textLength="29.07" lengthAdjust="spacingAndGlyphs">R3HDM4</tspan><tspan textLength="58.49" lengthAdjust="spacingAndGlyphs"> (chr19:1423674)</tspan></text>
<line x1="550" y1="78.17" x2="552.4" y2="78.17" stroke="#333" stroke-width="0.6"/>
<text x="554.8" y="80.52" font-size="7.01" fill="#262626"><tspan font-style="italic" textLength="22.71" lengthAdjust="spacingAndGlyphs">SRXN1</tspan><tspan textLength="54.24" lengthAdjust="spacingAndGlyphs"> (chr20:654151)</tspan></text>
<line x1="550" y1="85.42" x2="552.4" y2="85.42" stroke="#333" stroke-width="0.6"/>
<text x="554.8" y="87.77" font-size="7.01" fill="#262626"><tspan font-style="italic" textLength="20.34" lengthAdjust="spacingAndGlyphs">FURIN</tspan><tspan textLength="62.74" lengthAdjust="spacingAndGlyphs"> (chr15:90100633)</tspan></text>
<line x1="550" y1="92.67" x2="552.4" y2="92.67" stroke="#333" stroke-width="0.6"/>
<text x="554.8" y="95.02" font-size="7.01" fill="#262626"><tspan font-style="italic" textLength="20.30" lengthAdjust="spacingAndGlyphs">YPEL3</tspan><tspan textLength="62.74" lengthAdjust="spacingAndGlyphs"> (chr16:30964865)</tspan></text>
<line x1="550" y1="99.92" x2="552.4" y2="99.92" stroke="#333" stroke-width="0.6"/>
<text x="554.8" y="102.27" font-size="7.01" fill="#262626"><tspan font-style="italic" textLength="65.39" lengthAdjust="spacingAndGlyphs">ENSG00000287737</tspan><tspan textLength="62.74" lengthAdjust="spacingAndGlyphs"> (chr17:82838607)</tspan></text>
<line x1="550" y1="107.17" x2="552.4" y2="107.17" stroke="#333" stroke-width="0.6"/>
<text x="554.8" y="109.52" font-size="7.01" fill="#262626"><tspan font-style="italic" textLength="65.39" lengthAdjust="spacingAndGlyphs">ENSG00000287737</tspan><tspan textLength="62.74" lengthAdjust="spacingAndGlyphs"> (chr17:82838556)</tspan></text>
<line x1="550" y1="114.42" x2="552.4" y2="114.42" stroke="#333" stroke-width="0.6"/>
<text x="554.8" y="116.77" font-size="7.01" fill="#262626"><tspan font-style="italic" textLength="21.08" lengthAdjust="spacingAndGlyphs">FKBP5</tspan><tspan textLength="58.49" lengthAdjust="spacingAndGlyphs"> (chr6:36697843)</tspan></text>
<line x1="550" y1="121.67" x2="552.4" y2="121.67" stroke="#333" stroke-width="0.6"/>
<text x="554.8" y="124.02" font-size="7.01" fill="#262626"><tspan font-style="italic" textLength="40.11" lengthAdjust="spacingAndGlyphs">GABARAPL2</tspan><tspan textLength="62.74" lengthAdjust="spacingAndGlyphs"> (chr16:75063094)</tspan></text>
<line x1="550" y1="128.93" x2="552.4" y2="128.93" stroke="#333" stroke-width="0.6"/>
<text x="554.8" y="131.28" font-size="7.01" fill="#262626"><tspan font-style="italic" textLength="65.39" lengthAdjust="spacingAndGlyphs">ENSG00000289377</tspan><tspan textLength="62.74" lengthAdjust="spacingAndGlyphs"> (chr1:234612121)</tspan></text>
<line x1="550" y1="136.18" x2="552.4" y2="136.18" stroke="#333" stroke-width="0.6"/>
<text x="554.8" y="138.53" font-size="7.01" fill="#262626"><tspan font-style="italic" textLength="21.36" lengthAdjust="spacingAndGlyphs">GRINA</tspan><tspan textLength="62.74" lengthAdjust="spacingAndGlyphs"> (chr8:143356214)</tspan></text>
<line x1="550" y1="143.43" x2="552.4" y2="143.43" stroke="#333" stroke-width="0.6"/>
<text x="554.8" y="145.78" font-size="7.01" fill="#262626"><tspan font-style="italic" textLength="27.43" lengthAdjust="spacingAndGlyphs">IL18RAP</tspan><tspan textLength="62.74" lengthAdjust="spacingAndGlyphs"> (chr2:102143316)</tspan></text>
<line x1="550" y1="150.68" x2="552.4" y2="150.68" stroke="#333" stroke-width="0.6"/>
<text x="554.8" y="153.03" font-size="7.01" fill="#262626"><tspan font-style="italic" textLength="14.81" lengthAdjust="spacingAndGlyphs">RHD</tspan><tspan textLength="58.49" lengthAdjust="spacingAndGlyphs"> (chr1:25771417)</tspan></text>
<line x1="550" y1="157.93" x2="552.4" y2="157.93" stroke="#333" stroke-width="0.6"/>
<text x="554.8" y="160.28" font-size="7.01" fill="#262626"><tspan font-style="italic" textLength="29.95" lengthAdjust="spacingAndGlyphs">SLC66A2</tspan><tspan textLength="62.74" lengthAdjust="spacingAndGlyphs"> (chr18:79506961)</tspan></text>
<line x1="550" y1="165.18" x2="552.4" y2="165.18" stroke="#333" stroke-width="0.6"/>
<text x="554.8" y="167.53" font-size="7.01" fill="#262626"><tspan font-style="italic" textLength="65.39" lengthAdjust="spacingAndGlyphs">ENSG00000287737</tspan><tspan textLength="62.74" lengthAdjust="spacingAndGlyphs"> (chr17:82624115)</tspan></text>
<line x1="550" y1="172.43" x2="552.4" y2="172.43" stroke="#333" stroke-width="0.6"/>
<text x="554.8" y="174.78" font-size="7.01" fill="#262626"><tspan font-style="italic" textLength="22.71" lengthAdjust="spacingAndGlyphs">SRXN1</tspan><tspan textLength="58.49" lengthAdjust="spacingAndGlyphs"> (chr20:1467583)</tspan></text>
<line x1="550" y1="179.68" x2="552.4" y2="179.68" stroke="#333" stroke-width="0.6"/>
<text x="554.8" y="182.03" font-size="7.01" fill="#262626"><tspan font-style="italic" textLength="65.39" lengthAdjust="spacingAndGlyphs">ENSG00000287737</tspan><tspan textLength="62.74" lengthAdjust="spacingAndGlyphs"> (chr17:82624041)</tspan></text>
<line x1="550" y1="186.93" x2="552.4" y2="186.93" stroke="#333" stroke-width="0.6"/>
<text x="554.8" y="189.28" font-size="7.01" fill="#262626"><tspan font-style="italic" textLength="65.39" lengthAdjust="spacingAndGlyphs">ENSG00000287737</tspan><tspan textLength="62.74" lengthAdjust="spacingAndGlyphs"> (chr17:82223145)</tspan></text>
<line x1="550" y1="194.18" x2="552.4" y2="194.18" stroke="#333" stroke-width="0.6"/>
<text x="554.8" y="196.53" font-size="7.01" fill="#262626"><tspan font-style="italic" textLength="17.23" lengthAdjust="spacingAndGlyphs">FLCN</tspan><tspan textLength="62.74" lengthAdjust="spacingAndGlyphs"> (chr17:17276112)</tspan></text>
<line x1="550" y1="201.43" x2="552.4" y2="201.43" stroke="#333" stroke-width="0.6"/>
<text x="554.8" y="203.78" font-size="7.01" fill="#262626"><tspan font-style="italic" textLength="23.17" lengthAdjust="spacingAndGlyphs">GCNT4</tspan><tspan textLength="58.49" lengthAdjust="spacingAndGlyphs"> (chr5:75320838)</tspan></text>
<line x1="550" y1="208.68" x2="552.4" y2="208.68" stroke="#333" stroke-width="0.6"/>
<text x="554.8" y="211.03" font-size="7.01" fill="#262626"><tspan font-style="italic" textLength="65.39" lengthAdjust="spacingAndGlyphs">ENSG00000287737</tspan><tspan textLength="62.74" lengthAdjust="spacingAndGlyphs"> (chr17:82126935)</tspan></text>
<line x1="550" y1="215.93" x2="552.4" y2="215.93" stroke="#333" stroke-width="0.6"/>
<text x="554.8" y="218.28" font-size="7.01" fill="#262626"><tspan font-style="italic" textLength="65.39" lengthAdjust="spacingAndGlyphs">ENSG00000287737</tspan><tspan textLength="62.74" lengthAdjust="spacingAndGlyphs"> (chr17:82126939)</tspan></text>
<line x1="550" y1="223.18" x2="552.4" y2="223.18" stroke="#333" stroke-width="0.6"/>
<text x="554.8" y="225.53" font-size="7.01" fill="#262626"><tspan font-style="italic" textLength="65.39" lengthAdjust="spacingAndGlyphs">ENSG00000287737</tspan><tspan textLength="62.74" lengthAdjust="spacingAndGlyphs"> (chr17:82127016)</tspan></text>
<line x1="550" y1="230.43" x2="552.4" y2="230.43" stroke="#333" stroke-width="0.6"/>
<text x="554.8" y="232.78" font-size="7.01" fill="#262626"><tspan font-style="italic" textLength="48.76" lengthAdjust="spacingAndGlyphs">CYP1B1 − AS1</tspan><tspan textLength="58.49" lengthAdjust="spacingAndGlyphs"> (chr2:37368137)</tspan></text>
<line x1="550" y1="237.68" x2="552.4" y2="237.68" stroke="#333" stroke-width="0.6"/>
<text x="554.8" y="240.03" font-size="7.01" fill="#262626"><tspan font-style="italic" textLength="65.39" lengthAdjust="spacingAndGlyphs">ENSG00000287737</tspan><tspan textLength="62.74" lengthAdjust="spacingAndGlyphs"> (chr17:82126907)</tspan></text>
<line x1="550" y1="14.60" x2="552.4" y2="14.60" stroke="#333" stroke-width="0.6"/>
<text x="554.7" y="16.80" font-size="6.38" fill="#262626" textLength="46.60" lengthAdjust="spacingAndGlyphs">Infection Phase</text>
<line x1="550" y1="20.35" x2="552.4" y2="20.35" stroke="#333" stroke-width="0.6"/>
<text x="554.7" y="22.55" font-size="6.38" fill="#262626" textLength="45.55" lengthAdjust="spacingAndGlyphs">Severity Group</text>
<text x="303.6" y="253.7" font-size="10.22" fill="#262626" textLength="89.23" lengthAdjust="spacingAndGlyphs">COVID-19 Patients</text>
<text x="15.2" y="9.8" font-size="12.4" font-weight="bold" fill="#000" textLength="8.6" lengthAdjust="spacingAndGlyphs">A</text>
<text x="24.10" y="39.00" font-size="10.16" fill="#262626" text-anchor="start" textLength="74.20" lengthAdjust="spacingAndGlyphs">Infection Phase</text>
<rect x="29.0" y="48.3" width="17.6" height="6.2" fill="#f5bccb" stroke="#333" stroke-width="0.7"/>
<text x="53.50" y="54.60" font-size="8.93" fill="#262626" text-anchor="start" textLength="24.29" lengthAdjust="spacingAndGlyphs">Acute</text>
<rect x="29.0" y="61.1" width="17.6" height="6.2" fill="#b3e3e6" stroke="#333" stroke-width="0.7"/>
<text x="53.80" y="67.40" font-size="8.93" fill="#262626" text-anchor="start" textLength="39.42" lengthAdjust="spacingAndGlyphs">Recovery</text>
<text x="24.90" y="87.20" font-size="10.19" fill="#262626" text-anchor="start" textLength="72.68" lengthAdjust="spacingAndGlyphs">Severity Group</text>
<rect x="17.4" y="96.9" width="17.4" height="6.0" fill="#b52222" stroke="#333" stroke-width="0.7"/>
<text x="42.10" y="102.90" font-size="8.93" fill="#262626" text-anchor="start" textLength="62.22" lengthAdjust="spacingAndGlyphs">Severe-Critical</text>
<rect x="17.4" y="109.4" width="17.4" height="6.2" fill="#369b2c" stroke="#333" stroke-width="0.7"/>
<text x="42.10" y="115.60" font-size="8.93" fill="#262626" text-anchor="start" textLength="60.95" lengthAdjust="spacingAndGlyphs">Mild-Moderate</text>
<text x="15.60" y="135.80" font-size="10.19" fill="#262626" text-anchor="start" textLength="91.24" lengthAdjust="spacingAndGlyphs">Methylation Status</text>
<rect x="10.2" y="145.0" width="17.5" height="6.3" fill="#4281ba" stroke="#333" stroke-width="0.7"/>
<text x="35.00" y="151.20" font-size="8.93" fill="#262626" text-anchor="start" textLength="73.13" lengthAdjust="spacingAndGlyphs">Hypomethylation</text>
<rect x="10.2" y="157.7" width="17.5" height="6.2" fill="#da3030" stroke="#333" stroke-width="0.7"/>
<text x="35.00" y="163.90" font-size="8.93" fill="#262626" text-anchor="start" textLength="76.51" lengthAdjust="spacingAndGlyphs">Hypermethylation</text>
<text x="43.4" y="184.6" font-size="11.4" fill="#262626" textLength="36.4" lengthAdjust="spacingAndGlyphs"><tspan font-style="italic">β</tspan>-value</text>
<defs><linearGradient id="cb" x1="0" x2="1" y1="0" y2="0"><stop offset="0%" stop-color="#313695"/><stop offset="10%" stop-color="#4574b3"/><stop offset="20%" stop-color="#74add1"/><stop offset="30%" stop-color="#aad8e9"/><stop offset="40%" stop-color="#e0f3f8"/><stop offset="50%" stop-color="#fffebe"/><stop offset="60%" stop-color="#fee090"/><stop offset="70%" stop-color="#fdad60"/><stop offset="80%" stop-color="#f46d43"/><stop offset="90%" stop-color="#d62f27"/><stop offset="100%" stop-color="#a50026"/></linearGradient></defs>
<rect x="28.2" y="188.2" width="66.6" height="9.0" fill="url(#cb)" stroke="#333" stroke-width="0.5"/>
<text x="28.20" y="204.70" font-size="6.72" fill="#262626" text-anchor="middle" textLength="4.07" lengthAdjust="spacingAndGlyphs">0</text>
<text x="61.50" y="204.70" font-size="6.72" fill="#262626" text-anchor="middle" textLength="8.14" lengthAdjust="spacingAndGlyphs">50</text>
<text x="94.80" y="204.70" font-size="6.72" fill="#262626" text-anchor="middle" textLength="12.22" lengthAdjust="spacingAndGlyphs">100</text>
<text x="15.7" y="293.9" font-size="12.4" font-weight="bold" fill="#000" textLength="7.9" lengthAdjust="spacingAndGlyphs">B</text>
<text x="146.50" y="293.30" font-size="10.25" fill="#262626" text-anchor="middle" textLength="196.14" lengthAdjust="spacingAndGlyphs">DNA methylation dynamics of COVID-19</text>
<text x="146.10" y="302.90" font-size="10.25" fill="#262626" text-anchor="middle" textLength="157.34" lengthAdjust="spacingAndGlyphs">patients across infection phases</text>
<line x1="52.5" y1="480.3" x2="240.3" y2="480.3" stroke="#262626" stroke-width="0.8"/>
<line x1="52.5" y1="308.3" x2="52.5" y2="480.3" stroke="#262626" stroke-width="0.8"/>
<line x1="52.48" y1="480.3" x2="52.48" y2="483.8" stroke="#262626" stroke-width="0.8"/>
<text x="52.48" y="493.40" font-size="10.97" fill="#262626" text-anchor="middle" textLength="28.70" lengthAdjust="spacingAndGlyphs">−100</text>
<line x1="90.04" y1="480.3" x2="90.04" y2="483.8" stroke="#262626" stroke-width="0.8"/>
<text x="90.04" y="493.40" font-size="10.97" fill="#262626" text-anchor="middle" textLength="22.05" lengthAdjust="spacingAndGlyphs">−50</text>
<line x1="127.60" y1="480.3" x2="127.60" y2="483.8" stroke="#262626" stroke-width="0.8"/>
<text x="127.60" y="493.40" font-size="10.97" fill="#262626" text-anchor="middle" textLength="6.65" lengthAdjust="spacingAndGlyphs">0</text>
<line x1="165.16" y1="480.3" x2="165.16" y2="483.8" stroke="#262626" stroke-width="0.8"/>
<text x="165.16" y="493.40" font-size="10.97" fill="#262626" text-anchor="middle" textLength="13.30" lengthAdjust="spacingAndGlyphs">50</text>
<line x1="202.72" y1="480.3" x2="202.72" y2="483.8" stroke="#262626" stroke-width="0.8"/>
<text x="202.72" y="493.40" font-size="10.97" fill="#262626" text-anchor="middle" textLength="19.95" lengthAdjust="spacingAndGlyphs">100</text>
<line x1="240.28" y1="480.3" x2="240.28" y2="483.8" stroke="#262626" stroke-width="0.8"/>
<text x="240.28" y="493.40" font-size="10.97" fill="#262626" text-anchor="middle" textLength="19.95" lengthAdjust="spacingAndGlyphs">150</text>
<line x1="49.0" y1="308.30" x2="52.5" y2="308.30" stroke="#262626" stroke-width="0.8"/>
<text x="47.30" y="312.10" font-size="10.97" fill="#262626" text-anchor="end" textLength="13.30" lengthAdjust="spacingAndGlyphs">30</text>
<line x1="49.0" y1="342.70" x2="52.5" y2="342.70" stroke="#262626" stroke-width="0.8"/>
<text x="47.30" y="346.50" font-size="10.97" fill="#262626" text-anchor="end" textLength="13.30" lengthAdjust="spacingAndGlyphs">20</text>
<line x1="49.0" y1="377.10" x2="52.5" y2="377.10" stroke="#262626" stroke-width="0.8"/>
<text x="47.30" y="380.90" font-size="10.97" fill="#262626" text-anchor="end" textLength="13.30" lengthAdjust="spacingAndGlyphs">10</text>
<line x1="49.0" y1="411.50" x2="52.5" y2="411.50" stroke="#262626" stroke-width="0.8"/>
<text x="47.30" y="415.30" font-size="10.97" fill="#262626" text-anchor="end" textLength="6.65" lengthAdjust="spacingAndGlyphs">0</text>
<line x1="49.0" y1="445.90" x2="52.5" y2="445.90" stroke="#262626" stroke-width="0.8"/>
<text x="47.30" y="449.70" font-size="10.97" fill="#262626" text-anchor="end" textLength="22.05" lengthAdjust="spacingAndGlyphs">−10</text>
<line x1="49.0" y1="480.30" x2="52.5" y2="480.30" stroke="#262626" stroke-width="0.8"/>
<text x="47.30" y="484.10" font-size="10.97" fill="#262626" text-anchor="end" textLength="22.05" lengthAdjust="spacingAndGlyphs">−20</text>
<text x="146.30" y="505.80" font-size="10.22" fill="#262626" text-anchor="middle" textLength="109.36" lengthAdjust="spacingAndGlyphs">principal component 1</text>
<text x="146.30" y="516.60" font-size="10.22" fill="#262626" text-anchor="middle" textLength="37.10" lengthAdjust="spacingAndGlyphs">23.39%</text>
<text x="9.00" y="394.30" font-size="10.22" fill="#262626" text-anchor="middle" textLength="109.36" lengthAdjust="spacingAndGlyphs" transform="rotate(-90 9.00 394.30)">principal component 2</text>
<text x="19.80" y="394.30" font-size="10.22" fill="#262626" text-anchor="middle" textLength="30.91" lengthAdjust="spacingAndGlyphs" transform="rotate(-90 19.80 394.30)">0.93%</text>
<polygon points="128.53,412.94 131.33,415.74 128.53,418.54 125.73,415.74" fill="#a9a9a9" fill-opacity="0.5"/>
<polygon points="127.11,407.74 129.91,410.54 127.11,413.34 124.31,410.54" fill="#a9a9a9" fill-opacity="0.5"/>
<polygon points="117.42,411.97 120.22,414.77 117.42,417.57 114.62,414.77" fill="#a9a9a9" fill-opacity="0.5"/>
<polygon points="147.62,405.39 150.42,408.19 147.62,410.99 144.82,408.19" fill="#a9a9a9" fill-opacity="0.5"/>
<polygon points="146.17,404.70 148.97,407.50 146.17,410.30 143.37,407.50" fill="#a9a9a9" fill-opacity="0.5"/>
<polygon points="136.98,407.61 139.78,410.41 136.98,413.21 134.18,410.41" fill="#a9a9a9" fill-opacity="0.5"/>
<polygon points="109.42,422.27 112.22,425.07 109.42,427.87 106.62,425.07" fill="#a9a9a9" fill-opacity="0.5"/>
<polygon points="139.25,408.95 142.05,411.75 139.25,414.55 136.45,411.75" fill="#a9a9a9" fill-opacity="0.5"/>
<polygon points="103.28,406.53 106.08,409.33 103.28,412.13 100.48,409.33" fill="#a9a9a9" fill-opacity="0.5"/>
<polygon points="117.42,410.20 120.22,413.00 117.42,415.80 114.62,413.00" fill="#a9a9a9" fill-opacity="0.5"/>
<polygon points="135.20,406.65 138.00,409.45 135.20,412.25 132.40,409.45" fill="#a9a9a9" fill-opacity="0.5"/>
<polygon points="136.92,401.90 139.72,404.70 136.92,407.50 134.12,404.70" fill="#a9a9a9" fill-opacity="0.5"/>
<polygon points="136.23,409.32 139.03,412.12 136.23,414.92 133.43,412.12" fill="#a9a9a9" fill-opacity="0.5"/>
<polygon points="125.50,422.38 128.30,425.18 125.50,427.98 122.70,425.18" fill="#a9a9a9" fill-opacity="0.5"/>
<polygon points="141.51,412.96 144.31,415.76 141.51,418.56 138.71,415.76" fill="#a9a9a9" fill-opacity="0.5"/>
<polygon points="120.61,407.17 123.41,409.97 120.61,412.77 117.81,409.97" fill="#a9a9a9" fill-opacity="0.5"/>
<polygon points="125.91,409.62 128.71,412.42 125.91,415.22 123.11,412.42" fill="#a9a9a9" fill-opacity="0.5"/>
<polygon points="140.46,406.77 143.26,409.57 140.46,412.37 137.66,409.57" fill="#a9a9a9" fill-opacity="0.5"/>
<polygon points="122.57,404.95 125.37,407.75 122.57,410.55 119.77,407.75" fill="#a9a9a9" fill-opacity="0.5"/>
<polygon points="126.38,418.63 129.18,421.43 126.38,424.23 123.58,421.43" fill="#a9a9a9" fill-opacity="0.5"/>
<polygon points="120.16,414.14 122.96,416.94 120.16,419.74 117.36,416.94" fill="#a9a9a9" fill-opacity="0.5"/>
<polygon points="133.70,397.21 136.50,400.01 133.70,402.81 130.90,400.01" fill="#a9a9a9" fill-opacity="0.5"/>
<polygon points="134.59,416.23 137.39,419.03 134.59,421.83 131.79,419.03" fill="#a9a9a9" fill-opacity="0.5"/>
<polygon points="101.89,416.87 104.69,419.67 101.89,422.47 99.09,419.67" fill="#a9a9a9" fill-opacity="0.5"/>
<polygon points="127.69,404.05 130.49,406.85 127.69,409.65 124.89,406.85" fill="#a9a9a9" fill-opacity="0.5"/>
<polygon points="137.87,405.57 140.67,408.37 137.87,411.17 135.07,408.37" fill="#a9a9a9" fill-opacity="0.5"/>
<polygon points="112.20,421.07 115.00,423.87 112.20,426.67 109.40,423.87" fill="#a9a9a9" fill-opacity="0.5"/>
<polygon points="142.54,410.84 145.34,413.64 142.54,416.44 139.74,413.64" fill="#a9a9a9" fill-opacity="0.5"/>
<polygon points="152.11,403.32 154.91,406.12 152.11,408.92 149.31,406.12" fill="#a9a9a9" fill-opacity="0.5"/>
<polygon points="129.79,399.95 132.59,402.75 129.79,405.55 126.99,402.75" fill="#a9a9a9" fill-opacity="0.5"/>
<polygon points="138.31,401.61 141.11,404.41 138.31,407.21 135.51,404.41" fill="#a9a9a9" fill-opacity="0.5"/>
<polygon points="121.81,403.10 124.61,405.90 121.81,408.70 119.01,405.90" fill="#a9a9a9" fill-opacity="0.5"/>
<polygon points="116.18,410.22 118.98,413.02 116.18,415.82 113.38,413.02" fill="#a9a9a9" fill-opacity="0.5"/>
<polygon points="144.65,389.48 147.45,392.28 144.65,395.08 141.85,392.28" fill="#a9a9a9" fill-opacity="0.5"/>
<polygon points="110.99,417.44 113.79,420.24 110.99,423.04 108.19,420.24" fill="#a9a9a9" fill-opacity="0.5"/>
<polygon points="152.63,404.63 155.43,407.43 152.63,410.23 149.83,407.43" fill="#a9a9a9" fill-opacity="0.5"/>
<polygon points="98.62,402.87 101.42,405.67 98.62,408.47 95.82,405.67" fill="#a9a9a9" fill-opacity="0.5"/>
<polygon points="134.40,402.17 137.20,404.97 134.40,407.77 131.60,404.97" fill="#a9a9a9" fill-opacity="0.5"/>
<polygon points="117.39,420.21 120.19,423.01 117.39,425.81 114.59,423.01" fill="#a9a9a9" fill-opacity="0.5"/>
<polygon points="146.88,403.81 149.68,406.61 146.88,409.41 144.08,406.61" fill="#a9a9a9" fill-opacity="0.5"/>
<polygon points="135.43,409.89 138.23,412.69 135.43,415.49 132.63,412.69" fill="#a9a9a9" fill-opacity="0.5"/>
<polygon points="154.84,404.10 157.64,406.90 154.84,409.70 152.04,406.90" fill="#a9a9a9" fill-opacity="0.5"/>
<polygon points="139.53,409.18 142.33,411.98 139.53,414.78 136.73,411.98" fill="#a9a9a9" fill-opacity="0.5"/>
<polygon points="111.74,424.37 114.54,427.17 111.74,429.97 108.94,427.17" fill="#a9a9a9" fill-opacity="0.5"/>
<polygon points="145.64,406.83 148.44,409.63 145.64,412.43 142.84,409.63" fill="#a9a9a9" fill-opacity="0.5"/>
<polygon points="101.77,414.76 104.57,417.56 101.77,420.36 98.97,417.56" fill="#a9a9a9" fill-opacity="0.5"/>
<polygon points="138.85,393.12 141.65,395.92 138.85,398.72 136.05,395.92" fill="#a9a9a9" fill-opacity="0.5"/>
<polygon points="130.67,415.67 133.47,418.47 130.67,421.27 127.87,418.47" fill="#a9a9a9" fill-opacity="0.5"/>
<polygon points="116.10,425.06 118.90,427.86 116.10,430.66 113.30,427.86" fill="#a9a9a9" fill-opacity="0.5"/>
<polygon points="138.45,404.75 141.25,407.55 138.45,410.35 135.65,407.55" fill="#a9a9a9" fill-opacity="0.5"/>
<polygon points="137.02,410.80 139.82,413.60 137.02,416.40 134.22,413.60" fill="#a9a9a9" fill-opacity="0.5"/>
<polygon points="135.24,414.88 138.04,417.68 135.24,420.48 132.44,417.68" fill="#a9a9a9" fill-opacity="0.5"/>
<polygon points="120.75,409.36 123.55,412.16 120.75,414.96 117.95,412.16" fill="#a9a9a9" fill-opacity="0.5"/>
<polygon points="145.74,403.32 148.54,406.12 145.74,408.92 142.94,406.12" fill="#a9a9a9" fill-opacity="0.5"/>
<polygon points="120.69,418.80 123.49,421.60 120.69,424.40 117.89,421.60" fill="#a9a9a9" fill-opacity="0.5"/>
<polygon points="150.67,398.26 153.47,401.06 150.67,403.86 147.87,401.06" fill="#a9a9a9" fill-opacity="0.5"/>
<polygon points="111.25,414.76 114.05,417.56 111.25,420.36 108.45,417.56" fill="#a9a9a9" fill-opacity="0.5"/>
<polygon points="128.24,407.44 131.04,410.24 128.24,413.04 125.44,410.24" fill="#a9a9a9" fill-opacity="0.5"/>
<polygon points="148.52,395.02 151.32,397.82 148.52,400.62 145.72,397.82" fill="#a9a9a9" fill-opacity="0.5"/>
<polygon points="145.95,394.29 148.75,397.09 145.95,399.89 143.15,397.09" fill="#a9a9a9" fill-opacity="0.5"/>
<polygon points="219.80,382.50 222.60,385.30 219.80,388.10 217.00,385.30" fill="#a9a9a9" fill-opacity="0.5"/>
<polygon points="211.80,391.00 214.60,393.80 211.80,396.60 209.00,393.80" fill="#a9a9a9" fill-opacity="0.5"/>
<polygon points="160.40,384.20 163.20,387.00 160.40,389.80 157.60,387.00" fill="#a9a9a9" fill-opacity="0.5"/>
<polygon points="158.60,387.70 161.40,390.50 158.60,393.30 155.80,390.50" fill="#a9a9a9" fill-opacity="0.5"/>
<polygon points="155.70,388.30 158.50,391.10 155.70,393.90 152.90,391.10" fill="#a9a9a9" fill-opacity="0.5"/>
<polygon points="166.20,401.10 169.00,403.90 166.20,406.70 163.40,403.90" fill="#a9a9a9" fill-opacity="0.5"/>
<polygon points="170.90,400.60 173.70,403.40 170.90,406.20 168.10,403.40" fill="#a9a9a9" fill-opacity="0.5"/>
<polygon points="161.60,399.40 164.40,402.20 161.60,405.00 158.80,402.20" fill="#a9a9a9" fill-opacity="0.5"/>
<polygon points="119.90,389.20 122.70,392.00 119.90,394.80 117.10,392.00" fill="#a9a9a9" fill-opacity="0.5"/>
<polygon points="130.00,386.00 132.80,388.80 130.00,391.60 127.20,388.80" fill="#a9a9a9" fill-opacity="0.5"/>
<polygon points="130.60,388.30 133.40,391.10 130.60,393.90 127.80,391.10" fill="#a9a9a9" fill-opacity="0.5"/>
<polygon points="141.10,388.90 143.90,391.70 141.10,394.50 138.30,391.70" fill="#a9a9a9" fill-opacity="0.5"/>
<polygon points="144.60,388.90 147.40,391.70 144.60,394.50 141.80,391.70" fill="#a9a9a9" fill-opacity="0.5"/>
<polygon points="107.80,398.20 110.60,401.00 107.80,403.80 105.00,401.00" fill="#a9a9a9" fill-opacity="0.5"/>
<polygon points="102.00,402.90 104.80,405.70 102.00,408.50 99.20,405.70" fill="#a9a9a9" fill-opacity="0.5"/>
<polygon points="97.90,411.10 100.70,413.90 97.90,416.70 95.10,413.90" fill="#a9a9a9" fill-opacity="0.5"/>
<polygon points="117.26,415.93 120.06,418.73 117.26,421.53 114.46,418.73" fill="#4169e1" fill-opacity="0.45"/>
<polygon points="143.34,408.07 146.14,410.87 143.34,413.67 140.54,410.87" fill="#4169e1" fill-opacity="0.45"/>
<polygon points="131.24,407.33 134.04,410.13 131.24,412.93 128.44,410.13" fill="#4169e1" fill-opacity="0.45"/>
<polygon points="129.66,411.01 132.46,413.81 129.66,416.61 126.86,413.81" fill="#4169e1" fill-opacity="0.45"/>
<polygon points="124.59,410.72 127.39,413.52 124.59,416.32 121.79,413.52" fill="#4169e1" fill-opacity="0.45"/>
<polygon points="133.94,405.32 136.74,408.12 133.94,410.92 131.14,408.12" fill="#4169e1" fill-opacity="0.45"/>
<polygon points="137.80,407.98 140.60,410.78 137.80,413.58 135.00,410.78" fill="#4169e1" fill-opacity="0.45"/>
<polygon points="153.88,400.40 156.68,403.20 153.88,406.00 151.08,403.20" fill="#4169e1" fill-opacity="0.45"/>
<polygon points="119.73,407.81 122.53,410.61 119.73,413.41 116.93,410.61" fill="#4169e1" fill-opacity="0.45"/>
<polygon points="128.26,414.02 131.06,416.82 128.26,419.62 125.46,416.82" fill="#4169e1" fill-opacity="0.45"/>
<polygon points="122.70,412.18 125.50,414.98 122.70,417.78 119.90,414.98" fill="#4169e1" fill-opacity="0.45"/>
<polygon points="144.90,382.91 147.70,385.71 144.90,388.51 142.10,385.71" fill="#4169e1" fill-opacity="0.45"/>
<polygon points="111.87,415.11 114.67,417.91 111.87,420.71 109.07,417.91" fill="#4169e1" fill-opacity="0.45"/>
<polygon points="132.17,407.68 134.97,410.48 132.17,413.28 129.37,410.48" fill="#4169e1" fill-opacity="0.45"/>
<polygon points="122.06,414.35 124.86,417.15 122.06,419.95 119.26,417.15" fill="#4169e1" fill-opacity="0.45"/>
<polygon points="128.86,403.42 131.66,406.22 128.86,409.02 126.06,406.22" fill="#4169e1" fill-opacity="0.45"/>
<polygon points="159.55,398.55 162.35,401.35 159.55,404.15 156.75,401.35" fill="#4169e1" fill-opacity="0.45"/>
<polygon points="118.67,410.16 121.47,412.96 118.67,415.76 115.87,412.96" fill="#4169e1" fill-opacity="0.45"/>
<polygon points="123.14,408.80 125.94,411.60 123.14,414.40 120.34,411.60" fill="#4169e1" fill-opacity="0.45"/>
<polygon points="88.77,418.26 91.57,421.06 88.77,423.86 85.97,421.06" fill="#4169e1" fill-opacity="0.45"/>
<polygon points="137.06,395.79 139.86,398.59 137.06,401.39 134.26,398.59" fill="#4169e1" fill-opacity="0.45"/>
<polygon points="127.61,414.47 130.41,417.27 127.61,420.07 124.81,417.27" fill="#4169e1" fill-opacity="0.45"/>
<polygon points="141.17,413.40 143.97,416.20 141.17,419.00 138.37,416.20" fill="#4169e1" fill-opacity="0.45"/>
<polygon points="102.78,414.12 105.58,416.92 102.78,419.72 99.98,416.92" fill="#4169e1" fill-opacity="0.45"/>
<polygon points="123.19,413.71 125.99,416.51 123.19,419.31 120.39,416.51" fill="#4169e1" fill-opacity="0.45"/>
<polygon points="134.67,385.78 137.47,388.58 134.67,391.38 131.87,388.58" fill="#4169e1" fill-opacity="0.45"/>
<polygon points="137.49,393.63 140.29,396.43 137.49,399.23 134.69,396.43" fill="#4169e1" fill-opacity="0.45"/>
<polygon points="131.97,395.32 134.77,398.12 131.97,400.92 129.17,398.12" fill="#4169e1" fill-opacity="0.45"/>
<polygon points="131.40,414.82 134.20,417.62 131.40,420.42 128.60,417.62" fill="#4169e1" fill-opacity="0.45"/>
<polygon points="124.75,410.04 127.55,412.84 124.75,415.64 121.95,412.84" fill="#4169e1" fill-opacity="0.45"/>
<polygon points="137.26,405.13 140.06,407.93 137.26,410.73 134.46,407.93" fill="#4169e1" fill-opacity="0.45"/>
<polygon points="128.66,418.26 131.46,421.06 128.66,423.86 125.86,421.06" fill="#4169e1" fill-opacity="0.45"/>
<polygon points="139.61,401.14 142.41,403.94 139.61,406.74 136.81,403.94" fill="#4169e1" fill-opacity="0.45"/>
<polygon points="160.28,387.49 163.08,390.29 160.28,393.09 157.48,390.29" fill="#4169e1" fill-opacity="0.45"/>
<polygon points="137.89,401.97 140.69,404.77 137.89,407.57 135.09,404.77" fill="#4169e1" fill-opacity="0.45"/>
<polygon points="129.69,411.93 132.49,414.73 129.69,417.53 126.89,414.73" fill="#4169e1" fill-opacity="0.45"/>
<polygon points="130.74,411.07 133.54,413.87 130.74,416.67 127.94,413.87" fill="#4169e1" fill-opacity="0.45"/>
<polygon points="102.44,405.94 105.24,408.74 102.44,411.54 99.64,408.74" fill="#4169e1" fill-opacity="0.45"/>
<polygon points="132.28,399.00 135.08,401.80 132.28,404.60 129.48,401.80" fill="#4169e1" fill-opacity="0.45"/>
<polygon points="109.21,403.76 112.01,406.56 109.21,409.36 106.41,406.56" fill="#4169e1" fill-opacity="0.45"/>
<polygon points="144.92,406.68 147.72,409.48 144.92,412.28 142.12,409.48" fill="#4169e1" fill-opacity="0.45"/>
<polygon points="143.79,395.00 146.59,397.80 143.79,400.60 140.99,397.80" fill="#4169e1" fill-opacity="0.45"/>
<polygon points="123.68,400.86 126.48,403.66 123.68,406.46 120.88,403.66" fill="#4169e1" fill-opacity="0.45"/>
<polygon points="140.19,414.46 142.99,417.26 140.19,420.06 137.39,417.26" fill="#4169e1" fill-opacity="0.45"/>
<polygon points="118.02,422.32 120.82,425.12 118.02,427.92 115.22,425.12" fill="#4169e1" fill-opacity="0.45"/>
<polygon points="139.07,402.17 141.87,404.97 139.07,407.77 136.27,404.97" fill="#4169e1" fill-opacity="0.45"/>
<polygon points="103.23,426.60 106.03,429.40 103.23,432.20 100.43,429.40" fill="#4169e1" fill-opacity="0.45"/>
<polygon points="123.62,404.74 126.42,407.54 123.62,410.34 120.82,407.54" fill="#4169e1" fill-opacity="0.45"/>
<polygon points="132.58,408.76 135.38,411.56 132.58,414.36 129.78,411.56" fill="#4169e1" fill-opacity="0.45"/>
<polygon points="143.93,394.35 146.73,397.15 143.93,399.95 141.13,397.15" fill="#4169e1" fill-opacity="0.45"/>
<polygon points="144.90,412.02 147.70,414.82 144.90,417.62 142.10,414.82" fill="#4169e1" fill-opacity="0.45"/>
<polygon points="145.26,399.90 148.06,402.70 145.26,405.50 142.46,402.70" fill="#4169e1" fill-opacity="0.45"/>
<polygon points="118.72,418.17 121.52,420.97 118.72,423.77 115.92,420.97" fill="#4169e1" fill-opacity="0.45"/>
<polygon points="128.12,408.33 130.92,411.13 128.12,413.93 125.32,411.13" fill="#4169e1" fill-opacity="0.45"/>
<polygon points="144.70,399.51 147.50,402.31 144.70,405.11 141.90,402.31" fill="#4169e1" fill-opacity="0.45"/>
<polygon points="145.00,383.30 147.80,386.10 145.00,388.90 142.20,386.10" fill="#4169e1" fill-opacity="0.45"/>
<polygon points="152.20,385.10 155.00,387.90 152.20,390.70 149.40,387.90" fill="#4169e1" fill-opacity="0.45"/>
<polygon points="159.80,408.10 162.60,410.90 159.80,413.70 157.00,410.90" fill="#4169e1" fill-opacity="0.45"/>
<polygon points="99.70,430.90 102.50,433.70 99.70,436.50 96.90,433.70" fill="#4169e1" fill-opacity="0.45"/>
<polygon points="90.93,434.72 92.93,438.72 88.93,438.72" fill="#2e9a2e" fill-opacity="0.45"/>
<polygon points="101.84,440.95 103.84,444.95 99.84,444.95" fill="#2e9a2e" fill-opacity="0.45"/>
<polygon points="130.28,415.14 132.28,419.14 128.28,419.14" fill="#2e9a2e" fill-opacity="0.45"/>
<polygon points="130.20,428.45 132.20,432.45 128.20,432.45" fill="#2e9a2e" fill-opacity="0.45"/>
<polygon points="133.24,431.64 135.24,435.64 131.24,435.64" fill="#2e9a2e" fill-opacity="0.45"/>
<polygon points="130.11,430.40 132.11,434.40 128.11,434.40" fill="#2e9a2e" fill-opacity="0.45"/>
<polygon points="155.89,424.16 157.89,428.16 153.89,428.16" fill="#2e9a2e" fill-opacity="0.45"/>
<polygon points="120.20,433.34 122.20,437.34 118.20,437.34" fill="#2e9a2e" fill-opacity="0.45"/>
<polygon points="95.01,426.51 97.01,430.51 93.01,430.51" fill="#2e9a2e" fill-opacity="0.45"/>
<polygon points="101.03,443.62 103.03,447.62 99.03,447.62" fill="#2e9a2e" fill-opacity="0.45"/>
<polygon points="108.55,430.32 110.55,434.32 106.55,434.32" fill="#2e9a2e" fill-opacity="0.45"/>
<polygon points="124.45,423.09 126.45,427.09 122.45,427.09" fill="#2e9a2e" fill-opacity="0.45"/>
<polygon points="119.22,427.84 121.22,431.84 117.22,431.84" fill="#2e9a2e" fill-opacity="0.45"/>
<polygon points="155.14,410.10 157.14,414.10 153.14,414.10" fill="#2e9a2e" fill-opacity="0.45"/>
<polygon points="139.07,426.05 141.07,430.05 137.07,430.05" fill="#2e9a2e" fill-opacity="0.45"/>
<polygon points="120.16,413.69 122.16,417.69 118.16,417.69" fill="#2e9a2e" fill-opacity="0.45"/>
<polygon points="122.64,434.03 124.64,438.03 120.64,438.03" fill="#2e9a2e" fill-opacity="0.45"/>
<polygon points="100.19,428.66 102.19,432.66 98.19,432.66" fill="#2e9a2e" fill-opacity="0.45"/>
<polygon points="145.67,421.20 147.67,425.20 143.67,425.20" fill="#2e9a2e" fill-opacity="0.45"/>
<polygon points="130.37,428.13 132.37,432.13 128.37,432.13" fill="#2e9a2e" fill-opacity="0.45"/>
<polygon points="126.02,411.82 128.02,415.82 124.02,415.82" fill="#2e9a2e" fill-opacity="0.45"/>
<polygon points="101.31,427.78 103.31,431.78 99.31,431.78" fill="#2e9a2e" fill-opacity="0.45"/>
<polygon points="98.40,453.30 100.40,457.30 96.40,457.30" fill="#2e9a2e" fill-opacity="0.45"/>
<polygon points="160.10,427.70 162.10,431.70 158.10,431.70" fill="#2e9a2e" fill-opacity="0.45"/>
<polygon points="92.50,434.30 94.50,438.30 90.50,438.30" fill="#2e9a2e" fill-opacity="0.45"/>
<polygon points="104.30,430.30 106.30,434.30 102.30,434.30" fill="#2e9a2e" fill-opacity="0.45"/>
<polygon points="119.40,432.30 121.40,436.30 117.40,436.30" fill="#2e9a2e" fill-opacity="0.45"/>
<polygon points="139.80,433.60 141.80,437.60 137.80,437.60" fill="#2e9a2e" fill-opacity="0.45"/>
<polygon points="125.30,435.60 127.30,439.60 123.30,439.60" fill="#2e9a2e" fill-opacity="0.45"/>
<polygon points="157.50,439.50 159.50,443.50 155.50,443.50" fill="#2e9a2e" fill-opacity="0.45"/>
<polygon points="160.10,415.90 162.10,419.90 158.10,419.90" fill="#2e9a2e" fill-opacity="0.45"/>
<circle cx="132.38" cy="418.96" r="2.1" fill="#2e9a2e" fill-opacity="0.45"/>
<circle cx="107.49" cy="427.51" r="2.1" fill="#2e9a2e" fill-opacity="0.45"/>
<circle cx="100.75" cy="435.02" r="2.1" fill="#2e9a2e" fill-opacity="0.45"/>
<circle cx="106.68" cy="436.16" r="2.1" fill="#2e9a2e" fill-opacity="0.45"/>
<circle cx="90.82" cy="442.30" r="2.1" fill="#2e9a2e" fill-opacity="0.45"/>
<circle cx="107.99" cy="418.72" r="2.1" fill="#2e9a2e" fill-opacity="0.45"/>
<circle cx="130.47" cy="421.85" r="2.1" fill="#2e9a2e" fill-opacity="0.45"/>
<circle cx="89.50" cy="434.01" r="2.1" fill="#2e9a2e" fill-opacity="0.45"/>
<circle cx="124.22" cy="423.04" r="2.1" fill="#2e9a2e" fill-opacity="0.45"/>
<circle cx="133.82" cy="428.01" r="2.1" fill="#2e9a2e" fill-opacity="0.45"/>
<circle cx="131.23" cy="425.97" r="2.1" fill="#2e9a2e" fill-opacity="0.45"/>
<circle cx="140.99" cy="424.47" r="2.1" fill="#2e9a2e" fill-opacity="0.45"/>
<circle cx="122.22" cy="411.93" r="2.1" fill="#2e9a2e" fill-opacity="0.45"/>
<circle cx="136.81" cy="430.92" r="2.1" fill="#2e9a2e" fill-opacity="0.45"/>
<circle cx="116.34" cy="426.14" r="2.1" fill="#2e9a2e" fill-opacity="0.45"/>
<circle cx="142.93" cy="405.95" r="2.1" fill="#2e9a2e" fill-opacity="0.45"/>
<circle cx="133.93" cy="440.25" r="2.1" fill="#2e9a2e" fill-opacity="0.45"/>
<circle cx="110.87" cy="436.85" r="2.1" fill="#2e9a2e" fill-opacity="0.45"/>
<circle cx="146.38" cy="416.57" r="2.1" fill="#2e9a2e" fill-opacity="0.45"/>
<circle cx="131.29" cy="430.16" r="2.1" fill="#2e9a2e" fill-opacity="0.45"/>
<circle cx="109.18" cy="431.82" r="2.1" fill="#2e9a2e" fill-opacity="0.45"/>
<circle cx="127.51" cy="431.12" r="2.1" fill="#2e9a2e" fill-opacity="0.45"/>
<circle cx="97.70" cy="425.80" r="2.1" fill="#2e9a2e" fill-opacity="0.45"/>
<circle cx="99.70" cy="431.00" r="2.1" fill="#2e9a2e" fill-opacity="0.45"/>
<circle cx="97.10" cy="437.60" r="2.1" fill="#2e9a2e" fill-opacity="0.45"/>
<circle cx="83.90" cy="440.50" r="2.1" fill="#2e9a2e" fill-opacity="0.45"/>
<circle cx="105.60" cy="439.60" r="2.1" fill="#2e9a2e" fill-opacity="0.45"/>
<circle cx="112.60" cy="440.50" r="2.1" fill="#2e9a2e" fill-opacity="0.45"/>
<circle cx="124.70" cy="441.30" r="2.1" fill="#2e9a2e" fill-opacity="0.45"/>
<circle cx="127.30" cy="434.30" r="2.1" fill="#2e9a2e" fill-opacity="0.45"/>
<circle cx="134.90" cy="431.30" r="2.1" fill="#2e9a2e" fill-opacity="0.45"/>
<circle cx="147.70" cy="427.30" r="2.1" fill="#2e9a2e" fill-opacity="0.45"/>
<circle cx="158.80" cy="438.20" r="2.1" fill="#2e9a2e" fill-opacity="0.45"/>
<circle cx="114.80" cy="461.20" r="2.1" fill="#2e9a2e" fill-opacity="0.45"/>
<circle cx="125.70" cy="448.10" r="2.1" fill="#2e9a2e" fill-opacity="0.45"/>
<circle cx="108.20" cy="418.50" r="2.1" fill="#2e9a2e" fill-opacity="0.45"/>
<circle cx="114.20" cy="418.50" r="2.1" fill="#2e9a2e" fill-opacity="0.45"/>
<circle cx="65.60" cy="314.10" r="2.1" fill="#b22222" fill-opacity="0.5"/>
<circle cx="77.80" cy="353.90" r="2.1" fill="#b22222" fill-opacity="0.5"/>
<circle cx="77.60" cy="364.10" r="2.1" fill="#b22222" fill-opacity="0.5"/>
<circle cx="85.50" cy="356.60" r="2.1" fill="#b22222" fill-opacity="0.5"/>
<circle cx="87.80" cy="357.20" r="2.1" fill="#b22222" fill-opacity="0.5"/>
<circle cx="93.60" cy="360.00" r="2.1" fill="#b22222" fill-opacity="0.5"/>
<circle cx="96.50" cy="361.60" r="2.1" fill="#b22222" fill-opacity="0.5"/>
<circle cx="114.30" cy="351.00" r="2.1" fill="#b22222" fill-opacity="0.5"/>
<polygon points="97.50,320.40 99.50,324.40 95.50,324.40" fill="#b22222" fill-opacity="0.5"/>
<polygon points="102.30,319.40 104.30,323.40 100.30,323.40" fill="#b22222" fill-opacity="0.5"/>
<polygon points="128.00,334.90 130.00,338.90 126.00,338.90" fill="#b22222" fill-opacity="0.5"/>
<polygon points="110.40,358.60 112.40,362.60 108.40,362.60" fill="#b22222" fill-opacity="0.5"/>
<polygon points="110.60,368.30 112.60,372.30 108.60,372.30" fill="#b22222" fill-opacity="0.5"/>
<polygon points="140.00,365.80 142.00,369.80 138.00,369.80" fill="#b22222" fill-opacity="0.5"/>
<polygon points="131.70,374.50 133.70,378.50 129.70,378.50" fill="#b22222" fill-opacity="0.5"/>
<polygon points="79.10,372.90 81.10,376.90 77.10,376.90" fill="#b22222" fill-opacity="0.5"/>
<polygon points="181.50,377.40 183.50,381.40 179.50,381.40" fill="#b22222" fill-opacity="0.5"/>
<polygon points="116.00,360.00 118.00,364.00 114.00,364.00" fill="#b22222" fill-opacity="0.5"/>
<ellipse cx="89.00" cy="348.70" rx="36.80" ry="28.70" transform="rotate(70.40 89.00 348.70)" fill="none" stroke="#b22222" stroke-width="1.45"/>
<ellipse cx="122.00" cy="361.00" rx="60.30" ry="36.00" transform="rotate(17.30 122.00 361.00)" fill="none" stroke="#b22222" stroke-width="1.45"/>
<ellipse cx="129.80" cy="412.00" rx="31.50" ry="14.20" transform="rotate(-17.00 129.80 412.00)" fill="none" stroke="#b4b4b4" stroke-width="1.45"/>
<ellipse cx="126.30" cy="410.90" rx="28.40" ry="13.50" transform="rotate(-20.00 126.30 410.90)" fill="none" stroke="#4169e1" stroke-width="1.45"/>
<ellipse cx="121.50" cy="427.50" rx="36.00" ry="17.50" transform="rotate(-22.00 121.50 427.50)" fill="none" stroke="#2e9a2e" stroke-width="1.45"/>
<ellipse cx="126.00" cy="425.00" rx="42.10" ry="21.20" transform="rotate(-24.00 126.00 425.00)" fill="none" stroke="#2e9a2e" stroke-width="1.45"/>
<polygon points="131.00,405.30 137.00,411.30 131.00,417.30 125.00,411.30" fill="#a9a9a9" fill-opacity="1" stroke="#000" stroke-width="0.8"/>
<polygon points="126.80,404.20 132.80,410.20 126.80,416.20 120.80,410.20" fill="#4169e1" fill-opacity="1" stroke="#000" stroke-width="0.8"/>
<circle cx="89.20" cy="349.10" r="4.2" fill="#b22222" fill-opacity="1" stroke="#000" stroke-width="0.8"/>
<polygon points="121.90,356.70 126.20,365.30 117.60,365.30" fill="#b22222" fill-opacity="1" stroke="#000" stroke-width="0.8"/>
<line x1="89.20" y1="349.10" x2="114.42" y2="358.40" stroke="#000" stroke-width="1.7"/>
<polygon points="119.30,360.20 113.42,361.12 115.42,355.68" fill="#000"/>
<circle cx="121.10" cy="427.70" r="4.2" fill="#2e9a2e" fill-opacity="1" stroke="#000" stroke-width="0.8"/>
<polygon points="127.70,419.70 132.00,428.30 123.40,428.30" fill="#2e9a2e" fill-opacity="1" stroke="#000" stroke-width="0.8"/>
<line x1="121.10" y1="427.70" x2="121.89" y2="427.20" stroke="#000" stroke-width="1.4"/>
<polygon points="124.60,425.50 122.96,428.90 120.83,425.51" fill="#000"/>
<text x="293.9" y="294.2" font-size="12.4" font-weight="bold" fill="#000" textLength="8.1" lengthAdjust="spacingAndGlyphs">C</text>
<text x="417.40" y="293.30" font-size="10.25" fill="#262626" text-anchor="middle" textLength="194.37" lengthAdjust="spacingAndGlyphs">Gene expression dynamics of COVID-19</text>
<text x="417.50" y="302.90" font-size="10.25" fill="#262626" text-anchor="middle" textLength="157.34" lengthAdjust="spacingAndGlyphs">patients across infection phases</text>
<line x1="329.5" y1="480.3" x2="506.5" y2="480.3" stroke="#262626" stroke-width="0.8"/>
<line x1="329.5" y1="308.2" x2="329.5" y2="480.3" stroke="#262626" stroke-width="0.8"/>
<line x1="329.50" y1="480.3" x2="329.50" y2="483.8" stroke="#262626" stroke-width="0.8"/>
<text x="329.50" y="493.40" font-size="10.97" fill="#262626" text-anchor="middle" textLength="13.30" lengthAdjust="spacingAndGlyphs">20</text>
<line x1="388.50" y1="480.3" x2="388.50" y2="483.8" stroke="#262626" stroke-width="0.8"/>
<text x="388.50" y="493.40" font-size="10.97" fill="#262626" text-anchor="middle" textLength="13.30" lengthAdjust="spacingAndGlyphs">10</text>
<line x1="447.50" y1="480.3" x2="447.50" y2="483.8" stroke="#262626" stroke-width="0.8"/>
<text x="447.50" y="493.40" font-size="10.97" fill="#262626" text-anchor="middle" textLength="6.65" lengthAdjust="spacingAndGlyphs">0</text>
<line x1="506.50" y1="480.3" x2="506.50" y2="483.8" stroke="#262626" stroke-width="0.8"/>
<text x="506.50" y="493.40" font-size="10.97" fill="#262626" text-anchor="middle" textLength="22.05" lengthAdjust="spacingAndGlyphs">−10</text>
<line x1="326.0" y1="308.16" x2="329.5" y2="308.16" stroke="#262626" stroke-width="0.8"/>
<text x="324.30" y="311.96" font-size="10.97" fill="#262626" text-anchor="end" textLength="6.65" lengthAdjust="spacingAndGlyphs">8</text>
<line x1="326.0" y1="336.82" x2="329.5" y2="336.82" stroke="#262626" stroke-width="0.8"/>
<text x="324.30" y="340.62" font-size="10.97" fill="#262626" text-anchor="end" textLength="6.65" lengthAdjust="spacingAndGlyphs">6</text>
<line x1="326.0" y1="365.48" x2="329.5" y2="365.48" stroke="#262626" stroke-width="0.8"/>
<text x="324.30" y="369.28" font-size="10.97" fill="#262626" text-anchor="end" textLength="6.65" lengthAdjust="spacingAndGlyphs">4</text>
<line x1="326.0" y1="394.14" x2="329.5" y2="394.14" stroke="#262626" stroke-width="0.8"/>
<text x="324.30" y="397.94" font-size="10.97" fill="#262626" text-anchor="end" textLength="6.65" lengthAdjust="spacingAndGlyphs">2</text>
<line x1="326.0" y1="422.80" x2="329.5" y2="422.80" stroke="#262626" stroke-width="0.8"/>
<text x="324.30" y="426.60" font-size="10.97" fill="#262626" text-anchor="end" textLength="6.65" lengthAdjust="spacingAndGlyphs">0</text>
<line x1="326.0" y1="451.46" x2="329.5" y2="451.46" stroke="#262626" stroke-width="0.8"/>
<text x="324.30" y="455.26" font-size="10.97" fill="#262626" text-anchor="end" textLength="15.41" lengthAdjust="spacingAndGlyphs">−2</text>
<line x1="326.0" y1="480.12" x2="329.5" y2="480.12" stroke="#262626" stroke-width="0.8"/>
<text x="324.30" y="483.92" font-size="10.97" fill="#262626" text-anchor="end" textLength="15.41" lengthAdjust="spacingAndGlyphs">−4</text>
<text x="418.00" y="505.80" font-size="10.22" fill="#262626" text-anchor="middle" textLength="109.36" lengthAdjust="spacingAndGlyphs">principal component 1</text>
<text x="418.00" y="516.60" font-size="10.22" fill="#262626" text-anchor="middle" textLength="37.10" lengthAdjust="spacingAndGlyphs">52.18%</text>
<text x="292.60" y="394.30" font-size="10.22" fill="#262626" text-anchor="middle" textLength="109.36" lengthAdjust="spacingAndGlyphs" transform="rotate(-90 292.60 394.30)">principal component 2</text>
<text x="303.40" y="394.30" font-size="10.22" fill="#262626" text-anchor="middle" textLength="37.10" lengthAdjust="spacingAndGlyphs" transform="rotate(-90 303.40 394.30)">11.39%</text>
<polygon points="459.59,406.93 462.39,409.73 459.59,412.53 456.79,409.73" fill="#a9a9a9" fill-opacity="0.5"/>
<polygon points="448.65,419.44 451.45,422.24 448.65,425.04 445.85,422.24" fill="#a9a9a9" fill-opacity="0.5"/>
<polygon points="470.61,395.66 473.41,398.46 470.61,401.26 467.81,398.46" fill="#a9a9a9" fill-opacity="0.5"/>
<polygon points="447.99,415.44 450.79,418.24 447.99,421.04 445.19,418.24" fill="#a9a9a9" fill-opacity="0.5"/>
<polygon points="494.01,375.83 496.81,378.63 494.01,381.43 491.21,378.63" fill="#a9a9a9" fill-opacity="0.5"/>
<polygon points="454.87,388.93 457.67,391.73 454.87,394.53 452.07,391.73" fill="#a9a9a9" fill-opacity="0.5"/>
<polygon points="469.66,400.70 472.46,403.50 469.66,406.30 466.86,403.50" fill="#a9a9a9" fill-opacity="0.5"/>
<polygon points="480.39,386.29 483.19,389.09 480.39,391.89 477.59,389.09" fill="#a9a9a9" fill-opacity="0.5"/>
<polygon points="462.74,410.07 465.54,412.87 462.74,415.67 459.94,412.87" fill="#a9a9a9" fill-opacity="0.5"/>
<polygon points="445.83,437.08 448.63,439.88 445.83,442.68 443.03,439.88" fill="#a9a9a9" fill-opacity="0.5"/>
<polygon points="460.84,400.22 463.64,403.02 460.84,405.82 458.04,403.02" fill="#a9a9a9" fill-opacity="0.5"/>
<polygon points="483.40,396.28 486.20,399.08 483.40,401.88 480.60,399.08" fill="#a9a9a9" fill-opacity="0.5"/>
<polygon points="443.16,423.45 445.96,426.25 443.16,429.05 440.36,426.25" fill="#a9a9a9" fill-opacity="0.5"/>
<polygon points="464.80,404.00 467.60,406.80 464.80,409.60 462.00,406.80" fill="#a9a9a9" fill-opacity="0.5"/>
<polygon points="452.04,408.86 454.84,411.66 452.04,414.46 449.24,411.66" fill="#a9a9a9" fill-opacity="0.5"/>
<polygon points="487.86,382.75 490.66,385.55 487.86,388.35 485.06,385.55" fill="#a9a9a9" fill-opacity="0.5"/>
<polygon points="442.01,418.11 444.81,420.91 442.01,423.71 439.21,420.91" fill="#a9a9a9" fill-opacity="0.5"/>
<polygon points="483.31,388.15 486.11,390.95 483.31,393.75 480.51,390.95" fill="#a9a9a9" fill-opacity="0.5"/>
<polygon points="483.66,385.90 486.46,388.70 483.66,391.50 480.86,388.70" fill="#a9a9a9" fill-opacity="0.5"/>
<polygon points="453.16,419.84 455.96,422.64 453.16,425.44 450.36,422.64" fill="#a9a9a9" fill-opacity="0.5"/>
<polygon points="434.94,433.27 437.74,436.07 434.94,438.87 432.14,436.07" fill="#a9a9a9" fill-opacity="0.5"/>
<polygon points="462.83,409.95 465.63,412.75 462.83,415.55 460.03,412.75" fill="#a9a9a9" fill-opacity="0.5"/>
<polygon points="452.78,416.46 455.58,419.26 452.78,422.06 449.98,419.26" fill="#a9a9a9" fill-opacity="0.5"/>
<polygon points="467.47,402.49 470.27,405.29 467.47,408.09 464.67,405.29" fill="#a9a9a9" fill-opacity="0.5"/>
<polygon points="468.51,399.45 471.31,402.25 468.51,405.05 465.71,402.25" fill="#a9a9a9" fill-opacity="0.5"/>
<polygon points="461.39,414.50 464.19,417.30 461.39,420.10 458.59,417.30" fill="#a9a9a9" fill-opacity="0.5"/>
<polygon points="457.39,403.43 460.19,406.23 457.39,409.03 454.59,406.23" fill="#a9a9a9" fill-opacity="0.5"/>
<polygon points="454.43,415.57 457.23,418.37 454.43,421.17 451.63,418.37" fill="#a9a9a9" fill-opacity="0.5"/>
<polygon points="460.53,409.26 463.33,412.06 460.53,414.86 457.73,412.06" fill="#a9a9a9" fill-opacity="0.5"/>
<polygon points="461.75,407.87 464.55,410.67 461.75,413.47 458.95,410.67" fill="#a9a9a9" fill-opacity="0.5"/>
<polygon points="474.20,385.70 477.00,388.50 474.20,391.30 471.40,388.50" fill="#a9a9a9" fill-opacity="0.5"/>
<polygon points="470.50,392.80 473.30,395.60 470.50,398.40 467.70,395.60" fill="#a9a9a9" fill-opacity="0.5"/>
<polygon points="480.40,398.10 483.20,400.90 480.40,403.70 477.60,400.90" fill="#a9a9a9" fill-opacity="0.5"/>
<polygon points="453.50,390.70 456.30,393.50 453.50,396.30 450.70,393.50" fill="#a9a9a9" fill-opacity="0.5"/>
<polygon points="443.43,417.92 446.23,420.72 443.43,423.52 440.63,420.72" fill="#4169e1" fill-opacity="0.45"/>
<polygon points="452.32,440.70 455.12,443.50 452.32,446.30 449.52,443.50" fill="#4169e1" fill-opacity="0.45"/>
<polygon points="451.38,428.12 454.18,430.92 451.38,433.72 448.58,430.92" fill="#4169e1" fill-opacity="0.45"/>
<polygon points="450.84,420.25 453.64,423.05 450.84,425.85 448.04,423.05" fill="#4169e1" fill-opacity="0.45"/>
<polygon points="422.92,433.14 425.72,435.94 422.92,438.74 420.12,435.94" fill="#4169e1" fill-opacity="0.45"/>
<polygon points="435.41,438.98 438.21,441.78 435.41,444.58 432.61,441.78" fill="#4169e1" fill-opacity="0.45"/>
<polygon points="430.54,405.09 433.34,407.89 430.54,410.69 427.74,407.89" fill="#4169e1" fill-opacity="0.45"/>
<polygon points="434.81,447.58 437.61,450.38 434.81,453.18 432.01,450.38" fill="#4169e1" fill-opacity="0.45"/>
<polygon points="440.29,417.06 443.09,419.86 440.29,422.66 437.49,419.86" fill="#4169e1" fill-opacity="0.45"/>
<polygon points="437.27,436.59 440.07,439.39 437.27,442.19 434.47,439.39" fill="#4169e1" fill-opacity="0.45"/>
<polygon points="452.47,431.75 455.27,434.55 452.47,437.35 449.67,434.55" fill="#4169e1" fill-opacity="0.45"/>
<polygon points="465.08,436.05 467.88,438.85 465.08,441.65 462.28,438.85" fill="#4169e1" fill-opacity="0.45"/>
<polygon points="446.47,436.56 449.27,439.36 446.47,442.16 443.67,439.36" fill="#4169e1" fill-opacity="0.45"/>
<polygon points="467.42,438.54 470.22,441.34 467.42,444.14 464.62,441.34" fill="#4169e1" fill-opacity="0.45"/>
<polygon points="457.84,418.45 460.64,421.25 457.84,424.05 455.04,421.25" fill="#4169e1" fill-opacity="0.45"/>
<polygon points="445.02,438.04 447.82,440.84 445.02,443.64 442.22,440.84" fill="#4169e1" fill-opacity="0.45"/>
<polygon points="443.50,441.63 446.30,444.43 443.50,447.23 440.70,444.43" fill="#4169e1" fill-opacity="0.45"/>
<polygon points="454.34,439.04 457.14,441.84 454.34,444.64 451.54,441.84" fill="#4169e1" fill-opacity="0.45"/>
<polygon points="445.84,456.48 448.64,459.28 445.84,462.08 443.04,459.28" fill="#4169e1" fill-opacity="0.45"/>
<polygon points="461.27,426.99 464.07,429.79 461.27,432.59 458.47,429.79" fill="#4169e1" fill-opacity="0.45"/>
<polygon points="449.61,456.64 452.41,459.44 449.61,462.24 446.81,459.44" fill="#4169e1" fill-opacity="0.45"/>
<polygon points="442.75,439.71 445.55,442.51 442.75,445.31 439.95,442.51" fill="#4169e1" fill-opacity="0.45"/>
<polygon points="458.27,429.51 461.07,432.31 458.27,435.11 455.47,432.31" fill="#4169e1" fill-opacity="0.45"/>
<polygon points="432.01,433.65 434.81,436.45 432.01,439.25 429.21,436.45" fill="#4169e1" fill-opacity="0.45"/>
<polygon points="451.62,441.54 454.42,444.34 451.62,447.14 448.82,444.34" fill="#4169e1" fill-opacity="0.45"/>
<polygon points="455.85,429.90 458.65,432.70 455.85,435.50 453.05,432.70" fill="#4169e1" fill-opacity="0.45"/>
<polygon points="457.18,435.04 459.98,437.84 457.18,440.64 454.38,437.84" fill="#4169e1" fill-opacity="0.45"/>
<polygon points="448.78,430.84 451.58,433.64 448.78,436.44 445.98,433.64" fill="#4169e1" fill-opacity="0.45"/>
<polygon points="443.81,437.70 446.61,440.50 443.81,443.30 441.01,440.50" fill="#4169e1" fill-opacity="0.45"/>
<polygon points="432.67,425.28 435.47,428.08 432.67,430.88 429.87,428.08" fill="#4169e1" fill-opacity="0.45"/>
<polygon points="444.97,415.69 447.77,418.49 444.97,421.29 442.17,418.49" fill="#4169e1" fill-opacity="0.45"/>
<polygon points="439.06,410.66 441.86,413.46 439.06,416.26 436.26,413.46" fill="#4169e1" fill-opacity="0.45"/>
<polygon points="438.30,436.98 441.10,439.78 438.30,442.58 435.50,439.78" fill="#4169e1" fill-opacity="0.45"/>
<polygon points="453.12,429.34 455.92,432.14 453.12,434.94 450.32,432.14" fill="#4169e1" fill-opacity="0.45"/>
<polygon points="442.09,416.42 444.89,419.22 442.09,422.02 439.29,419.22" fill="#4169e1" fill-opacity="0.45"/>
<polygon points="469.14,433.75 471.94,436.55 469.14,439.35 466.34,436.55" fill="#4169e1" fill-opacity="0.45"/>
<polygon points="458.87,420.40 461.67,423.20 458.87,426.00 456.07,423.20" fill="#4169e1" fill-opacity="0.45"/>
<polygon points="442.31,412.30 445.11,415.10 442.31,417.90 439.51,415.10" fill="#4169e1" fill-opacity="0.45"/>
<polygon points="456.63,439.12 459.43,441.92 456.63,444.72 453.83,441.92" fill="#4169e1" fill-opacity="0.45"/>
<polygon points="422.81,432.02 425.61,434.82 422.81,437.62 420.01,434.82" fill="#4169e1" fill-opacity="0.45"/>
<polygon points="452.40,412.00 455.20,414.80 452.40,417.60 449.60,414.80" fill="#4169e1" fill-opacity="0.45"/>
<polygon points="422.80,421.70 425.60,424.50 422.80,427.30 420.00,424.50" fill="#4169e1" fill-opacity="0.45"/>
<polygon points="437.22,416.99 440.02,419.79 437.22,422.59 434.42,419.79" fill="#4169e1" fill-opacity="0.45"/>
<polygon points="446.81,432.99 449.61,435.79 446.81,438.59 444.01,435.79" fill="#4169e1" fill-opacity="0.45"/>
<polygon points="454.62,436.92 457.42,439.72 454.62,442.52 451.82,439.72" fill="#4169e1" fill-opacity="0.45"/>
<polygon points="465.72,440.66 468.52,443.46 465.72,446.26 462.92,443.46" fill="#4169e1" fill-opacity="0.45"/>
<polygon points="429.61,426.80 432.41,429.60 429.61,432.40 426.81,429.60" fill="#4169e1" fill-opacity="0.45"/>
<polygon points="432.20,420.76 435.00,423.56 432.20,426.36 429.40,423.56" fill="#4169e1" fill-opacity="0.45"/>
<polygon points="445.20,430.64 448.00,433.44 445.20,436.24 442.40,433.44" fill="#4169e1" fill-opacity="0.45"/>
<polygon points="450.83,413.93 453.63,416.73 450.83,419.53 448.03,416.73" fill="#4169e1" fill-opacity="0.45"/>
<polygon points="430.95,431.60 433.75,434.40 430.95,437.20 428.15,434.40" fill="#4169e1" fill-opacity="0.45"/>
<polygon points="443.47,427.57 446.27,430.37 443.47,433.17 440.67,430.37" fill="#4169e1" fill-opacity="0.45"/>
<polygon points="444.75,422.89 447.55,425.69 444.75,428.49 441.95,425.69" fill="#4169e1" fill-opacity="0.45"/>
<polygon points="455.14,433.33 457.94,436.13 455.14,438.93 452.34,436.13" fill="#4169e1" fill-opacity="0.45"/>
<polygon points="444.53,423.80 447.33,426.60 444.53,429.40 441.73,426.60" fill="#4169e1" fill-opacity="0.45"/>
<polygon points="441.65,403.17 444.45,405.97 441.65,408.77 438.85,405.97" fill="#4169e1" fill-opacity="0.45"/>
<polygon points="434.16,431.93 436.96,434.73 434.16,437.53 431.36,434.73" fill="#4169e1" fill-opacity="0.45"/>
<polygon points="427.87,434.14 430.67,436.94 427.87,439.74 425.07,436.94" fill="#4169e1" fill-opacity="0.45"/>
<polygon points="446.80,416.41 449.60,419.21 446.80,422.01 444.00,419.21" fill="#4169e1" fill-opacity="0.45"/>
<polygon points="442.84,427.60 445.64,430.40 442.84,433.20 440.04,430.40" fill="#4169e1" fill-opacity="0.45"/>
<polygon points="452.40,436.19 455.20,438.99 452.40,441.79 449.60,438.99" fill="#4169e1" fill-opacity="0.45"/>
<polygon points="445.00,421.93 447.80,424.73 445.00,427.53 442.20,424.73" fill="#4169e1" fill-opacity="0.45"/>
<polygon points="444.37,429.99 447.17,432.79 444.37,435.59 441.57,432.79" fill="#4169e1" fill-opacity="0.45"/>
<polygon points="455.50,432.69 458.30,435.49 455.50,438.29 452.70,435.49" fill="#4169e1" fill-opacity="0.45"/>
<polygon points="436.11,417.58 438.91,420.38 436.11,423.18 433.31,420.38" fill="#4169e1" fill-opacity="0.45"/>
<polygon points="414.70,445.00 417.50,447.80 414.70,450.60 411.90,447.80" fill="#4169e1" fill-opacity="0.45"/>
<polygon points="480.20,424.20 483.00,427.00 480.20,429.80 477.40,427.00" fill="#4169e1" fill-opacity="0.45"/>
<polygon points="477.90,415.70 480.70,418.50 477.90,421.30 475.10,418.50" fill="#4169e1" fill-opacity="0.45"/>
<polygon points="427.00,451.20 429.80,454.00 427.00,456.80 424.20,454.00" fill="#4169e1" fill-opacity="0.45"/>
<polygon points="441.70,452.80 444.50,455.60 441.70,458.40 438.90,455.60" fill="#4169e1" fill-opacity="0.45"/>
<polygon points="437.68,428.56 439.68,432.56 435.68,432.56" fill="#2e9a2e" fill-opacity="0.45"/>
<polygon points="439.48,441.47 441.48,445.47 437.48,445.47" fill="#2e9a2e" fill-opacity="0.45"/>
<polygon points="444.84,433.14 446.84,437.14 442.84,437.14" fill="#2e9a2e" fill-opacity="0.45"/>
<polygon points="445.50,416.56 447.50,420.56 443.50,420.56" fill="#2e9a2e" fill-opacity="0.45"/>
<polygon points="455.98,390.53 457.98,394.53 453.98,394.53" fill="#2e9a2e" fill-opacity="0.45"/>
<polygon points="453.52,409.90 455.52,413.90 451.52,413.90" fill="#2e9a2e" fill-opacity="0.45"/>
<polygon points="430.58,401.27 432.58,405.27 428.58,405.27" fill="#2e9a2e" fill-opacity="0.45"/>
<polygon points="444.75,437.42 446.75,441.42 442.75,441.42" fill="#2e9a2e" fill-opacity="0.45"/>
<polygon points="471.25,424.67 473.25,428.67 469.25,428.67" fill="#2e9a2e" fill-opacity="0.45"/>
<polygon points="460.02,425.20 462.02,429.20 458.02,429.20" fill="#2e9a2e" fill-opacity="0.45"/>
<polygon points="459.33,417.59 461.33,421.59 457.33,421.59" fill="#2e9a2e" fill-opacity="0.45"/>
<polygon points="447.79,417.62 449.79,421.62 445.79,421.62" fill="#2e9a2e" fill-opacity="0.45"/>
<polygon points="439.29,414.52 441.29,418.52 437.29,418.52" fill="#2e9a2e" fill-opacity="0.45"/>
<polygon points="443.45,404.90 445.45,408.90 441.45,408.90" fill="#2e9a2e" fill-opacity="0.45"/>
<polygon points="467.37,429.11 469.37,433.11 465.37,433.11" fill="#2e9a2e" fill-opacity="0.45"/>
<polygon points="445.48,428.93 447.48,432.93 443.48,432.93" fill="#2e9a2e" fill-opacity="0.45"/>
<polygon points="452.96,408.68 454.96,412.68 450.96,412.68" fill="#2e9a2e" fill-opacity="0.45"/>
<polygon points="444.56,438.28 446.56,442.28 442.56,442.28" fill="#2e9a2e" fill-opacity="0.45"/>
<polygon points="456.16,419.48 458.16,423.48 454.16,423.48" fill="#2e9a2e" fill-opacity="0.45"/>
<polygon points="458.51,442.80 460.51,446.80 456.51,446.80" fill="#2e9a2e" fill-opacity="0.45"/>
<polygon points="455.59,401.29 457.59,405.29 453.59,405.29" fill="#2e9a2e" fill-opacity="0.45"/>
<polygon points="443.99,420.23 445.99,424.23 441.99,424.23" fill="#2e9a2e" fill-opacity="0.45"/>
<polygon points="447.57,402.55 449.57,406.55 445.57,406.55" fill="#2e9a2e" fill-opacity="0.45"/>
<polygon points="445.69,414.13 447.69,418.13 443.69,418.13" fill="#2e9a2e" fill-opacity="0.45"/>
<polygon points="449.41,438.17 451.41,442.17 447.41,442.17" fill="#2e9a2e" fill-opacity="0.45"/>
<polygon points="453.54,406.06 455.54,410.06 451.54,410.06" fill="#2e9a2e" fill-opacity="0.45"/>
<polygon points="450.35,438.24 452.35,442.24 448.35,442.24" fill="#2e9a2e" fill-opacity="0.45"/>
<polygon points="449.10,427.37 451.10,431.37 447.10,431.37" fill="#2e9a2e" fill-opacity="0.45"/>
<polygon points="430.10,473.60 432.10,477.60 428.10,477.60" fill="#2e9a2e" fill-opacity="0.45"/>
<polygon points="445.10,469.80 447.10,473.80 443.10,473.80" fill="#2e9a2e" fill-opacity="0.45"/>
<polygon points="429.40,391.20 431.40,395.20 427.40,395.20" fill="#2e9a2e" fill-opacity="0.45"/>
<circle cx="447.66" cy="434.85" r="2.1" fill="#2e9a2e" fill-opacity="0.45"/>
<circle cx="424.32" cy="409.98" r="2.1" fill="#2e9a2e" fill-opacity="0.45"/>
<circle cx="439.69" cy="411.75" r="2.1" fill="#2e9a2e" fill-opacity="0.45"/>
<circle cx="441.60" cy="399.25" r="2.1" fill="#2e9a2e" fill-opacity="0.45"/>
<circle cx="419.56" cy="390.45" r="2.1" fill="#2e9a2e" fill-opacity="0.45"/>
<circle cx="464.88" cy="423.63" r="2.1" fill="#2e9a2e" fill-opacity="0.45"/>
<circle cx="447.89" cy="380.93" r="2.1" fill="#2e9a2e" fill-opacity="0.45"/>
<circle cx="457.64" cy="423.79" r="2.1" fill="#2e9a2e" fill-opacity="0.45"/>
<circle cx="447.82" cy="406.64" r="2.1" fill="#2e9a2e" fill-opacity="0.45"/>
<circle cx="453.45" cy="402.80" r="2.1" fill="#2e9a2e" fill-opacity="0.45"/>
<circle cx="457.20" cy="403.55" r="2.1" fill="#2e9a2e" fill-opacity="0.45"/>
<circle cx="442.89" cy="408.86" r="2.1" fill="#2e9a2e" fill-opacity="0.45"/>
<circle cx="450.89" cy="414.52" r="2.1" fill="#2e9a2e" fill-opacity="0.45"/>
<circle cx="438.21" cy="396.36" r="2.1" fill="#2e9a2e" fill-opacity="0.45"/>
<circle cx="430.17" cy="407.74" r="2.1" fill="#2e9a2e" fill-opacity="0.45"/>
<circle cx="452.09" cy="419.26" r="2.1" fill="#2e9a2e" fill-opacity="0.45"/>
<circle cx="447.98" cy="399.26" r="2.1" fill="#2e9a2e" fill-opacity="0.45"/>
<circle cx="441.97" cy="393.92" r="2.1" fill="#2e9a2e" fill-opacity="0.45"/>
<circle cx="443.84" cy="414.90" r="2.1" fill="#2e9a2e" fill-opacity="0.45"/>
<circle cx="433.41" cy="424.88" r="2.1" fill="#2e9a2e" fill-opacity="0.45"/>
<circle cx="440.75" cy="398.65" r="2.1" fill="#2e9a2e" fill-opacity="0.45"/>
<circle cx="480.00" cy="441.61" r="2.1" fill="#2e9a2e" fill-opacity="0.45"/>
<circle cx="422.60" cy="367.20" r="2.1" fill="#2e9a2e" fill-opacity="0.45"/>
<circle cx="432.80" cy="367.90" r="2.1" fill="#2e9a2e" fill-opacity="0.45"/>
<circle cx="427.30" cy="381.10" r="2.1" fill="#2e9a2e" fill-opacity="0.45"/>
<circle cx="442.70" cy="374.00" r="2.1" fill="#2e9a2e" fill-opacity="0.45"/>
<circle cx="442.10" cy="385.50" r="2.1" fill="#2e9a2e" fill-opacity="0.45"/>
<circle cx="452.00" cy="403.40" r="2.1" fill="#2e9a2e" fill-opacity="0.45"/>
<circle cx="373.20" cy="345.30" r="2.1" fill="#b22222" fill-opacity="0.5"/>
<circle cx="417.10" cy="362.60" r="2.1" fill="#b22222" fill-opacity="0.5"/>
<circle cx="420.10" cy="361.70" r="2.1" fill="#b22222" fill-opacity="0.5"/>
<circle cx="421.40" cy="371.60" r="2.1" fill="#b22222" fill-opacity="0.5"/>
<circle cx="435.90" cy="388.50" r="2.1" fill="#b22222" fill-opacity="0.5"/>
<circle cx="444.80" cy="401.90" r="2.1" fill="#b22222" fill-opacity="0.5"/>
<circle cx="439.40" cy="407.40" r="2.1" fill="#b22222" fill-opacity="0.5"/>
<circle cx="423.90" cy="415.40" r="2.1" fill="#b22222" fill-opacity="0.5"/>
<polygon points="387.70,455.70 389.70,459.70 385.70,459.70" fill="#b22222" fill-opacity="0.5"/>
<polygon points="441.00,422.00 443.00,426.00 439.00,426.00" fill="#b22222" fill-opacity="0.5"/>
<polygon points="452.00,428.00 454.00,432.00 450.00,432.00" fill="#b22222" fill-opacity="0.5"/>
<polygon points="437.00,416.00 439.00,420.00 435.00,420.00" fill="#b22222" fill-opacity="0.5"/>
<ellipse cx="414.00" cy="385.30" rx="80.70" ry="50.70" transform="rotate(7.66 414.00 385.30)" fill="none" stroke="#b22222" stroke-width="1.45"/>
<ellipse cx="439.50" cy="429.60" rx="47.70" ry="15.10" transform="rotate(-24.00 439.50 429.60)" fill="none" stroke="#b22222" stroke-width="1.45"/>
<ellipse cx="460.90" cy="410.00" rx="33.80" ry="12.30" transform="rotate(-52.30 460.90 410.00)" fill="none" stroke="#b0b0b0" stroke-width="1.45"/>
<ellipse cx="446.20" cy="433.30" rx="24.70" ry="20.30" transform="rotate(-5.00 446.20 433.30)" fill="none" stroke="#4169e1" stroke-width="1.45"/>
<ellipse cx="445.80" cy="408.70" rx="38.00" ry="20.70" transform="rotate(63.90 445.80 408.70)" fill="none" stroke="#2e9a2e" stroke-width="1.45"/>
<ellipse cx="446.50" cy="427.60" rx="34.60" ry="21.80" transform="rotate(-69.90 446.50 427.60)" fill="none" stroke="#2e9a2e" stroke-width="1.45"/>
<polygon points="460.80,403.80 466.80,409.80 460.80,415.80 454.80,409.80" fill="#a9a9a9" fill-opacity="1" stroke="#000" stroke-width="0.8"/>
<circle cx="413.90" cy="385.10" r="4.2" fill="#b22222" fill-opacity="1" stroke="#000" stroke-width="0.8"/>
<circle cx="445.85" cy="408.50" r="4.2" fill="#2e9a2e" fill-opacity="1" stroke="#000" stroke-width="0.8"/>
<polygon points="439.70,426.30 443.80,434.50 435.60,434.50" fill="#b22222" fill-opacity="1" stroke="#000" stroke-width="0.8"/>
<polygon points="446.20,423.90 450.30,432.10 442.10,432.10" fill="#2e9a2e" fill-opacity="1" stroke="#000" stroke-width="0.8"/>
<polygon points="447.00,428.70 452.70,434.40 447.00,440.10 441.30,434.40" fill="#4169e1" fill-opacity="1" stroke="#000" stroke-width="0.8"/>
<line x1="413.90" y1="385.10" x2="436.58" y2="421.94" stroke="#000" stroke-width="1.6"/>
<polygon points="439.20,426.20 434.28,423.36 438.88,420.53" fill="#000"/>
<line x1="445.85" y1="408.50" x2="445.96" y2="419.60" stroke="#000" stroke-width="1.5"/>
<polygon points="446.00,423.80 443.76,419.62 448.16,419.58" fill="#000"/>
<text x="594.60" y="358.90" font-size="9.95" fill="#262626" text-anchor="middle" textLength="33.80" lengthAdjust="spacingAndGlyphs">Groups</text>
<circle cx="552.70" cy="368.80" r="3.4" fill="#b22222" fill-opacity="1"/>
<text x="568.60" y="372.00" font-size="8.93" fill="#262626" text-anchor="start" textLength="60.35" lengthAdjust="spacingAndGlyphs">Severe(Acute)</text>
<polygon points="552.70,378.20 556.00,384.80 549.40,384.80" fill="#b22222" fill-opacity="1"/>
<text x="568.60" y="384.70" font-size="8.93" fill="#262626" text-anchor="start" textLength="75.47" lengthAdjust="spacingAndGlyphs">Severe(Recovery)</text>
<circle cx="552.70" cy="394.20" r="3.4" fill="#2e9a2e" fill-opacity="1"/>
<text x="568.60" y="397.40" font-size="8.93" fill="#262626" text-anchor="start" textLength="48.37" lengthAdjust="spacingAndGlyphs">Mild(Acute)</text>
<polygon points="552.70,403.60 556.00,410.20 549.40,410.20" fill="#2e9a2e" fill-opacity="1"/>
<text x="568.60" y="410.10" font-size="8.93" fill="#262626" text-anchor="start" textLength="63.50" lengthAdjust="spacingAndGlyphs">Mild(Recovery)</text>
<polygon points="552.70,415.00 557.30,419.60 552.70,424.20 548.10,419.60" fill="#4169e1" fill-opacity="1"/>
<text x="568.60" y="422.80" font-size="8.93" fill="#262626" text-anchor="start" textLength="57.41" lengthAdjust="spacingAndGlyphs">Convalescent</text>
<polygon points="552.70,427.70 557.30,432.30 552.70,436.90 548.10,432.30" fill="#a9a9a9" fill-opacity="1"/>
<text x="568.60" y="435.50" font-size="8.93" fill="#262626" text-anchor="start" textLength="32.94" lengthAdjust="spacingAndGlyphs">Healthy</text>
</svg></body></html>
